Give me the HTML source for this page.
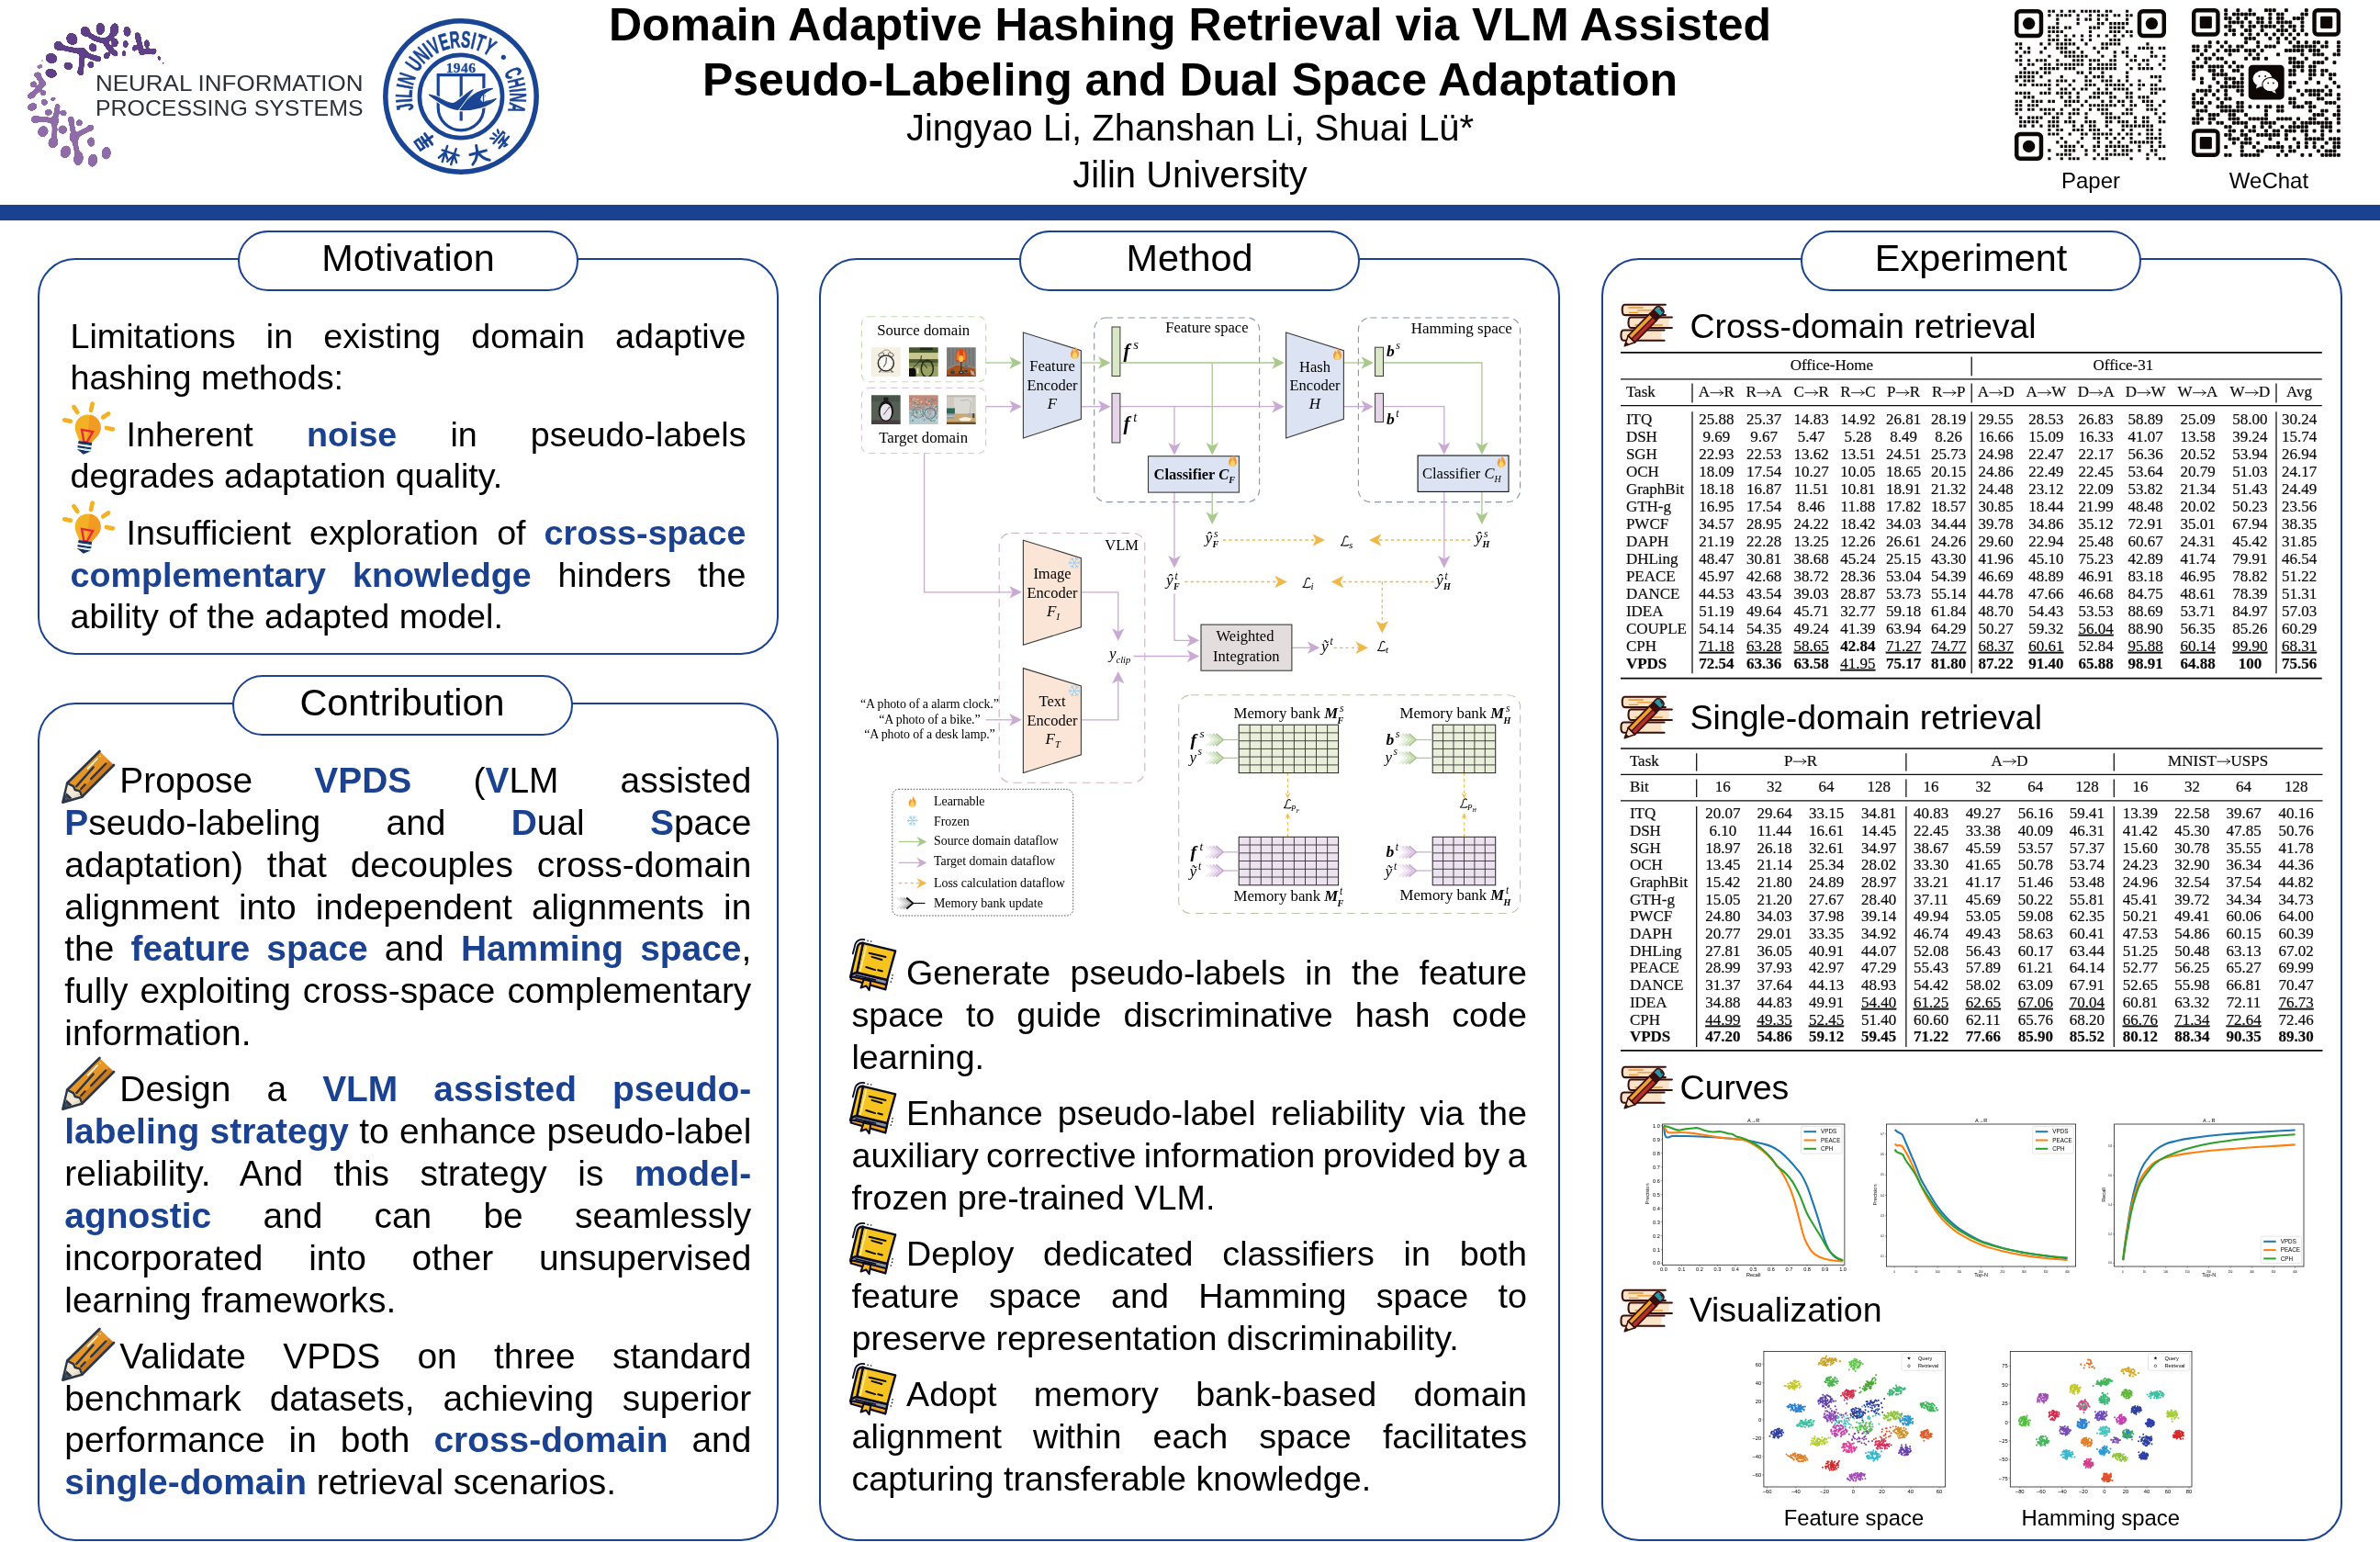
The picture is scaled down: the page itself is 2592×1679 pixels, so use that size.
<!DOCTYPE html>
<html><head><meta charset="utf-8"><title>Poster</title>
<style>
html,body{margin:0;padding:0;background:#fff;}
body{width:2592px;height:1679px;position:relative;overflow:hidden;will-change:transform;font-family:"Liberation Sans",sans-serif;color:#000;}
.abs{position:absolute;}
.box{position:absolute;border:2.5px solid #1a4291;border-radius:41px;box-sizing:border-box;background:#fff;}
.pill{position:absolute;border:2.5px solid #1a4291;border-radius:33px;box-sizing:border-box;background:#fff;text-align:center;font-size:41.4px;}
.ln{position:absolute;white-space:nowrap;font-size:37.7px;line-height:46px;height:46px;}
.j{text-align:justify;text-align-last:justify;white-space:normal;}
b.k{color:#1a4291;font-weight:bold;}
.sec{position:absolute;white-space:nowrap;font-size:37.5px;line-height:46px;}
.ser{font-family:"Liberation Serif",serif;}
svg{position:absolute;overflow:visible;}
svg text{font-family:"Liberation Serif",serif;}
svg text.sans{font-family:"Liberation Sans",sans-serif;}
</style></head><body>

<div class="abs" style="left:0;top:223px;width:2592px;height:17.2px;background:#1a4291"></div>
<div class="abs" style="left:0;width:2592px;top:-3px;text-align:center;font-weight:bold;font-size:50px;line-height:60px;white-space:nowrap;">Domain Adaptive Hashing Retrieval via VLM Assisted<br>Pseudo-Labeling and Dual Space Adaptation</div>
<div class="abs" style="left:0;width:2592px;top:113.7px;text-align:center;font-size:40px;line-height:51.5px;white-space:nowrap;">Jingyao Li, Zhanshan Li, Shuai Lü*<br>Jilin University</div>
<div class="abs" style="left:2177px;width:200px;top:182px;text-align:center;font-size:24px;line-height:30px;">Paper</div>
<div class="abs" style="left:2371px;width:200px;top:182px;text-align:center;font-size:24px;line-height:30px;">WeChat</div>
<svg width="200" height="180" viewBox="0 0 1713 1542" style="left:20px;top:15px;"><defs><filter id="goo" x="-5%" y="-5%" width="110%" height="110%"><feGaussianBlur in="SourceGraphic" stdDeviation="9" result="b"/><feColorMatrix in="b" mode="matrix" values="1 0 0 0 0  0 1 0 0 0  0 0 1 0 0  0 0 0 16 -5.2"/></filter></defs><g filter="url(#goo)"><path d="M625 165 C700 240 760 250 800 250 C860 240 880 200 895 150 M800 250 C830 300 870 350 905 372 M375 300 C450 340 520 330 600 360 C660 400 700 410 740 420 M600 360 C590 430 590 500 580 545 M1115 215 C1130 280 1140 330 1150 360 C1200 350 1230 340 1262 352" fill="none" stroke="#5f3f86" stroke-width="44" stroke-linecap="round"/><ellipse cx="765" cy="140" rx="38" ry="55" fill="#5f3f86" transform="rotate(0 765 140)"/><ellipse cx="895" cy="150" rx="38" ry="60" fill="#5f3f86" transform="rotate(10 895 150)"/><ellipse cx="1015" cy="165" rx="32" ry="45" fill="#5f3f86" transform="rotate(-5 1015 165)"/><ellipse cx="1115" cy="215" rx="25" ry="40" fill="#5f3f86" transform="rotate(-15 1115 215)"/><ellipse cx="1198" cy="280" rx="22" ry="35" fill="#5f3f86" transform="rotate(-5 1198 280)"/><ellipse cx="625" cy="165" rx="42" ry="45" fill="#5f3f86" transform="rotate(-30 625 165)"/><ellipse cx="500" cy="235" rx="48" ry="55" fill="#5f3f86" transform="rotate(-30 500 235)"/><ellipse cx="900" cy="270" rx="28" ry="38" fill="#5f3f86" transform="rotate(0 900 270)"/><ellipse cx="1000" cy="283" rx="22" ry="32" fill="#5f3f86" transform="rotate(0 1000 283)"/><ellipse cx="1085" cy="320" rx="20" ry="28" fill="#5f3f86" transform="rotate(10 1085 320)"/><ellipse cx="695" cy="315" rx="33" ry="38" fill="#5f3f86" transform="rotate(-20 695 315)"/><ellipse cx="375" cy="300" rx="44" ry="40" fill="#5f3f86" transform="rotate(30 375 300)"/><ellipse cx="825" cy="390" rx="25" ry="30" fill="#5f3f86" transform="rotate(20 825 390)"/><ellipse cx="905" cy="372" rx="18" ry="25" fill="#5f3f86" transform="rotate(-10 905 372)"/><ellipse cx="985" cy="370" rx="17" ry="25" fill="#5f3f86" transform="rotate(0 985 370)"/><ellipse cx="1262" cy="352" rx="22" ry="30" fill="#5f3f86" transform="rotate(30 1262 352)"/><ellipse cx="1313" cy="415" rx="12" ry="25" fill="#5f3f86" transform="rotate(-15 1313 415)"/><ellipse cx="1350" cy="460" rx="9" ry="14" fill="#5f3f86" transform="rotate(-20 1350 460)"/><ellipse cx="308" cy="415" rx="52" ry="45" fill="#5f3f86" transform="rotate(20 308 415)"/><ellipse cx="465" cy="487" rx="40" ry="33" fill="#5f3f86" transform="rotate(15 465 487)"/><ellipse cx="675" cy="475" rx="27" ry="28" fill="#5f3f86" transform="rotate(0 675 475)"/><ellipse cx="740" cy="420" rx="32" ry="25" fill="#5f3f86" transform="rotate(20 740 420)"/><ellipse cx="580" cy="545" rx="28" ry="28" fill="#5f3f86" transform="rotate(0 580 545)"/><ellipse cx="305" cy="555" rx="52" ry="40" fill="#5f3f86" transform="rotate(15 305 555)"/><ellipse cx="600" cy="360" rx="52" ry="38" fill="#5f3f86" transform="rotate(30 600 360)"/></g><g filter="url(#goo)"><path d="M160 985 C230 975 290 990 335 1000 C340 1080 340 1150 325 1200 M365 863 C360 920 350 960 335 1000 M490 985 C500 1050 510 1100 520 1150 C580 1110 620 1090 672 1065 M520 1150 C530 1230 550 1290 560 1350 M178 570 C200 610 215 630 230 650 C190 700 150 740 120 762" fill="none" stroke="#8f6ca7" stroke-width="42" stroke-linecap="round"/><ellipse cx="222" cy="437" rx="16" ry="8" fill="#a68abb" transform="rotate(-15 222 437)"/><ellipse cx="200" cy="492" rx="28" ry="15" fill="#9574ad" transform="rotate(-15 200 492)"/><ellipse cx="178" cy="570" rx="32" ry="22" fill="#8f6ca7" transform="rotate(-10 178 570)"/><ellipse cx="140" cy="657" rx="30" ry="25" fill="#8f6ca7" transform="rotate(-20 140 657)"/><ellipse cx="230" cy="650" rx="26" ry="26" fill="#8f6ca7" transform="rotate(0 230 650)"/><ellipse cx="232" cy="738" rx="25" ry="22" fill="#8f6ca7" transform="rotate(-20 232 738)"/><ellipse cx="120" cy="762" rx="36" ry="25" fill="#8f6ca7" transform="rotate(-25 120 762)"/><ellipse cx="325" cy="795" rx="25" ry="15" fill="#8f6ca7" transform="rotate(-15 325 795)"/><ellipse cx="242" cy="825" rx="28" ry="27" fill="#8f6ca7" transform="rotate(-20 242 825)"/><ellipse cx="130" cy="868" rx="44" ry="33" fill="#8f6ca7" transform="rotate(-20 130 868)"/><ellipse cx="365" cy="863" rx="20" ry="22" fill="#8f6ca7" transform="rotate(0 365 863)"/><ellipse cx="280" cy="918" rx="33" ry="27" fill="#8f6ca7" transform="rotate(-15 280 918)"/><ellipse cx="420" cy="925" rx="28" ry="27" fill="#8f6ca7" transform="rotate(-10 420 925)"/><ellipse cx="160" cy="985" rx="40" ry="34" fill="#8f6ca7" transform="rotate(-20 160 985)"/><ellipse cx="490" cy="985" rx="25" ry="28" fill="#8f6ca7" transform="rotate(0 490 985)"/><ellipse cx="568" cy="1017" rx="27" ry="28" fill="#8f6ca7" transform="rotate(0 568 1017)"/><ellipse cx="672" cy="1065" rx="28" ry="28" fill="#8f6ca7" transform="rotate(0 672 1065)"/><ellipse cx="230" cy="1098" rx="45" ry="50" fill="#8f6ca7" transform="rotate(30 230 1098)"/><ellipse cx="415" cy="1080" rx="38" ry="38" fill="#8f6ca7" transform="rotate(20 415 1080)"/><ellipse cx="335" cy="1000" rx="40" ry="40" fill="#8f6ca7" transform="rotate(0 335 1000)"/><ellipse cx="325" cy="1200" rx="42" ry="52" fill="#8f6ca7" transform="rotate(25 325 1200)"/><ellipse cx="520" cy="1150" rx="42" ry="50" fill="#8f6ca7" transform="rotate(0 520 1150)"/><ellipse cx="678" cy="1195" rx="32" ry="42" fill="#8f6ca7" transform="rotate(-5 678 1195)"/><ellipse cx="440" cy="1288" rx="45" ry="57" fill="#8f6ca7" transform="rotate(20 440 1288)"/><ellipse cx="560" cy="1350" rx="42" ry="62" fill="#8f6ca7" transform="rotate(10 560 1350)"/><ellipse cx="693" cy="1368" rx="42" ry="58" fill="#8f6ca7" transform="rotate(10 693 1368)"/><ellipse cx="820" cy="1300" rx="40" ry="57" fill="#8f6ca7" transform="rotate(5 820 1300)"/></g></svg><svg width="300" height="60" style="left:103.5px;top:75px;"><g class="sans" fill="#2d3038" font-size="24.2"><text class="sans" x="0" y="24.2" textLength="291.5" lengthAdjust="spacingAndGlyphs">NEURAL INFORMATION</text><text class="sans" x="0" y="51.2" textLength="291.5" lengthAdjust="spacingAndGlyphs">PROCESSING SYSTEMS</text></g></svg><svg width="190" height="190" viewBox="-95 -95 190 190" style="left:406.8px;top:9.900000000000006px;"><circle r="82.2" fill="#fff" stroke="#1a4595" stroke-width="5.5"/><circle r="45.1" fill="none" stroke="#1a4595" stroke-width="4.6"/><text class="sans" transform="translate(-52.42 10.21) rotate(-101.0) scale(0.600 1)" x="0" y="0" text-anchor="middle" font-size="25.5" font-weight="bold" fill="#1a4595" stroke="#1a4595" stroke-width="0.6">J</text><text class="sans" transform="translate(-53.25 4.00) rotate(-94.3) scale(0.600 1)" x="0" y="0" text-anchor="middle" font-size="25.5" font-weight="bold" fill="#1a4595" stroke="#1a4595" stroke-width="0.6">I</text><text class="sans" transform="translate(-53.33 -2.67) rotate(-87.1) scale(0.600 1)" x="0" y="0" text-anchor="middle" font-size="25.5" font-weight="bold" fill="#1a4595" stroke="#1a4595" stroke-width="0.6">L</text><text class="sans" transform="translate(-52.58 -9.31) rotate(-80.0) scale(0.600 1)" x="0" y="0" text-anchor="middle" font-size="25.5" font-weight="bold" fill="#1a4595" stroke="#1a4595" stroke-width="0.6">I</text><text class="sans" transform="translate(-50.76 -16.59) rotate(-71.9) scale(0.600 1)" x="0" y="0" text-anchor="middle" font-size="25.5" font-weight="bold" fill="#1a4595" stroke="#1a4595" stroke-width="0.6">N</text><text class="sans" transform="translate(-43.97 -30.30) rotate(-55.4) scale(0.600 1)" x="0" y="0" text-anchor="middle" font-size="25.5" font-weight="bold" fill="#1a4595" stroke="#1a4595" stroke-width="0.6">U</text><text class="sans" transform="translate(-36.95 -38.55) rotate(-43.8) scale(0.600 1)" x="0" y="0" text-anchor="middle" font-size="25.5" font-weight="bold" fill="#1a4595" stroke="#1a4595" stroke-width="0.6">N</text><text class="sans" transform="translate(-31.18 -43.35) rotate(-35.7) scale(0.600 1)" x="0" y="0" text-anchor="middle" font-size="25.5" font-weight="bold" fill="#1a4595" stroke="#1a4595" stroke-width="0.6">I</text><text class="sans" transform="translate(-25.16 -47.10) rotate(-28.1) scale(0.600 1)" x="0" y="0" text-anchor="middle" font-size="25.5" font-weight="bold" fill="#1a4595" stroke="#1a4595" stroke-width="0.6">V</text><text class="sans" transform="translate(-15.93 -50.97) rotate(-17.4) scale(0.600 1)" x="0" y="0" text-anchor="middle" font-size="25.5" font-weight="bold" fill="#1a4595" stroke="#1a4595" stroke-width="0.6">E</text><text class="sans" transform="translate(-5.73 -53.09) rotate(-6.2) scale(0.600 1)" x="0" y="0" text-anchor="middle" font-size="25.5" font-weight="bold" fill="#1a4595" stroke="#1a4595" stroke-width="0.6">R</text><text class="sans" transform="translate(4.69 -53.19) rotate(5.0) scale(0.600 1)" x="0" y="0" text-anchor="middle" font-size="25.5" font-weight="bold" fill="#1a4595" stroke="#1a4595" stroke-width="0.6">S</text><text class="sans" transform="translate(11.70 -52.10) rotate(12.7) scale(0.600 1)" x="0" y="0" text-anchor="middle" font-size="25.5" font-weight="bold" fill="#1a4595" stroke="#1a4595" stroke-width="0.6">I</text><text class="sans" transform="translate(18.11 -50.24) rotate(19.8) scale(0.600 1)" x="0" y="0" text-anchor="middle" font-size="25.5" font-weight="bold" fill="#1a4595" stroke="#1a4595" stroke-width="0.6">T</text><text class="sans" transform="translate(26.80 -46.19) rotate(30.1) scale(0.600 1)" x="0" y="0" text-anchor="middle" font-size="25.5" font-weight="bold" fill="#1a4595" stroke="#1a4595" stroke-width="0.6">Y</text><text class="sans" transform="translate(48.71 -21.89) rotate(65.8) scale(0.547 1)" x="0" y="0" text-anchor="middle" font-size="25.5" font-weight="bold" fill="#1a4595" stroke="#1a4595" stroke-width="0.6">C</text><text class="sans" transform="translate(51.90 -12.55) rotate(76.4) scale(0.547 1)" x="0" y="0" text-anchor="middle" font-size="25.5" font-weight="bold" fill="#1a4595" stroke="#1a4595" stroke-width="0.6">H</text><text class="sans" transform="translate(53.08 -5.81) rotate(83.8) scale(0.547 1)" x="0" y="0" text-anchor="middle" font-size="25.5" font-weight="bold" fill="#1a4595" stroke="#1a4595" stroke-width="0.6">I</text><text class="sans" transform="translate(53.39 1.02) rotate(91.1) scale(0.547 1)" x="0" y="0" text-anchor="middle" font-size="25.5" font-weight="bold" fill="#1a4595" stroke="#1a4595" stroke-width="0.6">N</text><text class="sans" transform="translate(52.29 10.83) rotate(101.7) scale(0.547 1)" x="0" y="0" text-anchor="middle" font-size="25.5" font-weight="bold" fill="#1a4595" stroke="#1a4595" stroke-width="0.6">A</text><circle cx="46.3" cy="-42.7" r="2.6" fill="#1a4595"/><text x="0" y="-26" font-size="15.5" font-weight="bold" text-anchor="middle" fill="#1a4595" stroke="#1a4595" stroke-width="0.3" letter-spacing="0.4">1946</text><path d="M-24.8 -23.4 H24.9 V12.3 A24.8 24.5 0 0 1 -24.8 12.3 Z" fill="none" stroke="#1a4595" stroke-width="3.2"/><path d="M0.2 -23.4 V26.5" stroke="#1a4595" stroke-width="3.2"/><path d="M-34.6 -1.8 C-22.9 0.0 -16.8 8.0 -8.1 7.6 C0.5 3.7 6.7 -4.9 13.4 -7.1 C9.1 0.0 1.7 9.9 -3.2 14.5 C-10.6 13.6 -22.9 7.4 -34.6 -1.8Z M-1.4 14.5 C7.9 3.7 14.0 -6.8 34.4 -8.6 C26.4 -4.9 21.4 -0.6 20.4 3.7 C26.4 7.4 33.8 4.3 38.1 2.5 C31.3 10.5 14.0 15.4 -1.4 14.5Z" fill="none" stroke="#fff" stroke-width="3.6"/><path d="M-34.6 -1.8 C-22.9 0.0 -16.8 8.0 -8.1 7.6 C0.5 3.7 6.7 -4.9 13.4 -7.1 C9.1 0.0 1.7 9.9 -3.2 14.5 C-10.6 13.6 -22.9 7.4 -34.6 -1.8Z M-1.4 14.5 C7.9 3.7 14.0 -6.8 34.4 -8.6 C26.4 -4.9 21.4 -0.6 20.4 3.7 C26.4 7.4 33.8 4.3 38.1 2.5 C31.3 10.5 14.0 15.4 -1.4 14.5Z" fill="#1a4595" stroke="#1a4595" stroke-width="1.2" stroke-linejoin="round"/><path d="M14.7 -8.0L-2.2 14.8" stroke="#fff" stroke-width="1"/><ellipse cx="24.5" cy="2.5" rx="2.6" ry="3.6" fill="#fff"/><path d="M24.5 -3.7V8.6" stroke="#1a4595" stroke-width="1.4"/><g transform="translate(-39.5 49.3) rotate(55) scale(1.0)" stroke="#1a4595" stroke-linecap="round" fill="none" stroke-width="3"><path d="M-7 -5H7M0 -10V1M-6 0H6" stroke-width="3"/><path d="M-6 4H5V9H-6Z" stroke-width="2.6"/></g><g transform="translate(-12.8 64.1) rotate(18) scale(1.0)" stroke="#1a4595" stroke-linecap="round" fill="none" stroke-width="3"><path d="M-9 -3H-1M-5 -9V9M-5 -2L-10 6M-5 -2L-1 4M1 -3H10M5 -9V9M5 -2L0 7M5 -2L10 5" stroke-width="2.4"/></g><g transform="translate(19.2 63.1) rotate(-15) scale(1.0)" stroke="#1a4595" stroke-linecap="round" fill="none" stroke-width="3"><path d="M-9 -2H9M0 -10C0 -2 -3 5 -9 9M0 -2C2 4 5 7 10 9" stroke-width="3"/></g><g transform="translate(43.0 46.8) rotate(-50) scale(1.0)" stroke="#1a4595" stroke-linecap="round" fill="none" stroke-width="3"><path d="M-6 -9L-4 -6M0 -10V-6M6 -9L4 -6M-8 -3H8V-1M-4 1H4L0 4V9L-3 8M-8 5H8" stroke-width="2.4"/></g></svg><svg width="165" height="165" viewBox="0 0 37 37" style="left:2193.8px;top:9.6px;" shape-rendering="geometricPrecision"><path d="M8.15 0.15h0.7v0.7h-0.7zM9.15 0.15h0.7v0.7h-0.7zM11.15 0.15h0.7v0.7h-0.7zM13.15 0.15h0.7v0.7h-0.7zM14.15 0.15h0.7v0.7h-0.7zM16.15 0.15h0.7v0.7h-0.7zM17.15 0.15h0.7v0.7h-0.7zM18.15 0.15h0.7v0.7h-0.7zM19.15 0.15h0.7v0.7h-0.7zM20.15 0.15h0.7v0.7h-0.7zM22.15 0.15h0.7v0.7h-0.7zM23.15 0.15h0.7v0.7h-0.7zM27.15 0.15h0.7v0.7h-0.7zM8.15 1.15h0.7v0.7h-0.7zM10.15 1.15h0.7v0.7h-0.7zM11.15 1.15h0.7v0.7h-0.7zM12.15 1.15h0.7v0.7h-0.7zM13.15 1.15h0.7v0.7h-0.7zM15.15 1.15h0.7v0.7h-0.7zM18.15 1.15h0.7v0.7h-0.7zM20.15 1.15h0.7v0.7h-0.7zM21.15 1.15h0.7v0.7h-0.7zM22.15 1.15h0.7v0.7h-0.7zM24.15 1.15h0.7v0.7h-0.7zM25.15 1.15h0.7v0.7h-0.7zM27.15 1.15h0.7v0.7h-0.7zM28.15 1.15h0.7v0.7h-0.7zM10.15 2.15h0.7v0.7h-0.7zM15.15 2.15h0.7v0.7h-0.7zM17.15 2.15h0.7v0.7h-0.7zM18.15 2.15h0.7v0.7h-0.7zM20.15 2.15h0.7v0.7h-0.7zM22.15 2.15h0.7v0.7h-0.7zM27.15 2.15h0.7v0.7h-0.7zM10.15 3.15h0.7v0.7h-0.7zM15.15 3.15h0.7v0.7h-0.7zM20.15 3.15h0.7v0.7h-0.7zM21.15 3.15h0.7v0.7h-0.7zM23.15 3.15h0.7v0.7h-0.7zM24.15 3.15h0.7v0.7h-0.7zM25.15 3.15h0.7v0.7h-0.7zM26.15 3.15h0.7v0.7h-0.7zM27.15 3.15h0.7v0.7h-0.7zM8.15 4.15h0.7v0.7h-0.7zM9.15 4.15h0.7v0.7h-0.7zM10.15 4.15h0.7v0.7h-0.7zM12.15 4.15h0.7v0.7h-0.7zM13.15 4.15h0.7v0.7h-0.7zM18.15 4.15h0.7v0.7h-0.7zM19.15 4.15h0.7v0.7h-0.7zM20.15 4.15h0.7v0.7h-0.7zM23.15 4.15h0.7v0.7h-0.7zM24.15 4.15h0.7v0.7h-0.7zM25.15 4.15h0.7v0.7h-0.7zM26.15 4.15h0.7v0.7h-0.7zM8.15 5.15h0.7v0.7h-0.7zM9.15 5.15h0.7v0.7h-0.7zM10.15 5.15h0.7v0.7h-0.7zM11.15 5.15h0.7v0.7h-0.7zM18.15 5.15h0.7v0.7h-0.7zM23.15 5.15h0.7v0.7h-0.7zM24.15 5.15h0.7v0.7h-0.7zM25.15 5.15h0.7v0.7h-0.7zM27.15 5.15h0.7v0.7h-0.7zM28.15 5.15h0.7v0.7h-0.7zM8.15 6.15h0.7v0.7h-0.7zM10.15 6.15h0.7v0.7h-0.7zM12.15 6.15h0.7v0.7h-0.7zM14.15 6.15h0.7v0.7h-0.7zM16.15 6.15h0.7v0.7h-0.7zM18.15 6.15h0.7v0.7h-0.7zM20.15 6.15h0.7v0.7h-0.7zM22.15 6.15h0.7v0.7h-0.7zM24.15 6.15h0.7v0.7h-0.7zM26.15 6.15h0.7v0.7h-0.7zM28.15 6.15h0.7v0.7h-0.7zM8.15 7.15h0.7v0.7h-0.7zM9.15 7.15h0.7v0.7h-0.7zM10.15 7.15h0.7v0.7h-0.7zM12.15 7.15h0.7v0.7h-0.7zM13.15 7.15h0.7v0.7h-0.7zM16.15 7.15h0.7v0.7h-0.7zM18.15 7.15h0.7v0.7h-0.7zM23.15 7.15h0.7v0.7h-0.7zM24.15 7.15h0.7v0.7h-0.7zM25.15 7.15h0.7v0.7h-0.7zM0.15 8.15h0.7v0.7h-0.7zM1.15 8.15h0.7v0.7h-0.7zM6.15 8.15h0.7v0.7h-0.7zM8.15 8.15h0.7v0.7h-0.7zM10.15 8.15h0.7v0.7h-0.7zM11.15 8.15h0.7v0.7h-0.7zM12.15 8.15h0.7v0.7h-0.7zM13.15 8.15h0.7v0.7h-0.7zM14.15 8.15h0.7v0.7h-0.7zM17.15 8.15h0.7v0.7h-0.7zM21.15 8.15h0.7v0.7h-0.7zM22.15 8.15h0.7v0.7h-0.7zM23.15 8.15h0.7v0.7h-0.7zM24.15 8.15h0.7v0.7h-0.7zM25.15 8.15h0.7v0.7h-0.7zM32.15 8.15h0.7v0.7h-0.7zM1.15 9.15h0.7v0.7h-0.7zM3.15 9.15h0.7v0.7h-0.7zM7.15 9.15h0.7v0.7h-0.7zM10.15 9.15h0.7v0.7h-0.7zM11.15 9.15h0.7v0.7h-0.7zM12.15 9.15h0.7v0.7h-0.7zM15.15 9.15h0.7v0.7h-0.7zM19.15 9.15h0.7v0.7h-0.7zM21.15 9.15h0.7v0.7h-0.7zM22.15 9.15h0.7v0.7h-0.7zM27.15 9.15h0.7v0.7h-0.7zM30.15 9.15h0.7v0.7h-0.7zM31.15 9.15h0.7v0.7h-0.7zM32.15 9.15h0.7v0.7h-0.7zM33.15 9.15h0.7v0.7h-0.7zM35.15 9.15h0.7v0.7h-0.7zM36.15 9.15h0.7v0.7h-0.7zM0.15 10.15h0.7v0.7h-0.7zM2.15 10.15h0.7v0.7h-0.7zM3.15 10.15h0.7v0.7h-0.7zM6.15 10.15h0.7v0.7h-0.7zM11.15 10.15h0.7v0.7h-0.7zM12.15 10.15h0.7v0.7h-0.7zM13.15 10.15h0.7v0.7h-0.7zM14.15 10.15h0.7v0.7h-0.7zM16.15 10.15h0.7v0.7h-0.7zM20.15 10.15h0.7v0.7h-0.7zM24.15 10.15h0.7v0.7h-0.7zM26.15 10.15h0.7v0.7h-0.7zM27.15 10.15h0.7v0.7h-0.7zM33.15 10.15h0.7v0.7h-0.7zM1.15 11.15h0.7v0.7h-0.7zM8.15 11.15h0.7v0.7h-0.7zM12.15 11.15h0.7v0.7h-0.7zM13.15 11.15h0.7v0.7h-0.7zM14.15 11.15h0.7v0.7h-0.7zM15.15 11.15h0.7v0.7h-0.7zM16.15 11.15h0.7v0.7h-0.7zM17.15 11.15h0.7v0.7h-0.7zM21.15 11.15h0.7v0.7h-0.7zM24.15 11.15h0.7v0.7h-0.7zM27.15 11.15h0.7v0.7h-0.7zM29.15 11.15h0.7v0.7h-0.7zM33.15 11.15h0.7v0.7h-0.7zM34.15 11.15h0.7v0.7h-0.7zM36.15 11.15h0.7v0.7h-0.7zM0.15 12.15h0.7v0.7h-0.7zM1.15 12.15h0.7v0.7h-0.7zM3.15 12.15h0.7v0.7h-0.7zM5.15 12.15h0.7v0.7h-0.7zM6.15 12.15h0.7v0.7h-0.7zM7.15 12.15h0.7v0.7h-0.7zM10.15 12.15h0.7v0.7h-0.7zM14.15 12.15h0.7v0.7h-0.7zM15.15 12.15h0.7v0.7h-0.7zM16.15 12.15h0.7v0.7h-0.7zM18.15 12.15h0.7v0.7h-0.7zM19.15 12.15h0.7v0.7h-0.7zM20.15 12.15h0.7v0.7h-0.7zM23.15 12.15h0.7v0.7h-0.7zM24.15 12.15h0.7v0.7h-0.7zM28.15 12.15h0.7v0.7h-0.7zM29.15 12.15h0.7v0.7h-0.7zM31.15 12.15h0.7v0.7h-0.7zM32.15 12.15h0.7v0.7h-0.7zM36.15 12.15h0.7v0.7h-0.7zM1.15 13.15h0.7v0.7h-0.7zM3.15 13.15h0.7v0.7h-0.7zM4.15 13.15h0.7v0.7h-0.7zM7.15 13.15h0.7v0.7h-0.7zM8.15 13.15h0.7v0.7h-0.7zM10.15 13.15h0.7v0.7h-0.7zM11.15 13.15h0.7v0.7h-0.7zM12.15 13.15h0.7v0.7h-0.7zM13.15 13.15h0.7v0.7h-0.7zM14.15 13.15h0.7v0.7h-0.7zM15.15 13.15h0.7v0.7h-0.7zM16.15 13.15h0.7v0.7h-0.7zM18.15 13.15h0.7v0.7h-0.7zM20.15 13.15h0.7v0.7h-0.7zM21.15 13.15h0.7v0.7h-0.7zM22.15 13.15h0.7v0.7h-0.7zM23.15 13.15h0.7v0.7h-0.7zM24.15 13.15h0.7v0.7h-0.7zM27.15 13.15h0.7v0.7h-0.7zM30.15 13.15h0.7v0.7h-0.7zM32.15 13.15h0.7v0.7h-0.7zM35.15 13.15h0.7v0.7h-0.7zM2.15 14.15h0.7v0.7h-0.7zM6.15 14.15h0.7v0.7h-0.7zM7.15 14.15h0.7v0.7h-0.7zM8.15 14.15h0.7v0.7h-0.7zM9.15 14.15h0.7v0.7h-0.7zM10.15 14.15h0.7v0.7h-0.7zM12.15 14.15h0.7v0.7h-0.7zM13.15 14.15h0.7v0.7h-0.7zM14.15 14.15h0.7v0.7h-0.7zM18.15 14.15h0.7v0.7h-0.7zM19.15 14.15h0.7v0.7h-0.7zM20.15 14.15h0.7v0.7h-0.7zM21.15 14.15h0.7v0.7h-0.7zM22.15 14.15h0.7v0.7h-0.7zM23.15 14.15h0.7v0.7h-0.7zM24.15 14.15h0.7v0.7h-0.7zM28.15 14.15h0.7v0.7h-0.7zM30.15 14.15h0.7v0.7h-0.7zM31.15 14.15h0.7v0.7h-0.7zM32.15 14.15h0.7v0.7h-0.7zM33.15 14.15h0.7v0.7h-0.7zM36.15 14.15h0.7v0.7h-0.7zM1.15 15.15h0.7v0.7h-0.7zM2.15 15.15h0.7v0.7h-0.7zM3.15 15.15h0.7v0.7h-0.7zM4.15 15.15h0.7v0.7h-0.7zM5.15 15.15h0.7v0.7h-0.7zM7.15 15.15h0.7v0.7h-0.7zM8.15 15.15h0.7v0.7h-0.7zM15.15 15.15h0.7v0.7h-0.7zM16.15 15.15h0.7v0.7h-0.7zM18.15 15.15h0.7v0.7h-0.7zM21.15 15.15h0.7v0.7h-0.7zM27.15 15.15h0.7v0.7h-0.7zM0.15 16.15h0.7v0.7h-0.7zM1.15 16.15h0.7v0.7h-0.7zM2.15 16.15h0.7v0.7h-0.7zM3.15 16.15h0.7v0.7h-0.7zM4.15 16.15h0.7v0.7h-0.7zM6.15 16.15h0.7v0.7h-0.7zM11.15 16.15h0.7v0.7h-0.7zM17.15 16.15h0.7v0.7h-0.7zM19.15 16.15h0.7v0.7h-0.7zM20.15 16.15h0.7v0.7h-0.7zM21.15 16.15h0.7v0.7h-0.7zM23.15 16.15h0.7v0.7h-0.7zM27.15 16.15h0.7v0.7h-0.7zM33.15 16.15h0.7v0.7h-0.7zM34.15 16.15h0.7v0.7h-0.7zM35.15 16.15h0.7v0.7h-0.7zM0.15 17.15h0.7v0.7h-0.7zM2.15 17.15h0.7v0.7h-0.7zM3.15 17.15h0.7v0.7h-0.7zM4.15 17.15h0.7v0.7h-0.7zM8.15 17.15h0.7v0.7h-0.7zM10.15 17.15h0.7v0.7h-0.7zM11.15 17.15h0.7v0.7h-0.7zM12.15 17.15h0.7v0.7h-0.7zM14.15 17.15h0.7v0.7h-0.7zM17.15 17.15h0.7v0.7h-0.7zM18.15 17.15h0.7v0.7h-0.7zM21.15 17.15h0.7v0.7h-0.7zM22.15 17.15h0.7v0.7h-0.7zM23.15 17.15h0.7v0.7h-0.7zM25.15 17.15h0.7v0.7h-0.7zM27.15 17.15h0.7v0.7h-0.7zM30.15 17.15h0.7v0.7h-0.7zM35.15 17.15h0.7v0.7h-0.7zM1.15 18.15h0.7v0.7h-0.7zM2.15 18.15h0.7v0.7h-0.7zM4.15 18.15h0.7v0.7h-0.7zM5.15 18.15h0.7v0.7h-0.7zM6.15 18.15h0.7v0.7h-0.7zM7.15 18.15h0.7v0.7h-0.7zM8.15 18.15h0.7v0.7h-0.7zM10.15 18.15h0.7v0.7h-0.7zM13.15 18.15h0.7v0.7h-0.7zM17.15 18.15h0.7v0.7h-0.7zM18.15 18.15h0.7v0.7h-0.7zM19.15 18.15h0.7v0.7h-0.7zM22.15 18.15h0.7v0.7h-0.7zM23.15 18.15h0.7v0.7h-0.7zM24.15 18.15h0.7v0.7h-0.7zM25.15 18.15h0.7v0.7h-0.7zM26.15 18.15h0.7v0.7h-0.7zM28.15 18.15h0.7v0.7h-0.7zM30.15 18.15h0.7v0.7h-0.7zM31.15 18.15h0.7v0.7h-0.7zM33.15 18.15h0.7v0.7h-0.7zM34.15 18.15h0.7v0.7h-0.7zM8.15 19.15h0.7v0.7h-0.7zM11.15 19.15h0.7v0.7h-0.7zM12.15 19.15h0.7v0.7h-0.7zM14.15 19.15h0.7v0.7h-0.7zM16.15 19.15h0.7v0.7h-0.7zM17.15 19.15h0.7v0.7h-0.7zM20.15 19.15h0.7v0.7h-0.7zM22.15 19.15h0.7v0.7h-0.7zM24.15 19.15h0.7v0.7h-0.7zM25.15 19.15h0.7v0.7h-0.7zM26.15 19.15h0.7v0.7h-0.7zM27.15 19.15h0.7v0.7h-0.7zM30.15 19.15h0.7v0.7h-0.7zM33.15 19.15h0.7v0.7h-0.7zM34.15 19.15h0.7v0.7h-0.7zM35.15 19.15h0.7v0.7h-0.7zM36.15 19.15h0.7v0.7h-0.7zM0.15 20.15h0.7v0.7h-0.7zM1.15 20.15h0.7v0.7h-0.7zM2.15 20.15h0.7v0.7h-0.7zM3.15 20.15h0.7v0.7h-0.7zM6.15 20.15h0.7v0.7h-0.7zM7.15 20.15h0.7v0.7h-0.7zM8.15 20.15h0.7v0.7h-0.7zM10.15 20.15h0.7v0.7h-0.7zM11.15 20.15h0.7v0.7h-0.7zM12.15 20.15h0.7v0.7h-0.7zM13.15 20.15h0.7v0.7h-0.7zM15.15 20.15h0.7v0.7h-0.7zM19.15 20.15h0.7v0.7h-0.7zM20.15 20.15h0.7v0.7h-0.7zM21.15 20.15h0.7v0.7h-0.7zM22.15 20.15h0.7v0.7h-0.7zM23.15 20.15h0.7v0.7h-0.7zM27.15 20.15h0.7v0.7h-0.7zM28.15 20.15h0.7v0.7h-0.7zM33.15 20.15h0.7v0.7h-0.7zM34.15 20.15h0.7v0.7h-0.7zM2.15 21.15h0.7v0.7h-0.7zM3.15 21.15h0.7v0.7h-0.7zM4.15 21.15h0.7v0.7h-0.7zM11.15 21.15h0.7v0.7h-0.7zM13.15 21.15h0.7v0.7h-0.7zM15.15 21.15h0.7v0.7h-0.7zM18.15 21.15h0.7v0.7h-0.7zM19.15 21.15h0.7v0.7h-0.7zM20.15 21.15h0.7v0.7h-0.7zM23.15 21.15h0.7v0.7h-0.7zM24.15 21.15h0.7v0.7h-0.7zM27.15 21.15h0.7v0.7h-0.7zM28.15 21.15h0.7v0.7h-0.7zM30.15 21.15h0.7v0.7h-0.7zM31.15 21.15h0.7v0.7h-0.7zM32.15 21.15h0.7v0.7h-0.7zM0.15 22.15h0.7v0.7h-0.7zM1.15 22.15h0.7v0.7h-0.7zM4.15 22.15h0.7v0.7h-0.7zM5.15 22.15h0.7v0.7h-0.7zM6.15 22.15h0.7v0.7h-0.7zM8.15 22.15h0.7v0.7h-0.7zM9.15 22.15h0.7v0.7h-0.7zM12.15 22.15h0.7v0.7h-0.7zM13.15 22.15h0.7v0.7h-0.7zM14.15 22.15h0.7v0.7h-0.7zM15.15 22.15h0.7v0.7h-0.7zM17.15 22.15h0.7v0.7h-0.7zM21.15 22.15h0.7v0.7h-0.7zM23.15 22.15h0.7v0.7h-0.7zM25.15 22.15h0.7v0.7h-0.7zM26.15 22.15h0.7v0.7h-0.7zM28.15 22.15h0.7v0.7h-0.7zM31.15 22.15h0.7v0.7h-0.7zM32.15 22.15h0.7v0.7h-0.7zM33.15 22.15h0.7v0.7h-0.7zM36.15 22.15h0.7v0.7h-0.7zM0.15 23.15h0.7v0.7h-0.7zM1.15 23.15h0.7v0.7h-0.7zM3.15 23.15h0.7v0.7h-0.7zM4.15 23.15h0.7v0.7h-0.7zM5.15 23.15h0.7v0.7h-0.7zM12.15 23.15h0.7v0.7h-0.7zM13.15 23.15h0.7v0.7h-0.7zM16.15 23.15h0.7v0.7h-0.7zM18.15 23.15h0.7v0.7h-0.7zM19.15 23.15h0.7v0.7h-0.7zM20.15 23.15h0.7v0.7h-0.7zM21.15 23.15h0.7v0.7h-0.7zM22.15 23.15h0.7v0.7h-0.7zM23.15 23.15h0.7v0.7h-0.7zM24.15 23.15h0.7v0.7h-0.7zM26.15 23.15h0.7v0.7h-0.7zM28.15 23.15h0.7v0.7h-0.7zM29.15 23.15h0.7v0.7h-0.7zM32.15 23.15h0.7v0.7h-0.7zM33.15 23.15h0.7v0.7h-0.7zM35.15 23.15h0.7v0.7h-0.7zM0.15 24.15h0.7v0.7h-0.7zM1.15 24.15h0.7v0.7h-0.7zM3.15 24.15h0.7v0.7h-0.7zM4.15 24.15h0.7v0.7h-0.7zM6.15 24.15h0.7v0.7h-0.7zM7.15 24.15h0.7v0.7h-0.7zM8.15 24.15h0.7v0.7h-0.7zM9.15 24.15h0.7v0.7h-0.7zM11.15 24.15h0.7v0.7h-0.7zM14.15 24.15h0.7v0.7h-0.7zM15.15 24.15h0.7v0.7h-0.7zM18.15 24.15h0.7v0.7h-0.7zM20.15 24.15h0.7v0.7h-0.7zM21.15 24.15h0.7v0.7h-0.7zM22.15 24.15h0.7v0.7h-0.7zM27.15 24.15h0.7v0.7h-0.7zM28.15 24.15h0.7v0.7h-0.7zM32.15 24.15h0.7v0.7h-0.7zM33.15 24.15h0.7v0.7h-0.7zM34.15 24.15h0.7v0.7h-0.7zM0.15 25.15h0.7v0.7h-0.7zM7.15 25.15h0.7v0.7h-0.7zM8.15 25.15h0.7v0.7h-0.7zM10.15 25.15h0.7v0.7h-0.7zM11.15 25.15h0.7v0.7h-0.7zM13.15 25.15h0.7v0.7h-0.7zM14.15 25.15h0.7v0.7h-0.7zM15.15 25.15h0.7v0.7h-0.7zM17.15 25.15h0.7v0.7h-0.7zM21.15 25.15h0.7v0.7h-0.7zM22.15 25.15h0.7v0.7h-0.7zM23.15 25.15h0.7v0.7h-0.7zM26.15 25.15h0.7v0.7h-0.7zM27.15 25.15h0.7v0.7h-0.7zM28.15 25.15h0.7v0.7h-0.7zM34.15 25.15h0.7v0.7h-0.7zM36.15 25.15h0.7v0.7h-0.7zM1.15 26.15h0.7v0.7h-0.7zM3.15 26.15h0.7v0.7h-0.7zM4.15 26.15h0.7v0.7h-0.7zM5.15 26.15h0.7v0.7h-0.7zM6.15 26.15h0.7v0.7h-0.7zM9.15 26.15h0.7v0.7h-0.7zM10.15 26.15h0.7v0.7h-0.7zM13.15 26.15h0.7v0.7h-0.7zM17.15 26.15h0.7v0.7h-0.7zM22.15 26.15h0.7v0.7h-0.7zM23.15 26.15h0.7v0.7h-0.7zM24.15 26.15h0.7v0.7h-0.7zM25.15 26.15h0.7v0.7h-0.7zM29.15 26.15h0.7v0.7h-0.7zM31.15 26.15h0.7v0.7h-0.7zM32.15 26.15h0.7v0.7h-0.7zM35.15 26.15h0.7v0.7h-0.7zM1.15 27.15h0.7v0.7h-0.7zM2.15 27.15h0.7v0.7h-0.7zM3.15 27.15h0.7v0.7h-0.7zM4.15 27.15h0.7v0.7h-0.7zM5.15 27.15h0.7v0.7h-0.7zM8.15 27.15h0.7v0.7h-0.7zM9.15 27.15h0.7v0.7h-0.7zM10.15 27.15h0.7v0.7h-0.7zM12.15 27.15h0.7v0.7h-0.7zM13.15 27.15h0.7v0.7h-0.7zM14.15 27.15h0.7v0.7h-0.7zM17.15 27.15h0.7v0.7h-0.7zM18.15 27.15h0.7v0.7h-0.7zM19.15 27.15h0.7v0.7h-0.7zM22.15 27.15h0.7v0.7h-0.7zM23.15 27.15h0.7v0.7h-0.7zM25.15 27.15h0.7v0.7h-0.7zM26.15 27.15h0.7v0.7h-0.7zM27.15 27.15h0.7v0.7h-0.7zM29.15 27.15h0.7v0.7h-0.7zM31.15 27.15h0.7v0.7h-0.7zM32.15 27.15h0.7v0.7h-0.7zM35.15 27.15h0.7v0.7h-0.7zM36.15 27.15h0.7v0.7h-0.7zM1.15 28.15h0.7v0.7h-0.7zM2.15 28.15h0.7v0.7h-0.7zM4.15 28.15h0.7v0.7h-0.7zM6.15 28.15h0.7v0.7h-0.7zM8.15 28.15h0.7v0.7h-0.7zM9.15 28.15h0.7v0.7h-0.7zM10.15 28.15h0.7v0.7h-0.7zM14.15 28.15h0.7v0.7h-0.7zM16.15 28.15h0.7v0.7h-0.7zM18.15 28.15h0.7v0.7h-0.7zM19.15 28.15h0.7v0.7h-0.7zM22.15 28.15h0.7v0.7h-0.7zM26.15 28.15h0.7v0.7h-0.7zM27.15 28.15h0.7v0.7h-0.7zM28.15 28.15h0.7v0.7h-0.7zM29.15 28.15h0.7v0.7h-0.7zM30.15 28.15h0.7v0.7h-0.7zM31.15 28.15h0.7v0.7h-0.7zM32.15 28.15h0.7v0.7h-0.7zM33.15 28.15h0.7v0.7h-0.7zM8.15 29.15h0.7v0.7h-0.7zM10.15 29.15h0.7v0.7h-0.7zM11.15 29.15h0.7v0.7h-0.7zM14.15 29.15h0.7v0.7h-0.7zM15.15 29.15h0.7v0.7h-0.7zM16.15 29.15h0.7v0.7h-0.7zM18.15 29.15h0.7v0.7h-0.7zM19.15 29.15h0.7v0.7h-0.7zM20.15 29.15h0.7v0.7h-0.7zM23.15 29.15h0.7v0.7h-0.7zM26.15 29.15h0.7v0.7h-0.7zM28.15 29.15h0.7v0.7h-0.7zM32.15 29.15h0.7v0.7h-0.7zM33.15 29.15h0.7v0.7h-0.7zM35.15 29.15h0.7v0.7h-0.7zM8.15 30.15h0.7v0.7h-0.7zM9.15 30.15h0.7v0.7h-0.7zM10.15 30.15h0.7v0.7h-0.7zM13.15 30.15h0.7v0.7h-0.7zM16.15 30.15h0.7v0.7h-0.7zM17.15 30.15h0.7v0.7h-0.7zM19.15 30.15h0.7v0.7h-0.7zM20.15 30.15h0.7v0.7h-0.7zM21.15 30.15h0.7v0.7h-0.7zM22.15 30.15h0.7v0.7h-0.7zM23.15 30.15h0.7v0.7h-0.7zM25.15 30.15h0.7v0.7h-0.7zM27.15 30.15h0.7v0.7h-0.7zM28.15 30.15h0.7v0.7h-0.7zM30.15 30.15h0.7v0.7h-0.7zM32.15 30.15h0.7v0.7h-0.7zM33.15 30.15h0.7v0.7h-0.7zM35.15 30.15h0.7v0.7h-0.7zM11.15 31.15h0.7v0.7h-0.7zM16.15 31.15h0.7v0.7h-0.7zM19.15 31.15h0.7v0.7h-0.7zM20.15 31.15h0.7v0.7h-0.7zM22.15 31.15h0.7v0.7h-0.7zM24.15 31.15h0.7v0.7h-0.7zM26.15 31.15h0.7v0.7h-0.7zM28.15 31.15h0.7v0.7h-0.7zM32.15 31.15h0.7v0.7h-0.7zM33.15 31.15h0.7v0.7h-0.7zM34.15 31.15h0.7v0.7h-0.7zM35.15 31.15h0.7v0.7h-0.7zM10.15 32.15h0.7v0.7h-0.7zM12.15 32.15h0.7v0.7h-0.7zM15.15 32.15h0.7v0.7h-0.7zM20.15 32.15h0.7v0.7h-0.7zM23.15 32.15h0.7v0.7h-0.7zM25.15 32.15h0.7v0.7h-0.7zM28.15 32.15h0.7v0.7h-0.7zM29.15 32.15h0.7v0.7h-0.7zM30.15 32.15h0.7v0.7h-0.7zM31.15 32.15h0.7v0.7h-0.7zM32.15 32.15h0.7v0.7h-0.7zM33.15 32.15h0.7v0.7h-0.7zM35.15 32.15h0.7v0.7h-0.7zM11.15 33.15h0.7v0.7h-0.7zM12.15 33.15h0.7v0.7h-0.7zM13.15 33.15h0.7v0.7h-0.7zM14.15 33.15h0.7v0.7h-0.7zM16.15 33.15h0.7v0.7h-0.7zM19.15 33.15h0.7v0.7h-0.7zM20.15 33.15h0.7v0.7h-0.7zM22.15 33.15h0.7v0.7h-0.7zM23.15 33.15h0.7v0.7h-0.7zM24.15 33.15h0.7v0.7h-0.7zM25.15 33.15h0.7v0.7h-0.7zM26.15 33.15h0.7v0.7h-0.7zM27.15 33.15h0.7v0.7h-0.7zM30.15 33.15h0.7v0.7h-0.7zM33.15 33.15h0.7v0.7h-0.7zM35.15 33.15h0.7v0.7h-0.7zM36.15 33.15h0.7v0.7h-0.7zM8.15 34.15h0.7v0.7h-0.7zM12.15 34.15h0.7v0.7h-0.7zM13.15 34.15h0.7v0.7h-0.7zM14.15 34.15h0.7v0.7h-0.7zM17.15 34.15h0.7v0.7h-0.7zM19.15 34.15h0.7v0.7h-0.7zM22.15 34.15h0.7v0.7h-0.7zM24.15 34.15h0.7v0.7h-0.7zM26.15 34.15h0.7v0.7h-0.7zM27.15 34.15h0.7v0.7h-0.7zM28.15 34.15h0.7v0.7h-0.7zM30.15 34.15h0.7v0.7h-0.7zM33.15 34.15h0.7v0.7h-0.7zM34.15 34.15h0.7v0.7h-0.7zM10.15 35.15h0.7v0.7h-0.7zM11.15 35.15h0.7v0.7h-0.7zM12.15 35.15h0.7v0.7h-0.7zM13.15 35.15h0.7v0.7h-0.7zM17.15 35.15h0.7v0.7h-0.7zM20.15 35.15h0.7v0.7h-0.7zM22.15 35.15h0.7v0.7h-0.7zM23.15 35.15h0.7v0.7h-0.7zM24.15 35.15h0.7v0.7h-0.7zM25.15 35.15h0.7v0.7h-0.7zM26.15 35.15h0.7v0.7h-0.7zM27.15 35.15h0.7v0.7h-0.7zM32.15 35.15h0.7v0.7h-0.7zM34.15 35.15h0.7v0.7h-0.7zM8.15 36.15h0.7v0.7h-0.7zM11.15 36.15h0.7v0.7h-0.7zM13.15 36.15h0.7v0.7h-0.7zM14.15 36.15h0.7v0.7h-0.7zM15.15 36.15h0.7v0.7h-0.7zM19.15 36.15h0.7v0.7h-0.7zM21.15 36.15h0.7v0.7h-0.7zM22.15 36.15h0.7v0.7h-0.7zM28.15 36.15h0.7v0.7h-0.7zM32.15 36.15h0.7v0.7h-0.7zM35.15 36.15h0.7v0.7h-0.7zM36.15 36.15h0.7v0.7h-0.7z" fill="#0d0706"/><rect x="0.5" y="0.5" width="6" height="6" rx="0.9" fill="#fff" stroke="#0d0706" stroke-width="1"/><circle cx="3.5" cy="3.5" r="1.5" fill="#0d0706"/><rect x="30.5" y="0.5" width="6" height="6" rx="0.9" fill="#fff" stroke="#0d0706" stroke-width="1"/><circle cx="33.5" cy="3.5" r="1.5" fill="#0d0706"/><rect x="0.5" y="30.5" width="6" height="6" rx="0.9" fill="#fff" stroke="#0d0706" stroke-width="1"/><circle cx="3.5" cy="33.5" r="1.5" fill="#0d0706"/></svg><svg width="162" height="162" viewBox="0 0 37 37" style="left:2387.3px;top:9.2px;" shape-rendering="geometricPrecision"><path d="M8.17 0.17h0.66v0.66h-0.66zM11.17 0.17h0.66v0.66h-0.66zM14.17 0.17h0.66v0.66h-0.66zM18.17 0.17h0.66v0.66h-0.66zM19.17 0.17h0.66v0.66h-0.66zM20.17 0.17h0.66v0.66h-0.66zM23.17 0.17h0.66v0.66h-0.66zM28.17 0.17h0.66v0.66h-0.66zM8.17 1.17h0.66v0.66h-0.66zM10.17 1.17h0.66v0.66h-0.66zM11.17 1.17h0.66v0.66h-0.66zM12.17 1.17h0.66v0.66h-0.66zM13.17 1.17h0.66v0.66h-0.66zM14.17 1.17h0.66v0.66h-0.66zM15.17 1.17h0.66v0.66h-0.66zM19.17 1.17h0.66v0.66h-0.66zM21.17 1.17h0.66v0.66h-0.66zM22.17 1.17h0.66v0.66h-0.66zM27.17 1.17h0.66v0.66h-0.66zM28.17 1.17h0.66v0.66h-0.66zM8.17 2.17h0.66v0.66h-0.66zM9.17 2.17h0.66v0.66h-0.66zM11.17 2.17h0.66v0.66h-0.66zM13.17 2.17h0.66v0.66h-0.66zM16.17 2.17h0.66v0.66h-0.66zM17.17 2.17h0.66v0.66h-0.66zM19.17 2.17h0.66v0.66h-0.66zM21.17 2.17h0.66v0.66h-0.66zM22.17 2.17h0.66v0.66h-0.66zM25.17 2.17h0.66v0.66h-0.66zM26.17 2.17h0.66v0.66h-0.66zM27.17 2.17h0.66v0.66h-0.66zM9.17 3.17h0.66v0.66h-0.66zM10.17 3.17h0.66v0.66h-0.66zM11.17 3.17h0.66v0.66h-0.66zM12.17 3.17h0.66v0.66h-0.66zM14.17 3.17h0.66v0.66h-0.66zM16.17 3.17h0.66v0.66h-0.66zM17.17 3.17h0.66v0.66h-0.66zM19.17 3.17h0.66v0.66h-0.66zM21.17 3.17h0.66v0.66h-0.66zM22.17 3.17h0.66v0.66h-0.66zM23.17 3.17h0.66v0.66h-0.66zM24.17 3.17h0.66v0.66h-0.66zM27.17 3.17h0.66v0.66h-0.66zM8.17 4.17h0.66v0.66h-0.66zM9.17 4.17h0.66v0.66h-0.66zM12.17 4.17h0.66v0.66h-0.66zM14.17 4.17h0.66v0.66h-0.66zM15.17 4.17h0.66v0.66h-0.66zM17.17 4.17h0.66v0.66h-0.66zM18.17 4.17h0.66v0.66h-0.66zM19.17 4.17h0.66v0.66h-0.66zM20.17 4.17h0.66v0.66h-0.66zM22.17 4.17h0.66v0.66h-0.66zM24.17 4.17h0.66v0.66h-0.66zM25.17 4.17h0.66v0.66h-0.66zM27.17 4.17h0.66v0.66h-0.66zM9.17 5.17h0.66v0.66h-0.66zM10.17 5.17h0.66v0.66h-0.66zM13.17 5.17h0.66v0.66h-0.66zM14.17 5.17h0.66v0.66h-0.66zM17.17 5.17h0.66v0.66h-0.66zM21.17 5.17h0.66v0.66h-0.66zM22.17 5.17h0.66v0.66h-0.66zM23.17 5.17h0.66v0.66h-0.66zM25.17 5.17h0.66v0.66h-0.66zM27.17 5.17h0.66v0.66h-0.66zM8.17 6.17h0.66v0.66h-0.66zM10.17 6.17h0.66v0.66h-0.66zM12.17 6.17h0.66v0.66h-0.66zM14.17 6.17h0.66v0.66h-0.66zM16.17 6.17h0.66v0.66h-0.66zM18.17 6.17h0.66v0.66h-0.66zM20.17 6.17h0.66v0.66h-0.66zM22.17 6.17h0.66v0.66h-0.66zM24.17 6.17h0.66v0.66h-0.66zM26.17 6.17h0.66v0.66h-0.66zM28.17 6.17h0.66v0.66h-0.66zM13.17 7.17h0.66v0.66h-0.66zM14.17 7.17h0.66v0.66h-0.66zM15.17 7.17h0.66v0.66h-0.66zM19.17 7.17h0.66v0.66h-0.66zM21.17 7.17h0.66v0.66h-0.66zM23.17 7.17h0.66v0.66h-0.66zM25.17 7.17h0.66v0.66h-0.66zM4.17 8.17h0.66v0.66h-0.66zM6.17 8.17h0.66v0.66h-0.66zM8.17 8.17h0.66v0.66h-0.66zM13.17 8.17h0.66v0.66h-0.66zM16.17 8.17h0.66v0.66h-0.66zM21.17 8.17h0.66v0.66h-0.66zM24.17 8.17h0.66v0.66h-0.66zM26.17 8.17h0.66v0.66h-0.66zM28.17 8.17h0.66v0.66h-0.66zM30.17 8.17h0.66v0.66h-0.66zM31.17 8.17h0.66v0.66h-0.66zM33.17 8.17h0.66v0.66h-0.66zM36.17 8.17h0.66v0.66h-0.66zM0.17 9.17h0.66v0.66h-0.66zM1.17 9.17h0.66v0.66h-0.66zM3.17 9.17h0.66v0.66h-0.66zM4.17 9.17h0.66v0.66h-0.66zM7.17 9.17h0.66v0.66h-0.66zM9.17 9.17h0.66v0.66h-0.66zM11.17 9.17h0.66v0.66h-0.66zM12.17 9.17h0.66v0.66h-0.66zM16.17 9.17h0.66v0.66h-0.66zM18.17 9.17h0.66v0.66h-0.66zM19.17 9.17h0.66v0.66h-0.66zM20.17 9.17h0.66v0.66h-0.66zM25.17 9.17h0.66v0.66h-0.66zM26.17 9.17h0.66v0.66h-0.66zM27.17 9.17h0.66v0.66h-0.66zM28.17 9.17h0.66v0.66h-0.66zM29.17 9.17h0.66v0.66h-0.66zM30.17 9.17h0.66v0.66h-0.66zM32.17 9.17h0.66v0.66h-0.66zM33.17 9.17h0.66v0.66h-0.66zM36.17 9.17h0.66v0.66h-0.66zM0.17 10.17h0.66v0.66h-0.66zM1.17 10.17h0.66v0.66h-0.66zM3.17 10.17h0.66v0.66h-0.66zM6.17 10.17h0.66v0.66h-0.66zM8.17 10.17h0.66v0.66h-0.66zM9.17 10.17h0.66v0.66h-0.66zM10.17 10.17h0.66v0.66h-0.66zM11.17 10.17h0.66v0.66h-0.66zM13.17 10.17h0.66v0.66h-0.66zM14.17 10.17h0.66v0.66h-0.66zM15.17 10.17h0.66v0.66h-0.66zM17.17 10.17h0.66v0.66h-0.66zM23.17 10.17h0.66v0.66h-0.66zM24.17 10.17h0.66v0.66h-0.66zM25.17 10.17h0.66v0.66h-0.66zM26.17 10.17h0.66v0.66h-0.66zM27.17 10.17h0.66v0.66h-0.66zM29.17 10.17h0.66v0.66h-0.66zM30.17 10.17h0.66v0.66h-0.66zM31.17 10.17h0.66v0.66h-0.66zM36.17 10.17h0.66v0.66h-0.66zM2.17 11.17h0.66v0.66h-0.66zM5.17 11.17h0.66v0.66h-0.66zM9.17 11.17h0.66v0.66h-0.66zM14.17 11.17h0.66v0.66h-0.66zM16.17 11.17h0.66v0.66h-0.66zM21.17 11.17h0.66v0.66h-0.66zM27.17 11.17h0.66v0.66h-0.66zM30.17 11.17h0.66v0.66h-0.66zM31.17 11.17h0.66v0.66h-0.66zM32.17 11.17h0.66v0.66h-0.66zM35.17 11.17h0.66v0.66h-0.66zM36.17 11.17h0.66v0.66h-0.66zM1.17 12.17h0.66v0.66h-0.66zM3.17 12.17h0.66v0.66h-0.66zM4.17 12.17h0.66v0.66h-0.66zM6.17 12.17h0.66v0.66h-0.66zM7.17 12.17h0.66v0.66h-0.66zM13.17 12.17h0.66v0.66h-0.66zM15.17 12.17h0.66v0.66h-0.66zM16.17 12.17h0.66v0.66h-0.66zM18.17 12.17h0.66v0.66h-0.66zM24.17 12.17h0.66v0.66h-0.66zM25.17 12.17h0.66v0.66h-0.66zM28.17 12.17h0.66v0.66h-0.66zM33.17 12.17h0.66v0.66h-0.66zM0.17 13.17h0.66v0.66h-0.66zM3.17 13.17h0.66v0.66h-0.66zM8.17 13.17h0.66v0.66h-0.66zM10.17 13.17h0.66v0.66h-0.66zM24.17 13.17h0.66v0.66h-0.66zM25.17 13.17h0.66v0.66h-0.66zM26.17 13.17h0.66v0.66h-0.66zM27.17 13.17h0.66v0.66h-0.66zM30.17 13.17h0.66v0.66h-0.66zM31.17 13.17h0.66v0.66h-0.66zM32.17 13.17h0.66v0.66h-0.66zM35.17 13.17h0.66v0.66h-0.66zM0.17 14.17h0.66v0.66h-0.66zM1.17 14.17h0.66v0.66h-0.66zM2.17 14.17h0.66v0.66h-0.66zM4.17 14.17h0.66v0.66h-0.66zM5.17 14.17h0.66v0.66h-0.66zM6.17 14.17h0.66v0.66h-0.66zM7.17 14.17h0.66v0.66h-0.66zM9.17 14.17h0.66v0.66h-0.66zM11.17 14.17h0.66v0.66h-0.66zM12.17 14.17h0.66v0.66h-0.66zM25.17 14.17h0.66v0.66h-0.66zM26.17 14.17h0.66v0.66h-0.66zM27.17 14.17h0.66v0.66h-0.66zM29.17 14.17h0.66v0.66h-0.66zM30.17 14.17h0.66v0.66h-0.66zM0.17 15.17h0.66v0.66h-0.66zM4.17 15.17h0.66v0.66h-0.66zM5.17 15.17h0.66v0.66h-0.66zM7.17 15.17h0.66v0.66h-0.66zM10.17 15.17h0.66v0.66h-0.66zM11.17 15.17h0.66v0.66h-0.66zM24.17 15.17h0.66v0.66h-0.66zM25.17 15.17h0.66v0.66h-0.66zM27.17 15.17h0.66v0.66h-0.66zM29.17 15.17h0.66v0.66h-0.66zM30.17 15.17h0.66v0.66h-0.66zM32.17 15.17h0.66v0.66h-0.66zM33.17 15.17h0.66v0.66h-0.66zM0.17 16.17h0.66v0.66h-0.66zM5.17 16.17h0.66v0.66h-0.66zM6.17 16.17h0.66v0.66h-0.66zM7.17 16.17h0.66v0.66h-0.66zM8.17 16.17h0.66v0.66h-0.66zM12.17 16.17h0.66v0.66h-0.66zM24.17 16.17h0.66v0.66h-0.66zM25.17 16.17h0.66v0.66h-0.66zM29.17 16.17h0.66v0.66h-0.66zM30.17 16.17h0.66v0.66h-0.66zM32.17 16.17h0.66v0.66h-0.66zM34.17 16.17h0.66v0.66h-0.66zM35.17 16.17h0.66v0.66h-0.66zM0.17 17.17h0.66v0.66h-0.66zM2.17 17.17h0.66v0.66h-0.66zM5.17 17.17h0.66v0.66h-0.66zM8.17 17.17h0.66v0.66h-0.66zM9.17 17.17h0.66v0.66h-0.66zM10.17 17.17h0.66v0.66h-0.66zM12.17 17.17h0.66v0.66h-0.66zM29.17 17.17h0.66v0.66h-0.66zM34.17 17.17h0.66v0.66h-0.66zM2.17 18.17h0.66v0.66h-0.66zM6.17 18.17h0.66v0.66h-0.66zM8.17 18.17h0.66v0.66h-0.66zM10.17 18.17h0.66v0.66h-0.66zM11.17 18.17h0.66v0.66h-0.66zM12.17 18.17h0.66v0.66h-0.66zM24.17 18.17h0.66v0.66h-0.66zM25.17 18.17h0.66v0.66h-0.66zM28.17 18.17h0.66v0.66h-0.66zM31.17 18.17h0.66v0.66h-0.66zM35.17 18.17h0.66v0.66h-0.66zM4.17 19.17h0.66v0.66h-0.66zM7.17 19.17h0.66v0.66h-0.66zM8.17 19.17h0.66v0.66h-0.66zM9.17 19.17h0.66v0.66h-0.66zM10.17 19.17h0.66v0.66h-0.66zM11.17 19.17h0.66v0.66h-0.66zM12.17 19.17h0.66v0.66h-0.66zM24.17 19.17h0.66v0.66h-0.66zM33.17 19.17h0.66v0.66h-0.66zM36.17 19.17h0.66v0.66h-0.66zM1.17 20.17h0.66v0.66h-0.66zM2.17 20.17h0.66v0.66h-0.66zM3.17 20.17h0.66v0.66h-0.66zM4.17 20.17h0.66v0.66h-0.66zM6.17 20.17h0.66v0.66h-0.66zM8.17 20.17h0.66v0.66h-0.66zM11.17 20.17h0.66v0.66h-0.66zM12.17 20.17h0.66v0.66h-0.66zM26.17 20.17h0.66v0.66h-0.66zM28.17 20.17h0.66v0.66h-0.66zM29.17 20.17h0.66v0.66h-0.66zM30.17 20.17h0.66v0.66h-0.66zM31.17 20.17h0.66v0.66h-0.66zM32.17 20.17h0.66v0.66h-0.66zM34.17 20.17h0.66v0.66h-0.66zM0.17 21.17h0.66v0.66h-0.66zM3.17 21.17h0.66v0.66h-0.66zM5.17 21.17h0.66v0.66h-0.66zM8.17 21.17h0.66v0.66h-0.66zM12.17 21.17h0.66v0.66h-0.66zM27.17 21.17h0.66v0.66h-0.66zM29.17 21.17h0.66v0.66h-0.66zM30.17 21.17h0.66v0.66h-0.66zM31.17 21.17h0.66v0.66h-0.66zM33.17 21.17h0.66v0.66h-0.66zM34.17 21.17h0.66v0.66h-0.66zM36.17 21.17h0.66v0.66h-0.66zM0.17 22.17h0.66v0.66h-0.66zM2.17 22.17h0.66v0.66h-0.66zM6.17 22.17h0.66v0.66h-0.66zM8.17 22.17h0.66v0.66h-0.66zM9.17 22.17h0.66v0.66h-0.66zM24.17 22.17h0.66v0.66h-0.66zM25.17 22.17h0.66v0.66h-0.66zM31.17 22.17h0.66v0.66h-0.66zM32.17 22.17h0.66v0.66h-0.66zM36.17 22.17h0.66v0.66h-0.66zM0.17 23.17h0.66v0.66h-0.66zM1.17 23.17h0.66v0.66h-0.66zM2.17 23.17h0.66v0.66h-0.66zM4.17 23.17h0.66v0.66h-0.66zM7.17 23.17h0.66v0.66h-0.66zM11.17 23.17h0.66v0.66h-0.66zM12.17 23.17h0.66v0.66h-0.66zM24.17 23.17h0.66v0.66h-0.66zM25.17 23.17h0.66v0.66h-0.66zM28.17 23.17h0.66v0.66h-0.66zM29.17 23.17h0.66v0.66h-0.66zM33.17 23.17h0.66v0.66h-0.66zM34.17 23.17h0.66v0.66h-0.66zM35.17 23.17h0.66v0.66h-0.66zM0.17 24.17h0.66v0.66h-0.66zM3.17 24.17h0.66v0.66h-0.66zM6.17 24.17h0.66v0.66h-0.66zM7.17 24.17h0.66v0.66h-0.66zM8.17 24.17h0.66v0.66h-0.66zM9.17 24.17h0.66v0.66h-0.66zM11.17 24.17h0.66v0.66h-0.66zM12.17 24.17h0.66v0.66h-0.66zM14.17 24.17h0.66v0.66h-0.66zM16.17 24.17h0.66v0.66h-0.66zM18.17 24.17h0.66v0.66h-0.66zM19.17 24.17h0.66v0.66h-0.66zM21.17 24.17h0.66v0.66h-0.66zM22.17 24.17h0.66v0.66h-0.66zM25.17 24.17h0.66v0.66h-0.66zM26.17 24.17h0.66v0.66h-0.66zM27.17 24.17h0.66v0.66h-0.66zM29.17 24.17h0.66v0.66h-0.66zM30.17 24.17h0.66v0.66h-0.66zM36.17 24.17h0.66v0.66h-0.66zM1.17 25.17h0.66v0.66h-0.66zM2.17 25.17h0.66v0.66h-0.66zM3.17 25.17h0.66v0.66h-0.66zM7.17 25.17h0.66v0.66h-0.66zM8.17 25.17h0.66v0.66h-0.66zM9.17 25.17h0.66v0.66h-0.66zM10.17 25.17h0.66v0.66h-0.66zM11.17 25.17h0.66v0.66h-0.66zM12.17 25.17h0.66v0.66h-0.66zM18.17 25.17h0.66v0.66h-0.66zM21.17 25.17h0.66v0.66h-0.66zM22.17 25.17h0.66v0.66h-0.66zM29.17 25.17h0.66v0.66h-0.66zM32.17 25.17h0.66v0.66h-0.66zM33.17 25.17h0.66v0.66h-0.66zM36.17 25.17h0.66v0.66h-0.66zM1.17 26.17h0.66v0.66h-0.66zM4.17 26.17h0.66v0.66h-0.66zM5.17 26.17h0.66v0.66h-0.66zM6.17 26.17h0.66v0.66h-0.66zM9.17 26.17h0.66v0.66h-0.66zM10.17 26.17h0.66v0.66h-0.66zM13.17 26.17h0.66v0.66h-0.66zM18.17 26.17h0.66v0.66h-0.66zM30.17 26.17h0.66v0.66h-0.66zM31.17 26.17h0.66v0.66h-0.66zM32.17 26.17h0.66v0.66h-0.66zM35.17 26.17h0.66v0.66h-0.66zM36.17 26.17h0.66v0.66h-0.66zM0.17 27.17h0.66v0.66h-0.66zM1.17 27.17h0.66v0.66h-0.66zM2.17 27.17h0.66v0.66h-0.66zM4.17 27.17h0.66v0.66h-0.66zM5.17 27.17h0.66v0.66h-0.66zM9.17 27.17h0.66v0.66h-0.66zM10.17 27.17h0.66v0.66h-0.66zM11.17 27.17h0.66v0.66h-0.66zM14.17 27.17h0.66v0.66h-0.66zM15.17 27.17h0.66v0.66h-0.66zM16.17 27.17h0.66v0.66h-0.66zM17.17 27.17h0.66v0.66h-0.66zM18.17 27.17h0.66v0.66h-0.66zM21.17 27.17h0.66v0.66h-0.66zM22.17 27.17h0.66v0.66h-0.66zM23.17 27.17h0.66v0.66h-0.66zM24.17 27.17h0.66v0.66h-0.66zM26.17 27.17h0.66v0.66h-0.66zM29.17 27.17h0.66v0.66h-0.66zM30.17 27.17h0.66v0.66h-0.66zM33.17 27.17h0.66v0.66h-0.66zM36.17 27.17h0.66v0.66h-0.66zM0.17 28.17h0.66v0.66h-0.66zM1.17 28.17h0.66v0.66h-0.66zM4.17 28.17h0.66v0.66h-0.66zM6.17 28.17h0.66v0.66h-0.66zM7.17 28.17h0.66v0.66h-0.66zM10.17 28.17h0.66v0.66h-0.66zM11.17 28.17h0.66v0.66h-0.66zM12.17 28.17h0.66v0.66h-0.66zM13.17 28.17h0.66v0.66h-0.66zM17.17 28.17h0.66v0.66h-0.66zM18.17 28.17h0.66v0.66h-0.66zM19.17 28.17h0.66v0.66h-0.66zM20.17 28.17h0.66v0.66h-0.66zM25.17 28.17h0.66v0.66h-0.66zM27.17 28.17h0.66v0.66h-0.66zM28.17 28.17h0.66v0.66h-0.66zM29.17 28.17h0.66v0.66h-0.66zM30.17 28.17h0.66v0.66h-0.66zM31.17 28.17h0.66v0.66h-0.66zM32.17 28.17h0.66v0.66h-0.66zM33.17 28.17h0.66v0.66h-0.66zM34.17 28.17h0.66v0.66h-0.66zM36.17 28.17h0.66v0.66h-0.66zM8.17 29.17h0.66v0.66h-0.66zM9.17 29.17h0.66v0.66h-0.66zM13.17 29.17h0.66v0.66h-0.66zM15.17 29.17h0.66v0.66h-0.66zM17.17 29.17h0.66v0.66h-0.66zM19.17 29.17h0.66v0.66h-0.66zM22.17 29.17h0.66v0.66h-0.66zM24.17 29.17h0.66v0.66h-0.66zM25.17 29.17h0.66v0.66h-0.66zM26.17 29.17h0.66v0.66h-0.66zM27.17 29.17h0.66v0.66h-0.66zM28.17 29.17h0.66v0.66h-0.66zM32.17 29.17h0.66v0.66h-0.66zM33.17 29.17h0.66v0.66h-0.66zM34.17 29.17h0.66v0.66h-0.66zM9.17 30.17h0.66v0.66h-0.66zM10.17 30.17h0.66v0.66h-0.66zM12.17 30.17h0.66v0.66h-0.66zM14.17 30.17h0.66v0.66h-0.66zM15.17 30.17h0.66v0.66h-0.66zM18.17 30.17h0.66v0.66h-0.66zM20.17 30.17h0.66v0.66h-0.66zM21.17 30.17h0.66v0.66h-0.66zM23.17 30.17h0.66v0.66h-0.66zM24.17 30.17h0.66v0.66h-0.66zM25.17 30.17h0.66v0.66h-0.66zM27.17 30.17h0.66v0.66h-0.66zM28.17 30.17h0.66v0.66h-0.66zM30.17 30.17h0.66v0.66h-0.66zM32.17 30.17h0.66v0.66h-0.66zM34.17 30.17h0.66v0.66h-0.66zM36.17 30.17h0.66v0.66h-0.66zM8.17 31.17h0.66v0.66h-0.66zM9.17 31.17h0.66v0.66h-0.66zM12.17 31.17h0.66v0.66h-0.66zM13.17 31.17h0.66v0.66h-0.66zM16.17 31.17h0.66v0.66h-0.66zM17.17 31.17h0.66v0.66h-0.66zM18.17 31.17h0.66v0.66h-0.66zM19.17 31.17h0.66v0.66h-0.66zM20.17 31.17h0.66v0.66h-0.66zM21.17 31.17h0.66v0.66h-0.66zM23.17 31.17h0.66v0.66h-0.66zM28.17 31.17h0.66v0.66h-0.66zM32.17 31.17h0.66v0.66h-0.66zM9.17 32.17h0.66v0.66h-0.66zM10.17 32.17h0.66v0.66h-0.66zM11.17 32.17h0.66v0.66h-0.66zM13.17 32.17h0.66v0.66h-0.66zM14.17 32.17h0.66v0.66h-0.66zM19.17 32.17h0.66v0.66h-0.66zM23.17 32.17h0.66v0.66h-0.66zM25.17 32.17h0.66v0.66h-0.66zM28.17 32.17h0.66v0.66h-0.66zM29.17 32.17h0.66v0.66h-0.66zM30.17 32.17h0.66v0.66h-0.66zM31.17 32.17h0.66v0.66h-0.66zM32.17 32.17h0.66v0.66h-0.66zM34.17 32.17h0.66v0.66h-0.66zM35.17 32.17h0.66v0.66h-0.66zM36.17 32.17h0.66v0.66h-0.66zM10.17 33.17h0.66v0.66h-0.66zM12.17 33.17h0.66v0.66h-0.66zM13.17 33.17h0.66v0.66h-0.66zM14.17 33.17h0.66v0.66h-0.66zM16.17 33.17h0.66v0.66h-0.66zM21.17 33.17h0.66v0.66h-0.66zM26.17 33.17h0.66v0.66h-0.66zM28.17 33.17h0.66v0.66h-0.66zM30.17 33.17h0.66v0.66h-0.66zM33.17 33.17h0.66v0.66h-0.66zM35.17 33.17h0.66v0.66h-0.66zM36.17 33.17h0.66v0.66h-0.66zM8.17 34.17h0.66v0.66h-0.66zM12.17 34.17h0.66v0.66h-0.66zM15.17 34.17h0.66v0.66h-0.66zM18.17 34.17h0.66v0.66h-0.66zM19.17 34.17h0.66v0.66h-0.66zM20.17 34.17h0.66v0.66h-0.66zM21.17 34.17h0.66v0.66h-0.66zM22.17 34.17h0.66v0.66h-0.66zM24.17 34.17h0.66v0.66h-0.66zM26.17 34.17h0.66v0.66h-0.66zM28.17 34.17h0.66v0.66h-0.66zM30.17 34.17h0.66v0.66h-0.66zM32.17 34.17h0.66v0.66h-0.66zM35.17 34.17h0.66v0.66h-0.66zM36.17 34.17h0.66v0.66h-0.66zM12.17 35.17h0.66v0.66h-0.66zM16.17 35.17h0.66v0.66h-0.66zM17.17 35.17h0.66v0.66h-0.66zM22.17 35.17h0.66v0.66h-0.66zM24.17 35.17h0.66v0.66h-0.66zM25.17 35.17h0.66v0.66h-0.66zM31.17 35.17h0.66v0.66h-0.66zM33.17 35.17h0.66v0.66h-0.66zM34.17 35.17h0.66v0.66h-0.66zM35.17 35.17h0.66v0.66h-0.66zM8.17 36.17h0.66v0.66h-0.66zM9.17 36.17h0.66v0.66h-0.66zM12.17 36.17h0.66v0.66h-0.66zM13.17 36.17h0.66v0.66h-0.66zM14.17 36.17h0.66v0.66h-0.66zM15.17 36.17h0.66v0.66h-0.66zM16.17 36.17h0.66v0.66h-0.66zM21.17 36.17h0.66v0.66h-0.66zM23.17 36.17h0.66v0.66h-0.66zM27.17 36.17h0.66v0.66h-0.66zM29.17 36.17h0.66v0.66h-0.66zM32.17 36.17h0.66v0.66h-0.66zM33.17 36.17h0.66v0.66h-0.66zM34.17 36.17h0.66v0.66h-0.66zM35.17 36.17h0.66v0.66h-0.66zM36.17 36.17h0.66v0.66h-0.66z" fill="#0d0706" stroke="#0d0706" stroke-width="0.22" stroke-linejoin="round"/><rect x="0.5" y="0.5" width="6" height="6" rx="0.8" fill="#fff" stroke="#0d0706" stroke-width="1"/><rect x="2" y="2" width="3" height="3" rx="0.3" fill="#0d0706"/><rect x="30.5" y="0.5" width="6" height="6" rx="0.8" fill="#fff" stroke="#0d0706" stroke-width="1"/><rect x="32" y="2" width="3" height="3" rx="0.3" fill="#0d0706"/><rect x="0.5" y="30.5" width="6" height="6" rx="0.8" fill="#fff" stroke="#0d0706" stroke-width="1"/><rect x="2" y="32" width="3" height="3" rx="0.3" fill="#0d0706"/><rect x="14.1" y="14.1" width="8.9" height="8.6" rx="1" fill="#0d0706"/><ellipse cx="17.6" cy="17.5" rx="2.4" ry="2" fill="#fff"/><path d="M16.2 19 L16 20 L17.2 19.4Z" fill="#fff"/><ellipse cx="19.6" cy="19" rx="2.05" ry="1.75" fill="#fff" stroke="#0d0706" stroke-width="0.25"/><path d="M20.6 20.3 L21 21.2 L19.9 20.7Z" fill="#fff"/><circle cx="16.8" cy="16.9" r="0.22" fill="#0d0706"/><circle cx="18.3" cy="16.9" r="0.22" fill="#0d0706"/><circle cx="19" cy="18.6" r="0.2" fill="#0d0706"/><circle cx="20.3" cy="18.6" r="0.2" fill="#0d0706"/></svg>
<div class="box" style="left:40.7px;top:281px;width:807px;height:432px;"></div>
<div class="pill" style="left:259px;top:250.5px;width:371px;height:66px;line-height:56px;">Motivation</div>
<div class="ln j " style="left:76.5px;top:342.9px;width:736px;">Limitations in existing domain adaptive</div>
<div class="ln " style="left:76.5px;top:388.4px;">hashing methods:</div>
<div class="ln j " style="left:76.5px;top:449.9px;width:736px;"><span style="display:inline-block;width:61px"></span>Inherent <b class="k">noise</b> in pseudo-labels</div>
<div class="ln " style="left:76.5px;top:495.4px;">degrades adaptation quality.</div>
<div class="ln j " style="left:76.5px;top:556.9px;width:736px;"><span style="display:inline-block;width:61px"></span>Insufficient exploration of <b class="k">cross-space</b></div>
<div class="ln j " style="left:76.5px;top:602.5px;width:736px;"><b class="k">complementary knowledge</b> hinders the</div>
<div class="ln " style="left:76.5px;top:648.1px;">ability of the adapted model.</div>
<div class="box" style="left:40.7px;top:764.5px;width:807px;height:913.5px;"></div>
<div class="pill" style="left:252.5px;top:734.5px;width:371px;height:66px;line-height:56px;">Contribution</div>
<div class="ln j " style="left:70.3px;top:827.1px;width:748px;font-size:38.9px;"><span style="display:inline-block;width:60px"></span>Propose <b class="k">VPDS</b> (<b class="k">V</b>LM assisted</div>
<div class="ln j " style="left:70.3px;top:872.9px;width:748px;font-size:38.9px;"><b class="k">P</b>seudo-labeling and <b class="k">D</b>ual <b class="k">S</b>pace</div>
<div class="ln j " style="left:70.3px;top:918.7px;width:748px;font-size:38.9px;">adaptation) that decouples cross-domain</div>
<div class="ln j " style="left:70.3px;top:964.5px;width:748px;font-size:38.9px;">alignment into independent alignments in</div>
<div class="ln j " style="left:70.3px;top:1010.3px;width:748px;font-size:38.9px;">the <b class="k">feature space</b> and <b class="k">Hamming space</b>,</div>
<div class="ln j " style="left:70.3px;top:1056.1px;width:748px;font-size:38.9px;">fully exploiting cross-space complementary</div>
<div class="ln " style="left:70.3px;top:1101.9px;font-size:38.9px;">information.</div>
<div class="ln j " style="left:70.3px;top:1163.1px;width:748px;font-size:38.9px;"><span style="display:inline-block;width:60px"></span>Design a <b class="k">VLM assisted pseudo-</b></div>
<div class="ln j " style="left:70.3px;top:1209.1px;width:748px;font-size:38.9px;"><b class="k">labeling strategy</b> to enhance pseudo-label</div>
<div class="ln j " style="left:70.3px;top:1255.1px;width:748px;font-size:38.9px;">reliability. And this strategy is <b class="k">model-</b></div>
<div class="ln j " style="left:70.3px;top:1301.1px;width:748px;font-size:38.9px;"><b class="k">agnostic</b> and can be seamlessly</div>
<div class="ln j " style="left:70.3px;top:1347.1px;width:748px;font-size:38.9px;">incorporated into other unsupervised</div>
<div class="ln " style="left:70.3px;top:1393.1px;font-size:38.9px;">learning frameworks.</div>
<div class="ln j " style="left:70.3px;top:1454.1px;width:748px;font-size:38.9px;"><span style="display:inline-block;width:60px"></span>Validate VPDS on three standard</div>
<div class="ln j " style="left:70.3px;top:1499.7px;width:748px;font-size:38.9px;">benchmark datasets, achieving superior</div>
<div class="ln j " style="left:70.3px;top:1545.3px;width:748px;font-size:38.9px;">performance in both <b class="k">cross-domain</b> and</div>
<div class="ln " style="left:70.3px;top:1590.9px;font-size:38.9px;"><b class="k">single-domain</b> retrieval scenarios.</div>
<svg x="0" y="0" width="90" height="80" viewBox="0 0 1735 1542" style="left:55px;top:425px;"><path d="M490 350L565 460" stroke="#f3b125" stroke-width="92" stroke-linecap="round"/><path d="M880 285L850 420" stroke="#f3b125" stroke-width="92" stroke-linecap="round"/><path d="M1215 490L1105 565" stroke="#f3b125" stroke-width="92" stroke-linecap="round"/><path d="M1175 790L1305 815" stroke="#f3b125" stroke-width="92" stroke-linecap="round"/><path d="M295 625L420 648" stroke="#f3b125" stroke-width="92" stroke-linecap="round"/><path d="M785 510 C620 510 510 640 515 790 C520 900 580 960 600 1070 L870 1100 C900 1020 1050 960 1055 780 C1055 640 950 510 785 510Z" fill="#f3b125"/><path d="M830 515 C960 530 1055 650 1055 780 C1050 960 900 1020 870 1100 L740 1085 C790 900 800 700 830 515Z" fill="#f39a22"/><path d="M655 825 L890 868 L765 1085 L700 1075 Z" fill="none" stroke="#e8263c" stroke-width="44" stroke-linejoin="miter"/><path d="M590 1060 L870 1100 L845 1280 L690 1345 L560 1240 Z" fill="#1b3364"/><path d="M575 1120 L862 1160 L856 1200 L568 1158Z M562 1200 L850 1245 L845 1280 L556 1236Z" fill="#fff"/><path d="M720 1140 L862 1160 L856 1200 L715 1180Z M705 1222 L850 1245 L845 1280 L700 1258Z" fill="#c9f4f4"/></svg>
<svg x="0" y="0" width="90" height="80" viewBox="0 0 1735 1542" style="left:55px;top:533.3px;"><path d="M490 350L565 460" stroke="#f3b125" stroke-width="92" stroke-linecap="round"/><path d="M880 285L850 420" stroke="#f3b125" stroke-width="92" stroke-linecap="round"/><path d="M1215 490L1105 565" stroke="#f3b125" stroke-width="92" stroke-linecap="round"/><path d="M1175 790L1305 815" stroke="#f3b125" stroke-width="92" stroke-linecap="round"/><path d="M295 625L420 648" stroke="#f3b125" stroke-width="92" stroke-linecap="round"/><path d="M785 510 C620 510 510 640 515 790 C520 900 580 960 600 1070 L870 1100 C900 1020 1050 960 1055 780 C1055 640 950 510 785 510Z" fill="#f3b125"/><path d="M830 515 C960 530 1055 650 1055 780 C1050 960 900 1020 870 1100 L740 1085 C790 900 800 700 830 515Z" fill="#f39a22"/><path d="M655 825 L890 868 L765 1085 L700 1075 Z" fill="none" stroke="#e8263c" stroke-width="44" stroke-linejoin="miter"/><path d="M590 1060 L870 1100 L845 1280 L690 1345 L560 1240 Z" fill="#1b3364"/><path d="M575 1120 L862 1160 L856 1200 L568 1158Z M562 1200 L850 1245 L845 1280 L556 1236Z" fill="#fff"/><path d="M720 1140 L862 1160 L856 1200 L715 1180Z M705 1222 L850 1245 L845 1280 L700 1258Z" fill="#c9f4f4"/></svg>
<svg x="0" y="0" width="90" height="80" viewBox="0 0 1735 1542" style="left:55px;top:805px;"><path d="M1030 250 L1330 540 L660 1210 L350 920Z" fill="#e69627"/><path d="M1225 445 L1330 540 L660 1210 L625 1075Z" fill="#cc7d22"/><path d="M350 920 L1030 250 M660 1210 L1330 540" stroke="#2a3648" stroke-width="52" stroke-linecap="round" fill="none"/><path d="M545 985 L900 585 M850 830 L1160 510 M640 1040 L725 950" stroke="#2a3648" stroke-width="46" stroke-linecap="round" fill="none"/><path d="M780 615 L990 400" stroke="#fff" stroke-width="30" stroke-linecap="round"/><circle cx="1045" cy="355" r="15" fill="#fff"/><path d="M350 920 L480 985 L515 1060 L615 1085 L660 1210 L255 1325 Z" fill="#f1e8d6" stroke="#2a3648" stroke-width="46" stroke-linejoin="round"/><path d="M450 1215 L600 1120 L630 1190 Z" fill="#e6d9bf"/><path d="M335 1125 L455 1235 L255 1325Z" fill="#2a3648"/><path d="M330 1190 L390 1250 L300 1285Z" fill="#4a5666"/></svg>
<svg x="0" y="0" width="90" height="80" viewBox="0 0 1735 1542" style="left:55px;top:1139.2px;"><path d="M1030 250 L1330 540 L660 1210 L350 920Z" fill="#e69627"/><path d="M1225 445 L1330 540 L660 1210 L625 1075Z" fill="#cc7d22"/><path d="M350 920 L1030 250 M660 1210 L1330 540" stroke="#2a3648" stroke-width="52" stroke-linecap="round" fill="none"/><path d="M545 985 L900 585 M850 830 L1160 510 M640 1040 L725 950" stroke="#2a3648" stroke-width="46" stroke-linecap="round" fill="none"/><path d="M780 615 L990 400" stroke="#fff" stroke-width="30" stroke-linecap="round"/><circle cx="1045" cy="355" r="15" fill="#fff"/><path d="M350 920 L480 985 L515 1060 L615 1085 L660 1210 L255 1325 Z" fill="#f1e8d6" stroke="#2a3648" stroke-width="46" stroke-linejoin="round"/><path d="M450 1215 L600 1120 L630 1190 Z" fill="#e6d9bf"/><path d="M335 1125 L455 1235 L255 1325Z" fill="#2a3648"/><path d="M330 1190 L390 1250 L300 1285Z" fill="#4a5666"/></svg>
<svg x="0" y="0" width="90" height="80" viewBox="0 0 1735 1542" style="left:55px;top:1434.2px;"><path d="M1030 250 L1330 540 L660 1210 L350 920Z" fill="#e69627"/><path d="M1225 445 L1330 540 L660 1210 L625 1075Z" fill="#cc7d22"/><path d="M350 920 L1030 250 M660 1210 L1330 540" stroke="#2a3648" stroke-width="52" stroke-linecap="round" fill="none"/><path d="M545 985 L900 585 M850 830 L1160 510 M640 1040 L725 950" stroke="#2a3648" stroke-width="46" stroke-linecap="round" fill="none"/><path d="M780 615 L990 400" stroke="#fff" stroke-width="30" stroke-linecap="round"/><circle cx="1045" cy="355" r="15" fill="#fff"/><path d="M350 920 L480 985 L515 1060 L615 1085 L660 1210 L255 1325 Z" fill="#f1e8d6" stroke="#2a3648" stroke-width="46" stroke-linejoin="round"/><path d="M450 1215 L600 1120 L630 1190 Z" fill="#e6d9bf"/><path d="M335 1125 L455 1235 L255 1325Z" fill="#2a3648"/><path d="M330 1190 L390 1250 L300 1285Z" fill="#4a5666"/></svg>
<div class="box" style="left:892.4px;top:281px;width:807px;height:1397px;"></div>
<div class="pill" style="left:1110px;top:250.5px;width:371px;height:66px;line-height:56px;">Method</div>
<svg width="2592" height="1679" style="left:0;top:0" viewBox="0 0 2592 1679">
<defs><filter id="tb" x="-10%" y="-10%" width="120%" height="120%"><feGaussianBlur stdDeviation="0.45"/></filter></defs>
<rect x="938.4" y="344.7" width="135.3" height="71.0" rx="8" fill="none" stroke="#c7dcb0" stroke-width="1.1" stroke-dasharray="7 5"/>
<rect x="938.4" y="422.4" width="135.3" height="71.1" rx="8" fill="none" stroke="#dcc6e2" stroke-width="1.1" stroke-dasharray="7 5"/>
<rect x="1191.7" y="346" width="179.9" height="200.6" rx="13" fill="none" stroke="#8796ad" stroke-width="1.1" stroke-dasharray="7 5"/>
<rect x="1479.4" y="346" width="176.2" height="200.6" rx="13" fill="none" stroke="#8796ad" stroke-width="1.1" stroke-dasharray="7 5"/>
<rect x="1088.2" y="580.5" width="158.6" height="271.7" rx="13" fill="none" stroke="#cdb4c4" stroke-width="1.1" stroke-dasharray="9 6"/>
<rect x="1283.7" y="756.8" width="371.9" height="237.7" rx="13" fill="none" stroke="#b9c6a8" stroke-width="1.1" stroke-dasharray="9 6"/>
<g transform="translate(949,378.2)"><svg x="0" y="0" width="31.7" height="31.7" viewBox="0 0 32 32" style="position:static;overflow:hidden"><g filter="url(#tb)"><rect x="-2" y="-2" width="36" height="36" fill="#f6f0e2"/><ellipse cx="17" cy="27" rx="9" ry="1.3" fill="#d8d2c4"/><path d="M12 6.5 C12 1.5 21 1.5 21 6.5" fill="none" stroke="#777" stroke-width="0.8"/><ellipse cx="10.8" cy="8" rx="3.2" ry="2" fill="#eee9dc" stroke="#555" stroke-width="0.8" transform="rotate(-25 10.8 8)"/><ellipse cx="21.5" cy="8" rx="3.2" ry="2" fill="#eee9dc" stroke="#555" stroke-width="0.8" transform="rotate(25 21.5 8)"/><circle cx="16" cy="17.5" r="8.6" fill="#fbfaf5" stroke="#2e2e2e" stroke-width="1.5"/><path d="M16 17.5 L16.6 11 M16 17.5 L13.3 21.8" stroke="#222" stroke-width="0.9"/><path d="M10.5 25 L8.5 27.5 M21.5 25 L23.5 27.5" stroke="#444" stroke-width="1.1"/><circle cx="16.0" cy="10.9" r="0.35" fill="#666"/><circle cx="19.3" cy="11.8" r="0.35" fill="#666"/><circle cx="21.7" cy="14.2" r="0.35" fill="#666"/><circle cx="22.6" cy="17.5" r="0.35" fill="#666"/><circle cx="21.7" cy="20.8" r="0.35" fill="#666"/><circle cx="19.3" cy="23.2" r="0.35" fill="#666"/><circle cx="16.0" cy="24.1" r="0.35" fill="#666"/><circle cx="12.7" cy="23.2" r="0.35" fill="#666"/><circle cx="10.3" cy="20.8" r="0.35" fill="#666"/><circle cx="9.4" cy="17.5" r="0.35" fill="#666"/><circle cx="10.3" cy="14.2" r="0.35" fill="#666"/><circle cx="12.7" cy="11.8" r="0.35" fill="#666"/></g></svg></g>
<g transform="translate(990,378.2)"><svg x="0" y="0" width="31.7" height="31.7" viewBox="0 0 32 32" style="position:static;overflow:hidden"><g filter="url(#tb)"><rect x="-2" y="-2" width="36" height="36" fill="#9aa162"/><rect x="-2" y="-2" width="36" height="8" fill="#46562e"/><rect x="12" y="-2" width="14" height="5" fill="#1f2a14"/><rect x="-2" y="6" width="36" height="7.5" fill="#c6c690"/><rect x="-2" y="13" width="36" height="4.5" fill="#4d5a32"/><rect x="-2" y="17" width="36" height="4" fill="#7d8850"/><ellipse cx="20" cy="23.5" rx="6.6" ry="9.3" fill="none" stroke="#262a1c" stroke-width="1.5"/><path d="M3 24 L13 14 L20 23 M13 14 L13.5 9 M11 15 L26 15.5" stroke="#2a2e20" stroke-width="1" fill="none"/><path d="M-2 23 H6 C8 24 8 30 7 34 H-2Z" fill="#0c0d08"/><rect x="8.5" y="23" width="2" height="6" fill="#d8dcc8"/></g></svg></g>
<g transform="translate(1031,378.2)"><svg x="0" y="0" width="31.7" height="31.7" viewBox="0 0 32 32" style="position:static;overflow:hidden"><g filter="url(#tb)"><rect x="-2" y="-2" width="36" height="36" fill="#7e8080"/><path d="M3 -2V20M7 -2V19M11 -2V18M21 -2V18M25 -2V19M29 -2V21" stroke="#6c6e6e" stroke-width="1"/><path d="M-2 24 L11 17.5 L34 22 L34 34 L-2 34Z" fill="#a9521f"/><path d="M-2 24 L11 17.5 L34 22 L34 24 L11 19.5 L-2 26Z" fill="#8c8a80"/><path d="M-2 30 L34 27 L34 34 L-2 34Z" fill="#8a3d14"/><path d="M10 15 C8.5 7 11 2 16 1.5 C21 2 23 7 21.5 15 C20 17 12 17 10 15Z" fill="#d9481c"/><path d="M11 14 C10.5 8 12 4 13.5 3 L14.5 14Z M17.5 14 L18.5 3 C20 4 21.5 8 20.5 14Z" fill="#ef7a22"/><ellipse cx="15.8" cy="12.5" rx="2.6" ry="3.6" fill="#ffc04a"/><path d="M16 16V26" stroke="#2e2a26" stroke-width="1.1"/><ellipse cx="16" cy="27.5" rx="3" ry="1.8" fill="#2b2a28"/><ellipse cx="16" cy="27.5" rx="1.4" ry="0.8" fill="#b0a890"/><ellipse cx="6.5" cy="27.5" rx="2.6" ry="1.6" fill="#3a3a38"/><path d="M5 26 C5 24 8 24 8 26" stroke="#444" stroke-width="0.6" fill="none"/><rect x="20" y="19" width="2.6" height="7" fill="#6a6a66"/><ellipse cx="21.3" cy="26" rx="2" ry="1.2" fill="#3c3c3a"/><path d="M26 25 l4 2 l1 4 l-4 -1z" fill="#c8c8c0" opacity="0.8"/></g></svg></g>
<g transform="translate(949,430.3)"><svg x="0" y="0" width="31.7" height="31.7" viewBox="0 0 32 32" style="position:static;overflow:hidden"><g filter="url(#tb)"><rect x="-2" y="-2" width="36" height="36" fill="#565e54"/><rect x="-2" y="-2" width="36" height="9" fill="#4a5248"/><rect x="-2" y="27.5" width="36" height="7" fill="#4a3c42"/><ellipse cx="16" cy="17.5" rx="8.3" ry="11.3" fill="#121212"/><rect x="13.5" y="2.5" width="5" height="4" fill="#1a1420"/><ellipse cx="16" cy="18.5" rx="6.3" ry="9.3" fill="#e9e3ee"/><path d="M16 18 L19.5 13.5 M16 18 L13.5 21.5" stroke="#5a3a4a" stroke-width="0.9"/><circle cx="19.6" cy="13.6" r="0.8" fill="#8a5a3a"/></g></svg></g>
<g transform="translate(990,430.3)"><svg x="0" y="0" width="31.7" height="31.7" viewBox="0 0 32 32" style="position:static;overflow:hidden"><g filter="url(#tb)"><rect x="-2" y="-2" width="36" height="36" fill="#a8bcc2"/><rect x="-2" y="-2" width="36" height="13" fill="#c08a78"/><rect x="-2" y="11" width="36" height="6" fill="#a89c98"/><rect x="-2" y="25" width="36" height="9" fill="#b4cad0"/><rect x="7.4" y="16.6" width="1.3" height="1.3" fill="#3a8a5a" opacity="0.8"/><rect x="28.4" y="14.9" width="1.3" height="1.3" fill="#f0f0f0" opacity="0.8"/><rect x="2.0" y="3.3" width="1.3" height="1.3" fill="#8a6a6a" opacity="0.8"/><rect x="8.0" y="8.9" width="1.3" height="1.3" fill="#8a6a6a" opacity="0.8"/><rect x="16.8" y="16.7" width="1.3" height="1.3" fill="#a8b8c0" opacity="0.8"/><rect x="19.8" y="6.8" width="1.3" height="1.3" fill="#b89888" opacity="0.8"/><rect x="4.7" y="26.1" width="1.3" height="1.3" fill="#a8b8c0" opacity="0.8"/><rect x="23.0" y="19.8" width="1.3" height="1.3" fill="#7a98a8" opacity="0.8"/><rect x="4.9" y="26.9" width="1.3" height="1.3" fill="#d8e4e8" opacity="0.8"/><rect x="9.3" y="3.8" width="1.3" height="1.3" fill="#e8d8d0" opacity="0.8"/><rect x="14.7" y="21.0" width="1.3" height="1.3" fill="#a8b8c0" opacity="0.8"/><rect x="22.1" y="26.0" width="1.3" height="1.3" fill="#a8b8c0" opacity="0.8"/><rect x="22.6" y="17.4" width="1.3" height="1.3" fill="#c87868" opacity="0.8"/><rect x="27.2" y="5.4" width="1.3" height="1.3" fill="#c87868" opacity="0.8"/><rect x="15.3" y="9.4" width="1.3" height="1.3" fill="#b89888" opacity="0.8"/><rect x="13.5" y="18.7" width="1.3" height="1.3" fill="#e8d8d0" opacity="0.8"/><rect x="13.1" y="23.8" width="1.3" height="1.3" fill="#f0f0f0" opacity="0.8"/><rect x="10.9" y="17.6" width="1.3" height="1.3" fill="#f0f0f0" opacity="0.8"/><rect x="7.2" y="11.4" width="1.3" height="1.3" fill="#d8e4e8" opacity="0.8"/><rect x="26.5" y="27.8" width="1.3" height="1.3" fill="#b89888" opacity="0.8"/><rect x="21.6" y="20.5" width="1.3" height="1.3" fill="#3a8a5a" opacity="0.8"/><rect x="29.9" y="25.6" width="1.3" height="1.3" fill="#f0f0f0" opacity="0.8"/><rect x="3.2" y="19.4" width="1.3" height="1.3" fill="#b89888" opacity="0.8"/><rect x="25.8" y="17.3" width="1.3" height="1.3" fill="#e8d8d0" opacity="0.8"/><rect x="3.9" y="15.1" width="1.3" height="1.3" fill="#b89888" opacity="0.8"/><rect x="30.7" y="5.2" width="1.3" height="1.3" fill="#7a98a8" opacity="0.8"/><rect x="12.7" y="6.8" width="1.3" height="1.3" fill="#e8d8d0" opacity="0.8"/><rect x="13.2" y="13.4" width="1.3" height="1.3" fill="#7a98a8" opacity="0.8"/><rect x="1.4" y="18.4" width="1.3" height="1.3" fill="#d8e4e8" opacity="0.8"/><rect x="11.7" y="17.7" width="1.3" height="1.3" fill="#4a6a9a" opacity="0.8"/><rect x="27.3" y="27.5" width="1.3" height="1.3" fill="#4a6a9a" opacity="0.8"/><rect x="7.3" y="3.9" width="1.3" height="1.3" fill="#d8e4e8" opacity="0.8"/><rect x="2.4" y="18.0" width="1.3" height="1.3" fill="#d8e4e8" opacity="0.8"/><rect x="29.4" y="27.3" width="1.3" height="1.3" fill="#e8d8d0" opacity="0.8"/><rect x="18.9" y="6.9" width="1.3" height="1.3" fill="#d8e4e8" opacity="0.8"/><rect x="30.4" y="11.5" width="1.3" height="1.3" fill="#3a8a5a" opacity="0.8"/><rect x="29.7" y="25.4" width="1.3" height="1.3" fill="#a8b8c0" opacity="0.8"/><rect x="11.7" y="24.7" width="1.3" height="1.3" fill="#a8b8c0" opacity="0.8"/><rect x="20.0" y="17.9" width="1.3" height="1.3" fill="#4a6a9a" opacity="0.8"/><rect x="3.2" y="27.3" width="1.3" height="1.3" fill="#4a6a9a" opacity="0.8"/><rect x="8.4" y="18.9" width="1.3" height="1.3" fill="#5a7a8a" opacity="0.8"/><rect x="29.0" y="13.9" width="1.3" height="1.3" fill="#e8d8d0" opacity="0.8"/><rect x="16.2" y="16.7" width="1.3" height="1.3" fill="#d8e4e8" opacity="0.8"/><rect x="24.4" y="27.7" width="1.3" height="1.3" fill="#3a8a5a" opacity="0.8"/><rect x="0.6" y="18.4" width="1.3" height="1.3" fill="#b89888" opacity="0.8"/><rect x="4.1" y="18.8" width="1.3" height="1.3" fill="#3a8a5a" opacity="0.8"/><rect x="14.5" y="20.0" width="1.3" height="1.3" fill="#3a8a5a" opacity="0.8"/><rect x="18.9" y="10.0" width="1.3" height="1.3" fill="#8a6a6a" opacity="0.8"/><rect x="0.7" y="4.5" width="1.3" height="1.3" fill="#b89888" opacity="0.8"/><rect x="0.7" y="12.2" width="1.3" height="1.3" fill="#b89888" opacity="0.8"/><rect x="14.1" y="17.8" width="1.3" height="1.3" fill="#3a8a5a" opacity="0.8"/><rect x="5.5" y="7.6" width="1.3" height="1.3" fill="#3a8a5a" opacity="0.8"/><rect x="26.2" y="9.6" width="1.3" height="1.3" fill="#a8b8c0" opacity="0.8"/><rect x="3.3" y="23.3" width="1.3" height="1.3" fill="#f0f0f0" opacity="0.8"/><rect x="21.2" y="6.3" width="1.3" height="1.3" fill="#4a6a9a" opacity="0.8"/><rect x="6.9" y="23.1" width="1.3" height="1.3" fill="#5a7a8a" opacity="0.8"/><rect x="10.2" y="20.0" width="1.3" height="1.3" fill="#b89888" opacity="0.8"/><rect x="21.6" y="5.5" width="1.3" height="1.3" fill="#3a8a5a" opacity="0.8"/><rect x="29.4" y="19.9" width="1.3" height="1.3" fill="#5a7a8a" opacity="0.8"/><rect x="13.6" y="24.4" width="1.3" height="1.3" fill="#c87868" opacity="0.8"/><rect x="2.5" y="21.6" width="1.3" height="1.3" fill="#5a7a8a" opacity="0.8"/><rect x="27.4" y="14.3" width="1.3" height="1.3" fill="#5a7a8a" opacity="0.8"/><rect x="24.4" y="3.8" width="1.3" height="1.3" fill="#5a7a8a" opacity="0.8"/><rect x="9.8" y="23.9" width="1.3" height="1.3" fill="#f0f0f0" opacity="0.8"/><rect x="5.7" y="10.0" width="1.3" height="1.3" fill="#b89888" opacity="0.8"/><rect x="2.7" y="18.5" width="1.3" height="1.3" fill="#f0f0f0" opacity="0.8"/><rect x="4.0" y="10.3" width="1.3" height="1.3" fill="#e8d8d0" opacity="0.8"/><rect x="14.4" y="18.9" width="1.3" height="1.3" fill="#e8d8d0" opacity="0.8"/><rect x="13.0" y="13.2" width="1.3" height="1.3" fill="#a8b8c0" opacity="0.8"/><rect x="4.8" y="3.1" width="1.3" height="1.3" fill="#f0f0f0" opacity="0.8"/><rect x="30.6" y="13.9" width="1.3" height="1.3" fill="#5a7a8a" opacity="0.8"/><rect x="1.0" y="14.4" width="1.3" height="1.3" fill="#b89888" opacity="0.8"/><rect x="23.2" y="27.1" width="1.3" height="1.3" fill="#4a6a9a" opacity="0.8"/><rect x="10.6" y="8.7" width="1.3" height="1.3" fill="#7a98a8" opacity="0.8"/><rect x="26.6" y="27.3" width="1.3" height="1.3" fill="#7a98a8" opacity="0.8"/><rect x="25.1" y="4.1" width="1.3" height="1.3" fill="#4a6a9a" opacity="0.8"/><rect x="28.6" y="25.4" width="1.3" height="1.3" fill="#a8b8c0" opacity="0.8"/><rect x="17.9" y="3.3" width="1.3" height="1.3" fill="#7a98a8" opacity="0.8"/><rect x="5.3" y="10.5" width="1.3" height="1.3" fill="#b89888" opacity="0.8"/><rect x="0.6" y="16.4" width="1.3" height="1.3" fill="#d8e4e8" opacity="0.8"/><rect x="29.1" y="18.3" width="1.3" height="1.3" fill="#3a8a5a" opacity="0.8"/><rect x="3.9" y="27.3" width="1.3" height="1.3" fill="#4a6a9a" opacity="0.8"/><rect x="14.8" y="22.6" width="1.3" height="1.3" fill="#3a8a5a" opacity="0.8"/><rect x="6.8" y="6.1" width="1.3" height="1.3" fill="#7a98a8" opacity="0.8"/><rect x="5.3" y="22.8" width="1.3" height="1.3" fill="#c87868" opacity="0.8"/><rect x="25.5" y="3.2" width="1.3" height="1.3" fill="#b89888" opacity="0.8"/><rect x="17.7" y="13.0" width="1.3" height="1.3" fill="#e8d8d0" opacity="0.8"/><rect x="7.7" y="18.5" width="1.3" height="1.3" fill="#4a6a9a" opacity="0.8"/><rect x="13.1" y="14.8" width="1.3" height="1.3" fill="#d8e4e8" opacity="0.8"/><rect x="26.6" y="22.4" width="1.3" height="1.3" fill="#d8e4e8" opacity="0.8"/><rect x="3.9" y="4.7" width="1.3" height="1.3" fill="#d8e4e8" opacity="0.8"/><rect x="26.5" y="5.2" width="1.3" height="1.3" fill="#4a6a9a" opacity="0.8"/><rect x="15.2" y="6.9" width="1.3" height="1.3" fill="#7a98a8" opacity="0.8"/><rect x="10.9" y="19.2" width="1.3" height="1.3" fill="#f0f0f0" opacity="0.8"/><rect x="9.4" y="9.6" width="1.3" height="1.3" fill="#3a8a5a" opacity="0.8"/><rect x="13.3" y="6.2" width="1.3" height="1.3" fill="#d8e4e8" opacity="0.8"/><rect x="22.2" y="12.5" width="1.3" height="1.3" fill="#7a98a8" opacity="0.8"/><rect x="17.6" y="4.1" width="1.3" height="1.3" fill="#8a6a6a" opacity="0.8"/><rect x="18.7" y="22.6" width="1.3" height="1.3" fill="#a8b8c0" opacity="0.8"/><rect x="19.7" y="4.1" width="1.3" height="1.3" fill="#a8b8c0" opacity="0.8"/><rect x="1.6" y="18.7" width="1.3" height="1.3" fill="#3a8a5a" opacity="0.8"/><rect x="13.0" y="20.4" width="1.3" height="1.3" fill="#8a6a6a" opacity="0.8"/><rect x="0.6" y="8.5" width="1.3" height="1.3" fill="#e8d8d0" opacity="0.8"/><rect x="21.6" y="4.8" width="1.3" height="1.3" fill="#a8b8c0" opacity="0.8"/><rect x="7.0" y="6.3" width="1.3" height="1.3" fill="#d8e4e8" opacity="0.8"/><rect x="29.0" y="12.4" width="1.3" height="1.3" fill="#4a6a9a" opacity="0.8"/><rect x="24.5" y="9.6" width="1.3" height="1.3" fill="#8a6a6a" opacity="0.8"/><rect x="21.4" y="26.5" width="1.3" height="1.3" fill="#b89888" opacity="0.8"/><rect x="26.3" y="16.3" width="1.3" height="1.3" fill="#a8b8c0" opacity="0.8"/><rect x="20.7" y="21.3" width="1.3" height="1.3" fill="#f0f0f0" opacity="0.8"/><rect x="16.5" y="23.3" width="1.3" height="1.3" fill="#d8e4e8" opacity="0.8"/><rect x="14.7" y="8.9" width="1.3" height="1.3" fill="#a8b8c0" opacity="0.8"/><rect x="1.4" y="5.3" width="1.3" height="1.3" fill="#7a98a8" opacity="0.8"/><rect x="20.4" y="12.4" width="1.3" height="1.3" fill="#d8e4e8" opacity="0.8"/><rect x="10.6" y="24.3" width="1.3" height="1.3" fill="#d8e4e8" opacity="0.8"/><rect x="26.2" y="19.8" width="1.3" height="1.3" fill="#e8d8d0" opacity="0.8"/><rect x="18.0" y="23.0" width="1.3" height="1.3" fill="#d8e4e8" opacity="0.8"/><rect x="30.9" y="17.1" width="1.3" height="1.3" fill="#4a6a9a" opacity="0.8"/><rect x="22.2" y="5.7" width="1.3" height="1.3" fill="#7a98a8" opacity="0.8"/><rect x="29.0" y="4.5" width="1.3" height="1.3" fill="#3a8a5a" opacity="0.8"/><rect x="27.0" y="7.5" width="1.3" height="1.3" fill="#7a98a8" opacity="0.8"/><rect x="7.5" y="7.5" width="1.3" height="1.3" fill="#5a7a8a" opacity="0.8"/><rect x="14.1" y="20.5" width="1.3" height="1.3" fill="#a8b8c0" opacity="0.8"/><rect x="7.8" y="18.0" width="1.3" height="1.3" fill="#3a8a5a" opacity="0.8"/><rect x="17.3" y="27.2" width="1.3" height="1.3" fill="#a8b8c0" opacity="0.8"/><rect x="15.5" y="27.3" width="1.3" height="1.3" fill="#a8b8c0" opacity="0.8"/><rect x="26.2" y="27.2" width="1.3" height="1.3" fill="#a8b8c0" opacity="0.8"/><rect x="21.4" y="21.9" width="1.3" height="1.3" fill="#b89888" opacity="0.8"/><rect x="28.6" y="20.1" width="1.3" height="1.3" fill="#c87868" opacity="0.8"/><rect x="19.9" y="25.4" width="1.3" height="1.3" fill="#c87868" opacity="0.8"/><rect x="5.0" y="15.4" width="1.3" height="1.3" fill="#8a6a6a" opacity="0.8"/><rect x="28.4" y="15.9" width="1.3" height="1.3" fill="#8a6a6a" opacity="0.8"/><rect x="18.2" y="24.5" width="1.3" height="1.3" fill="#c87868" opacity="0.8"/><rect x="8.3" y="8.0" width="1.3" height="1.3" fill="#f0f0f0" opacity="0.8"/><rect x="16.0" y="26.4" width="1.3" height="1.3" fill="#4a6a9a" opacity="0.8"/><rect x="29.6" y="10.4" width="1.3" height="1.3" fill="#a8b8c0" opacity="0.8"/><rect x="18.5" y="17.6" width="1.3" height="1.3" fill="#e8d8d0" opacity="0.8"/><rect x="27.6" y="10.7" width="1.3" height="1.3" fill="#e8d8d0" opacity="0.8"/><rect x="14.9" y="12.6" width="1.3" height="1.3" fill="#c87868" opacity="0.8"/><rect x="17.7" y="9.0" width="1.3" height="1.3" fill="#8a6a6a" opacity="0.8"/><rect x="24.0" y="6.6" width="1.3" height="1.3" fill="#8a6a6a" opacity="0.8"/><rect x="21.7" y="8.1" width="1.3" height="1.3" fill="#f0f0f0" opacity="0.8"/><rect x="25.9" y="23.5" width="1.3" height="1.3" fill="#4a6a9a" opacity="0.8"/><rect x="0.9" y="27.8" width="1.3" height="1.3" fill="#7a98a8" opacity="0.8"/><rect x="26.6" y="13.0" width="1.3" height="1.3" fill="#d8e4e8" opacity="0.8"/><rect x="14.5" y="8.7" width="1.3" height="1.3" fill="#5a7a8a" opacity="0.8"/><rect x="20.1" y="22.4" width="1.3" height="1.3" fill="#7a98a8" opacity="0.8"/><rect x="29.7" y="24.3" width="1.3" height="1.3" fill="#5a7a8a" opacity="0.8"/><rect x="27.6" y="22.4" width="1.3" height="1.3" fill="#c87868" opacity="0.8"/><rect x="5.8" y="20.6" width="1.3" height="1.3" fill="#d8e4e8" opacity="0.8"/><circle cx="10" cy="19" r="6" fill="none" stroke="#6a8a98" stroke-width="1"/><circle cx="23" cy="20" r="6" fill="none" stroke="#5a7a88" stroke-width="1"/></g></svg></g>
<g transform="translate(1031,430.3)"><svg x="0" y="0" width="31.7" height="31.7" viewBox="0 0 32 32" style="position:static;overflow:hidden"><g filter="url(#tb)"><rect x="-2" y="-2" width="36" height="36" fill="#cfcbc0"/><rect x="8" y="2" width="20" height="18" fill="#dbd9d4"/><rect x="-2" y="-2" width="36" height="4" fill="#bdb9ae"/><rect x="-2" y="20.5" width="36" height="10" fill="#c9a871"/><rect x="-2" y="29.5" width="36" height="5" fill="#6e4e22"/><rect x="-2" y="13" width="11" height="7.5" fill="#2c6a5a"/><rect x="-2" y="13" width="11" height="1.2" fill="#e8e8e0"/><rect x="-2" y="20.5" width="10" height="5" fill="#8a98a8"/><rect x="-2" y="22.5" width="10" height="1" fill="#d8d8d8"/><path d="M15 6 L24 5 L27 8 L25.5 20" stroke="#b8b6b2" stroke-width="1" fill="none"/><path d="M23 20 L28 20 L27 23 L24 23Z" fill="#a8a8b4"/><path d="M13 26 l7 -2 l8 1.5 l-3 3 l-9 0z" fill="#f3f1ec"/><rect x="28.5" y="20" width="2" height="5" fill="#4a4038"/></g></svg></g>
<text x="1005.7" y="364.9" font-size="16.8" text-anchor="middle" >Source domain</text>
<text x="1005.7" y="482" font-size="16.8" text-anchor="middle" >Target domain</text>
<path d="M1073.7 395.0 L1103.3 395.0" fill="none" stroke="#a9c98d" stroke-width="1.3"/><polygon points="1112.8,395.0 1099.3,401.8 1102.8,395.0 1099.3,388.2" fill="#a9c98d"/>
<path d="M1073.7 442.7 L1103.3 442.7" fill="none" stroke="#c9aad2" stroke-width="1.3"/><polygon points="1112.8,442.7 1099.3,449.4 1102.8,442.7 1099.3,435.9" fill="#c9aad2"/>
<path d="M1177.4 395.0 L1200.0 395.0" fill="none" stroke="#a9c98d" stroke-width="1.3"/><polygon points="1209.5,395.0 1196.0,401.8 1199.5,395.0 1196.0,388.2" fill="#a9c98d"/>
<path d="M1177.4 442.7 L1200.0 442.7" fill="none" stroke="#c9aad2" stroke-width="1.3"/><polygon points="1209.5,442.7 1196.0,449.4 1199.5,442.7 1196.0,435.9" fill="#c9aad2"/>
<path d="M1219.9 395.0 L1389.3 395.0" fill="none" stroke="#a9c98d" stroke-width="1.3"/><polygon points="1398.8,395.0 1385.3,401.8 1388.8,395.0 1385.3,388.2" fill="#a9c98d"/>
<path d="M1219.9 442.7 L1389.3 442.7" fill="none" stroke="#c9aad2" stroke-width="1.3"/><polygon points="1398.8,442.7 1385.3,449.4 1388.8,442.7 1385.3,435.9" fill="#c9aad2"/>
<path d="M1320.2 395.0 L1320.2 486.1" fill="none" stroke="#a9c98d" stroke-width="1.3"/><polygon points="1320.2,495.6 1313.5,482.1 1320.2,485.6 1327.0,482.1" fill="#a9c98d"/>
<path d="M1279.0 442.7 L1279.0 486.1" fill="none" stroke="#c9aad2" stroke-width="1.3"/><polygon points="1279.0,495.6 1272.2,482.1 1279.0,485.6 1285.8,482.1" fill="#c9aad2"/>
<path d="M1463.4 395.0 L1486.5 395.0" fill="none" stroke="#a9c98d" stroke-width="1.3"/><polygon points="1496.0,395.0 1482.5,401.8 1486.0,395.0 1482.5,388.2" fill="#a9c98d"/>
<path d="M1463.4 442.7 L1486.5 442.7" fill="none" stroke="#c9aad2" stroke-width="1.3"/><polygon points="1496.0,442.7 1482.5,449.4 1486.0,442.7 1482.5,435.9" fill="#c9aad2"/>
<path d="M1506.5 395.0 L1613.9 395.0 L1613.9 485.5" fill="none" stroke="#a9c98d" stroke-width="1.3"/><polygon points="1613.9,495.0 1607.2,481.5 1613.9,485.0 1620.7,481.5" fill="#a9c98d"/>
<path d="M1506.5 442.7 L1572.8 442.7 L1572.8 485.5" fill="none" stroke="#c9aad2" stroke-width="1.3"/><polygon points="1572.8,495.0 1566.0,481.5 1572.8,485.0 1579.5,481.5" fill="#c9aad2"/>
<path d="M1320.2 536.0 L1320.2 561.5" fill="none" stroke="#a9c98d" stroke-width="1.3"/><polygon points="1320.2,571.0 1313.5,557.5 1320.2,561.0 1327.0,557.5" fill="#a9c98d"/>
<path d="M1613.9 535.5 L1613.9 561.5" fill="none" stroke="#a9c98d" stroke-width="1.3"/><polygon points="1613.9,571.0 1607.2,557.5 1613.9,561.0 1620.7,557.5" fill="#a9c98d"/>
<path d="M1279.0 536.0 L1279.0 608.9" fill="none" stroke="#c9aad2" stroke-width="1.3"/><polygon points="1279.0,618.4 1272.2,604.9 1279.0,608.4 1285.8,604.9" fill="#c9aad2"/>
<path d="M1572.8 535.5 L1572.8 608.9" fill="none" stroke="#c9aad2" stroke-width="1.3"/><polygon points="1572.8,618.4 1566.0,604.9 1572.8,608.4 1579.5,604.9" fill="#c9aad2"/>
<path d="M1279.0 646.5 L1279.0 697.3 L1296.7 697.3" fill="none" stroke="#c9aad2" stroke-width="1.3"/><polygon points="1306.2,697.3 1292.7,704.0 1296.2,697.3 1292.7,690.5" fill="#c9aad2"/>
<path d="M1234.5 714.5 L1296.7 714.5" fill="none" stroke="#c9aad2" stroke-width="1.3"/><polygon points="1306.2,714.5 1292.7,721.2 1296.2,714.5 1292.7,707.8" fill="#c9aad2"/>
<path d="M1406.9 705.3 L1427.9 705.3" fill="none" stroke="#c9aad2" stroke-width="1.3"/><polygon points="1437.4,705.3 1423.9,712.0 1427.4,705.3 1423.9,698.5" fill="#c9aad2"/>
<path d="M1006.6 493.5 L1006.6 644.8 L1103.3 644.8" fill="none" stroke="#c9aad2" stroke-width="1.3"/><polygon points="1112.8,644.8 1099.3,651.5 1102.8,644.8 1099.3,638.0" fill="#c9aad2"/>
<path d="M1177.4 644.8 L1217.8 644.8 L1217.8 688.3" fill="none" stroke="#c9aad2" stroke-width="1.3"/><polygon points="1217.8,697.8 1211.0,684.3 1217.8,687.8 1224.5,684.3" fill="#c9aad2"/>
<path d="M1177.4 783.8 L1217.8 783.8 L1217.8 740.5" fill="none" stroke="#c9aad2" stroke-width="1.3"/><polygon points="1217.8,731.0 1224.5,744.5 1217.8,741.0 1211.0,744.5" fill="#c9aad2"/>
<path d="M1073.7 783.8 L1103.3 783.8" fill="none" stroke="#c9aad2" stroke-width="1.3"/><polygon points="1112.8,783.8 1099.3,790.5 1102.8,783.8 1099.3,777.0" fill="#c9aad2"/>
<path d="M1331.9 588.0 L1433.5 588.0" fill="none" stroke="#f0b848" stroke-width="1.3" stroke-dasharray="3.2 3.2"/><polygon points="1443.0,588.0 1429.5,594.8 1433.0,588.0 1429.5,581.2" fill="#f0b848"/>
<path d="M1601.4 588.0 L1500.5 588.0" fill="none" stroke="#f0b848" stroke-width="1.3" stroke-dasharray="3.2 3.2"/><polygon points="1491.0,588.0 1504.5,581.2 1501.0,588.0 1504.5,594.8" fill="#f0b848"/>
<path d="M1290.3 633.5 L1392.3 633.5" fill="none" stroke="#f0b848" stroke-width="1.3" stroke-dasharray="3.2 3.2"/><polygon points="1401.8,633.5 1388.3,640.2 1391.8,633.5 1388.3,626.8" fill="#f0b848"/>
<path d="M1561.7 633.5 L1459.3 633.5" fill="none" stroke="#f0b848" stroke-width="1.3" stroke-dasharray="3.2 3.2"/><polygon points="1449.8,633.5 1463.3,626.8 1459.8,633.5 1463.3,640.2" fill="#f0b848"/>
<path d="M1505.3 633.5 L1505.3 679.9" fill="none" stroke="#f0b848" stroke-width="1.3" stroke-dasharray="3.2 3.2"/><polygon points="1505.3,689.4 1498.5,675.9 1505.3,679.4 1512.0,675.9" fill="#f0b848"/>
<path d="M1452.6 705.3 L1480.5 705.3" fill="none" stroke="#f0b848" stroke-width="1.3" stroke-dasharray="3.2 3.2"/><polygon points="1490.0,705.3 1476.5,712.0 1480.0,705.3 1476.5,698.5" fill="#f0b848"/>
<path d="M1402.4 841.6 L1402.4 866.5" fill="none" stroke="#f0b848" stroke-width="1.1" stroke-dasharray="3.2 3.2"/><polygon points="1402.4,869.5 1399.2,862.5 1402.4,866.0 1405.7,862.5" fill="#f0b848"/>
<path d="M1402.4 911.3 L1402.4 888.3" fill="none" stroke="#f0b848" stroke-width="1.1" stroke-dasharray="3.2 3.2"/><polygon points="1402.4,885.3 1405.7,892.3 1402.4,888.8 1399.2,892.3" fill="#f0b848"/>
<path d="M1594.6 841.6 L1594.6 866.5" fill="none" stroke="#f0b848" stroke-width="1.1" stroke-dasharray="3.2 3.2"/><polygon points="1594.6,869.5 1591.3,862.5 1594.6,866.0 1597.8,862.5" fill="#f0b848"/>
<path d="M1594.6 911.3 L1594.6 888.3" fill="none" stroke="#f0b848" stroke-width="1.1" stroke-dasharray="3.2 3.2"/><polygon points="1594.6,885.3 1597.8,892.3 1594.6,888.8 1591.3,892.3" fill="#f0b848"/>
<polygon points="1114.4,361.9 1177.4,381.7 1177.4,456.3 1114.4,477" fill="#dce4f3" stroke="#3a3a3a" stroke-width="1.1" stroke-linejoin="miter"/>
<polygon points="1400.6,361.9 1463.4,381.7 1463.4,456.3 1400.6,477" fill="#dce4f3" stroke="#3a3a3a" stroke-width="1.1" stroke-linejoin="miter"/>
<polygon points="1114.4,588.2 1177.4,607.6 1177.4,682.8 1114.4,702.2" fill="#fbe5d6" stroke="#3a3a3a" stroke-width="1.1" stroke-linejoin="miter"/>
<polygon points="1114.4,727.6 1177.4,747 1177.4,821.9 1114.4,841.5" fill="#fbe5d6" stroke="#3a3a3a" stroke-width="1.1" stroke-linejoin="miter"/>
<text x="1146" y="404.4" font-size="16.5" text-anchor="middle" >Feature</text>
<text x="1146" y="424.5" font-size="16.5" text-anchor="middle" >Encoder</text>
<text x="1146" y="444.8" font-size="17" text-anchor="middle" font-style="italic">F</text>
<text x="1432" y="405.4" font-size="16.5" text-anchor="middle" >Hash</text>
<text x="1432" y="425.2" font-size="16.5" text-anchor="middle" >Encoder</text>
<text x="1432" y="445.4" font-size="17" text-anchor="middle" font-style="italic">H</text>
<text x="1146" y="630.4" font-size="16.5" text-anchor="middle" >Image</text>
<text x="1146" y="650.6" font-size="16.5" text-anchor="middle" >Encoder</text>
<text x="1140" y="670.6" font-size="17" font-style="italic">F<tspan font-size="10.5" dy="4">I</tspan></text>
<text x="1146" y="769.4" font-size="16.5" text-anchor="middle" >Text</text>
<text x="1146" y="789.5" font-size="16.5" text-anchor="middle" >Encoder</text>
<text x="1138.5" y="809.6" font-size="17" font-style="italic">F<tspan font-size="10.5" dy="4">T</tspan></text>
<g transform="translate(1170.5,384) scale(0.82)"><path d="M0 -9 C1.5 -5.5 5.5 -3.5 5.5 2 C5.5 6 3 8 0 8 C-3 8 -5.5 6 -5.5 2 C-5.5 -1 -3.5 -2.5 -3 -5 C-1.5 -3.5 -1 -2.5 -0.7 -1 C0.2 -3.5 0.6 -6 0 -9Z" fill="#f59a3a"/><path d="M0 -2 C1 0 3.3 1.5 3.3 4 C3.3 6.5 1.8 8 0 8 C-1.8 8 -3.3 6.5 -3.3 4 C-3.3 2 -1.5 1 0 -2Z" fill="#fcd667"/></g>
<g transform="translate(1456.5,385.5) scale(0.82)"><path d="M0 -9 C1.5 -5.5 5.5 -3.5 5.5 2 C5.5 6 3 8 0 8 C-3 8 -5.5 6 -5.5 2 C-5.5 -1 -3.5 -2.5 -3 -5 C-1.5 -3.5 -1 -2.5 -0.7 -1 C0.2 -3.5 0.6 -6 0 -9Z" fill="#f59a3a"/><path d="M0 -2 C1 0 3.3 1.5 3.3 4 C3.3 6.5 1.8 8 0 8 C-1.8 8 -3.3 6.5 -3.3 4 C-3.3 2 -1.5 1 0 -2Z" fill="#fcd667"/></g>
<g stroke="#9fd0ee" stroke-width="1" fill="none" stroke-linecap="round"><path d="M1170.3 612.8 L1176.8 612.8"/><path d="M1174.2 612.8 L1175.6 611.2"/><path d="M1174.2 612.8 L1175.6 614.4"/><path d="M1170.3 612.8 L1173.5 618.4"/><path d="M1172.2 616.2 L1174.4 616.5"/><path d="M1172.2 616.2 L1171.5 618.2"/><path d="M1170.3 612.8 L1167.0 618.4"/><path d="M1168.3 616.2 L1169.1 618.2"/><path d="M1168.3 616.2 L1166.2 616.5"/><path d="M1170.3 612.8 L1163.8 612.8"/><path d="M1166.4 612.8 L1165.0 614.4"/><path d="M1166.4 612.8 L1165.0 611.2"/><path d="M1170.3 612.8 L1167.0 607.2"/><path d="M1168.3 609.4 L1166.2 609.1"/><path d="M1168.3 609.4 L1169.1 607.4"/><path d="M1170.3 612.8 L1173.5 607.2"/><path d="M1172.2 609.4 L1171.5 607.4"/><path d="M1172.2 609.4 L1174.4 609.1"/></g>
<g stroke="#9fd0ee" stroke-width="1" fill="none" stroke-linecap="round"><path d="M1170.3 752.3 L1176.8 752.3"/><path d="M1174.2 752.3 L1175.6 750.7"/><path d="M1174.2 752.3 L1175.6 753.9"/><path d="M1170.3 752.3 L1173.5 757.9"/><path d="M1172.2 755.7 L1174.4 756.0"/><path d="M1172.2 755.7 L1171.5 757.7"/><path d="M1170.3 752.3 L1167.0 757.9"/><path d="M1168.3 755.7 L1169.1 757.7"/><path d="M1168.3 755.7 L1166.2 756.0"/><path d="M1170.3 752.3 L1163.8 752.3"/><path d="M1166.4 752.3 L1165.0 753.9"/><path d="M1166.4 752.3 L1165.0 750.7"/><path d="M1170.3 752.3 L1167.0 746.7"/><path d="M1168.3 748.9 L1166.2 748.6"/><path d="M1168.3 748.9 L1169.1 746.9"/><path d="M1170.3 752.3 L1173.5 746.7"/><path d="M1172.2 748.9 L1171.5 746.9"/><path d="M1172.2 748.9 L1174.4 748.6"/></g>
<rect x="1211" y="356" width="8.9" height="53.5" fill="#dbe8c6" stroke="#3a3a3a" stroke-width="1"/>
<rect x="1211" y="428.3" width="8.9" height="53.7" fill="#e6d4e8" stroke="#3a3a3a" stroke-width="1"/>
<rect x="1497.6" y="378.2" width="8.9" height="31.3" fill="#dbe8c6" stroke="#3a3a3a" stroke-width="1"/>
<rect x="1497.6" y="428.3" width="8.9" height="31.2" fill="#e6d4e8" stroke="#3a3a3a" stroke-width="1"/>
<text x="1223.5" y="388.5" font-size="21.5" font-style="italic" font-weight="bold">f<tspan font-size="14.6" dy="-9.0" font-weight="normal" dx="3.5">s</tspan></text>
<text x="1223.5" y="467.5" font-size="21.5" font-style="italic" font-weight="bold">f<tspan font-size="14.6" dy="-9.0" font-weight="normal" dx="3.5">t</tspan></text>
<text x="1510" y="387.5" font-size="17.5" font-style="italic" font-weight="bold">b<tspan font-size="11.9" dy="-7.3" font-weight="normal" dx="1.5">s</tspan></text>
<text x="1510" y="461.5" font-size="17.5" font-style="italic" font-weight="bold">b<tspan font-size="11.9" dy="-7.3" font-weight="normal" dx="1.5">t</tspan></text>
<text x="1359.5" y="361.5" font-size="16.5" text-anchor="end" >Feature space</text>
<text x="1646.8" y="362.5" font-size="17" text-anchor="end" >Hamming space</text>
<text x="1240" y="599" font-size="16.5" text-anchor="end" >VLM</text>
<rect x="1250.5" y="496.7" width="98.9" height="39.4" fill="#dce4f3" stroke="#3a3a3a" stroke-width="1.1"/>
<rect x="1544.1" y="496" width="98.9" height="39.4" fill="#dce4f3" stroke="#111" stroke-width="1.1"/>
<text x="1256.5" y="521.5" font-size="16.5" font-weight="bold">Classifier <tspan font-style="italic">C</tspan><tspan font-style="italic" font-size="10" dy="4">F</tspan></text>
<text x="1549" y="521" font-size="16.5">Classifier <tspan font-style="italic">C</tspan><tspan font-style="italic" font-size="10" dy="4">H</tspan></text>
<g transform="translate(1342.5,501.5) scale(0.8)"><path d="M0 -9 C1.5 -5.5 5.5 -3.5 5.5 2 C5.5 6 3 8 0 8 C-3 8 -5.5 6 -5.5 2 C-5.5 -1 -3.5 -2.5 -3 -5 C-1.5 -3.5 -1 -2.5 -0.7 -1 C0.2 -3.5 0.6 -6 0 -9Z" fill="#f59a3a"/><path d="M0 -2 C1 0 3.3 1.5 3.3 4 C3.3 6.5 1.8 8 0 8 C-1.8 8 -3.3 6.5 -3.3 4 C-3.3 2 -1.5 1 0 -2Z" fill="#fcd667"/></g>
<g transform="translate(1635,502.5) scale(0.8)"><path d="M0 -9 C1.5 -5.5 5.5 -3.5 5.5 2 C5.5 6 3 8 0 8 C-3 8 -5.5 6 -5.5 2 C-5.5 -1 -3.5 -2.5 -3 -5 C-1.5 -3.5 -1 -2.5 -0.7 -1 C0.2 -3.5 0.6 -6 0 -9Z" fill="#f59a3a"/><path d="M0 -2 C1 0 3.3 1.5 3.3 4 C3.3 6.5 1.8 8 0 8 C-1.8 8 -3.3 6.5 -3.3 4 C-3.3 2 -1.5 1 0 -2Z" fill="#fcd667"/></g>
<text x="1312.5" y="591" font-size="17.5" font-style="italic">ŷ</text><text x="1322.0" y="584.5" font-size="11.5" font-style="italic">s</text><text x="1320.5" y="596" font-size="10" font-style="italic" font-weight="bold">F</text>
<text x="1606.5" y="591" font-size="17.5" font-style="italic">ŷ</text><text x="1616.0" y="584.5" font-size="11.5" font-style="italic">s</text><text x="1614.5" y="596" font-size="10" font-style="italic" font-weight="bold">H</text>
<text x="1270" y="637" font-size="17.5" font-style="italic">ŷ</text><text x="1279.5" y="630.5" font-size="11.5" font-style="italic">t</text><text x="1278" y="642" font-size="10" font-style="italic" font-weight="bold">F</text>
<text x="1564" y="637" font-size="17.5" font-style="italic">ŷ</text><text x="1573.5" y="630.5" font-size="11.5" font-style="italic">t</text><text x="1572" y="642" font-size="10" font-style="italic" font-weight="bold">H</text>
<text x="1439" y="708.5" font-size="17.5" font-style="italic">ỹ</text><text x="1448.5" y="702.0" font-size="11.5" font-style="italic">t</text>
<path transform="translate(1459.5,594.5) scale(1.0)" d="M8.6 -9.6 C7.2 -11.4 4.9 -10.6 4.4 -8 C3.9 -5 3.3 -1.8 0.6 -0.5 C3 -1.3 5.6 0.9 9.3 -1.2" fill="none" stroke="#111" stroke-width="1.15" stroke-linecap="round"/><text x="1469.0" y="596.5" font-size="11.2" font-style="italic">s</text>
<path transform="translate(1418,640) scale(1.0)" d="M8.6 -9.6 C7.2 -11.4 4.9 -10.6 4.4 -8 C3.9 -5 3.3 -1.8 0.6 -0.5 C3 -1.3 5.6 0.9 9.3 -1.2" fill="none" stroke="#111" stroke-width="1.15" stroke-linecap="round"/><text x="1427.5" y="642" font-size="11.2" font-style="italic">i</text>
<path transform="translate(1499.5,709) scale(1.0)" d="M8.6 -9.6 C7.2 -11.4 4.9 -10.6 4.4 -8 C3.9 -5 3.3 -1.8 0.6 -0.5 C3 -1.3 5.6 0.9 9.3 -1.2" fill="none" stroke="#111" stroke-width="1.15" stroke-linecap="round"/><text x="1509.0" y="711" font-size="11.2" font-style="italic">t</text>
<path transform="translate(1397.5,880.3) scale(0.92)" d="M8.6 -9.6 C7.2 -11.4 4.9 -10.6 4.4 -8 C3.9 -5 3.3 -1.8 0.6 -0.5 C3 -1.3 5.6 0.9 9.3 -1.2" fill="none" stroke="#111" stroke-width="1.15" stroke-linecap="round"/><text x="1406" y="883" font-size="9" font-style="italic">P<tspan font-size="6" dy="1.5">F</tspan></text>
<path transform="translate(1589.5,879.6) scale(0.92)" d="M8.6 -9.6 C7.2 -11.4 4.9 -10.6 4.4 -8 C3.9 -5 3.3 -1.8 0.6 -0.5 C3 -1.3 5.6 0.9 9.3 -1.2" fill="none" stroke="#111" stroke-width="1.15" stroke-linecap="round"/><text x="1598" y="882.3" font-size="9" font-style="italic">P<tspan font-size="6" dy="1.5">H</tspan></text>
<text x="1208" y="716.5" font-size="17" font-style="italic">y<tspan font-size="10.5" dy="5">clip</tspan></text>
<rect x="1308" y="680.1" width="98.9" height="50.1" fill="#e3dddd" stroke="#3a3a3a" stroke-width="1.1"/>
<text x="1356" y="698.3" font-size="16.5" text-anchor="middle" >Weighted</text>
<text x="1357.3" y="719.6" font-size="16.5" text-anchor="middle" >Integration</text>
<text x="1012.4" y="771" font-size="13.9" text-anchor="middle" letter-spacing="-0.1">“A photo of a alarm clock.”</text>
<text x="1012.4" y="787.6" font-size="13.9" text-anchor="middle" letter-spacing="-0.1">“A photo of a bike.”</text>
<text x="1012.4" y="804.2" font-size="13.9" text-anchor="middle" letter-spacing="-0.1">“A photo of a desk lamp.”</text>
<rect x="1349.2" y="789.2" width="108.4" height="52.4" fill="#e9efda" stroke="#222" stroke-width="1"/><path d="M1361.2 789.2V841.6M1373.3 789.2V841.6M1385.3 789.2V841.6M1397.4 789.2V841.6M1409.4 789.2V841.6M1421.5 789.2V841.6M1433.5 789.2V841.6M1445.6 789.2V841.6M1349.2 797.9H1457.6M1349.2 806.7H1457.6M1349.2 815.4H1457.6M1349.2 824.1H1457.6M1349.2 832.9H1457.6" stroke="#333" stroke-width="0.9" fill="none"/>
<rect x="1560.2" y="789.2" width="68.5" height="52.4" fill="#e9efda" stroke="#222" stroke-width="1"/><path d="M1571.6 789.2V841.6M1583.0 789.2V841.6M1594.5 789.2V841.6M1605.9 789.2V841.6M1617.3 789.2V841.6M1560.2 797.9H1628.7M1560.2 806.7H1628.7M1560.2 815.4H1628.7M1560.2 824.1H1628.7M1560.2 832.9H1628.7" stroke="#333" stroke-width="0.9" fill="none"/>
<rect x="1349.2" y="911.3" width="108.4" height="52.5" fill="#ede2ef" stroke="#222" stroke-width="1"/><path d="M1361.2 911.3V963.8M1373.3 911.3V963.8M1385.3 911.3V963.8M1397.4 911.3V963.8M1409.4 911.3V963.8M1421.5 911.3V963.8M1433.5 911.3V963.8M1445.6 911.3V963.8M1349.2 920.0H1457.6M1349.2 928.8H1457.6M1349.2 937.5H1457.6M1349.2 946.3H1457.6M1349.2 955.0H1457.6" stroke="#333" stroke-width="0.9" fill="none"/>
<rect x="1560.2" y="911.3" width="68.5" height="52.5" fill="#ede2ef" stroke="#222" stroke-width="1"/><path d="M1571.6 911.3V963.8M1583.0 911.3V963.8M1594.5 911.3V963.8M1605.9 911.3V963.8M1617.3 911.3V963.8M1560.2 920.0H1628.7M1560.2 928.8H1628.7M1560.2 937.5H1628.7M1560.2 946.3H1628.7M1560.2 955.0H1628.7" stroke="#333" stroke-width="0.9" fill="none"/>
<text x="1343.5" y="782.4" font-size="16.8">Memory bank <tspan font-style="italic" font-weight="bold">M</tspan></text><text x="1459.0" y="775.4" font-size="11.5" font-style="italic">s</text><text x="1456.5" y="787.9" font-size="10" font-style="italic" font-weight="bold">F</text>
<text x="1524.5" y="782.4" font-size="16.8">Memory bank <tspan font-style="italic" font-weight="bold">M</tspan></text><text x="1640.0" y="775.4" font-size="11.5" font-style="italic">s</text><text x="1637.5" y="787.9" font-size="10" font-style="italic" font-weight="bold">H</text>
<text x="1343.5" y="981.2" font-size="16.8">Memory bank <tspan font-style="italic" font-weight="bold">M</tspan></text><text x="1459.0" y="974.2" font-size="11.5" font-style="italic">t</text><text x="1456.5" y="986.7" font-size="10" font-style="italic" font-weight="bold">F</text>
<text x="1524.5" y="980" font-size="16.8">Memory bank <tspan font-style="italic" font-weight="bold">M</tspan></text><text x="1640.0" y="973" font-size="11.5" font-style="italic">t</text><text x="1637.5" y="985.5" font-size="10" font-style="italic" font-weight="bold">H</text>
<path d="M1313.6 799.0 L1321.1 805.5 L1313.6 812.0" fill="none" stroke="#a9c98d" stroke-width="2" opacity="0.25"/><path d="M1317.2 799.0 L1324.7 805.5 L1317.2 812.0" fill="none" stroke="#a9c98d" stroke-width="2" opacity="0.45"/><path d="M1320.8 799.0 L1328.3 805.5 L1320.8 812.0" fill="none" stroke="#a9c98d" stroke-width="2" opacity="0.7"/><path d="M1324.4 799.0 L1331.9 805.5 L1324.4 812.0" fill="none" stroke="#a9c98d" stroke-width="2" opacity="1.0"/><path d="M1331.9 805.5H1349.2" stroke="#a9c98d" stroke-width="1.2" fill="none"/>
<path d="M1313.6 818.8 L1321.1 825.3 L1313.6 831.8" fill="none" stroke="#a9c98d" stroke-width="2" opacity="0.25"/><path d="M1317.2 818.8 L1324.7 825.3 L1317.2 831.8" fill="none" stroke="#a9c98d" stroke-width="2" opacity="0.45"/><path d="M1320.8 818.8 L1328.3 825.3 L1320.8 831.8" fill="none" stroke="#a9c98d" stroke-width="2" opacity="0.7"/><path d="M1324.4 818.8 L1331.9 825.3 L1324.4 831.8" fill="none" stroke="#a9c98d" stroke-width="2" opacity="1.0"/><path d="M1331.9 825.3H1349.2" stroke="#a9c98d" stroke-width="1.2" fill="none"/>
<path d="M1313.6 921.3 L1321.1 927.8 L1313.6 934.3" fill="none" stroke="#c9aad2" stroke-width="2" opacity="0.25"/><path d="M1317.2 921.3 L1324.7 927.8 L1317.2 934.3" fill="none" stroke="#c9aad2" stroke-width="2" opacity="0.45"/><path d="M1320.8 921.3 L1328.3 927.8 L1320.8 934.3" fill="none" stroke="#c9aad2" stroke-width="2" opacity="0.7"/><path d="M1324.4 921.3 L1331.9 927.8 L1324.4 934.3" fill="none" stroke="#c9aad2" stroke-width="2" opacity="1.0"/><path d="M1331.9 927.8H1349.2" stroke="#c9aad2" stroke-width="1.2" fill="none"/>
<path d="M1313.6 941.5 L1321.1 948.0 L1313.6 954.5" fill="none" stroke="#c9aad2" stroke-width="2" opacity="0.25"/><path d="M1317.2 941.5 L1324.7 948.0 L1317.2 954.5" fill="none" stroke="#c9aad2" stroke-width="2" opacity="0.45"/><path d="M1320.8 941.5 L1328.3 948.0 L1320.8 954.5" fill="none" stroke="#c9aad2" stroke-width="2" opacity="0.7"/><path d="M1324.4 941.5 L1331.9 948.0 L1324.4 954.5" fill="none" stroke="#c9aad2" stroke-width="2" opacity="1.0"/><path d="M1331.9 948.0H1349.2" stroke="#c9aad2" stroke-width="1.2" fill="none"/>
<text x="1296.5" y="811.5" font-size="19.5" font-style="italic" font-weight="bold">f<tspan font-size="13.3" dy="-8.2" font-weight="normal" dx="3.5">s</tspan></text>
<text x="1296.5" y="934.2" font-size="19.5" font-style="italic" font-weight="bold">f<tspan font-size="13.3" dy="-8.2" font-weight="normal" dx="3.5">t</tspan></text>
<text x="1295.5" y="829.5" font-size="17" font-style="italic" >y<tspan font-size="11.6" dy="-7.1" font-weight="normal" dx="1.5">s</tspan></text>
<text x="1295.5" y="953.5" font-size="17.5" font-style="italic">ỹ</text><text x="1305.0" y="947.0" font-size="11.5" font-style="italic">t</text>
<path d="M1523.7 799.0 L1531.2 805.5 L1523.7 812.0" fill="none" stroke="#a9c98d" stroke-width="2" opacity="0.25"/><path d="M1527.3 799.0 L1534.8 805.5 L1527.3 812.0" fill="none" stroke="#a9c98d" stroke-width="2" opacity="0.45"/><path d="M1530.9 799.0 L1538.4 805.5 L1530.9 812.0" fill="none" stroke="#a9c98d" stroke-width="2" opacity="0.7"/><path d="M1534.5 799.0 L1542.0 805.5 L1534.5 812.0" fill="none" stroke="#a9c98d" stroke-width="2" opacity="1.0"/><path d="M1542.0 805.5H1560.2" stroke="#a9c98d" stroke-width="1.2" fill="none"/>
<path d="M1523.7 818.8 L1531.2 825.3 L1523.7 831.8" fill="none" stroke="#a9c98d" stroke-width="2" opacity="0.25"/><path d="M1527.3 818.8 L1534.8 825.3 L1527.3 831.8" fill="none" stroke="#a9c98d" stroke-width="2" opacity="0.45"/><path d="M1530.9 818.8 L1538.4 825.3 L1530.9 831.8" fill="none" stroke="#a9c98d" stroke-width="2" opacity="0.7"/><path d="M1534.5 818.8 L1542.0 825.3 L1534.5 831.8" fill="none" stroke="#a9c98d" stroke-width="2" opacity="1.0"/><path d="M1542.0 825.3H1560.2" stroke="#a9c98d" stroke-width="1.2" fill="none"/>
<path d="M1523.7 921.3 L1531.2 927.8 L1523.7 934.3" fill="none" stroke="#c9aad2" stroke-width="2" opacity="0.25"/><path d="M1527.3 921.3 L1534.8 927.8 L1527.3 934.3" fill="none" stroke="#c9aad2" stroke-width="2" opacity="0.45"/><path d="M1530.9 921.3 L1538.4 927.8 L1530.9 934.3" fill="none" stroke="#c9aad2" stroke-width="2" opacity="0.7"/><path d="M1534.5 921.3 L1542.0 927.8 L1534.5 934.3" fill="none" stroke="#c9aad2" stroke-width="2" opacity="1.0"/><path d="M1542.0 927.8H1560.2" stroke="#c9aad2" stroke-width="1.2" fill="none"/>
<path d="M1523.7 941.5 L1531.2 948.0 L1523.7 954.5" fill="none" stroke="#c9aad2" stroke-width="2" opacity="0.25"/><path d="M1527.3 941.5 L1534.8 948.0 L1527.3 954.5" fill="none" stroke="#c9aad2" stroke-width="2" opacity="0.45"/><path d="M1530.9 941.5 L1538.4 948.0 L1530.9 954.5" fill="none" stroke="#c9aad2" stroke-width="2" opacity="0.7"/><path d="M1534.5 941.5 L1542.0 948.0 L1534.5 954.5" fill="none" stroke="#c9aad2" stroke-width="2" opacity="1.0"/><path d="M1542.0 948.0H1560.2" stroke="#c9aad2" stroke-width="1.2" fill="none"/>
<text x="1509.5" y="810.5" font-size="17.5" font-style="italic" font-weight="bold">b<tspan font-size="11.9" dy="-7.3" font-weight="normal" dx="1.5">s</tspan></text>
<text x="1509.5" y="933.2" font-size="17.5" font-style="italic" font-weight="bold">b<tspan font-size="11.9" dy="-7.3" font-weight="normal" dx="1.5">t</tspan></text>
<text x="1508.5" y="829.5" font-size="17" font-style="italic" >y<tspan font-size="11.6" dy="-7.1" font-weight="normal" dx="1.5">s</tspan></text>
<text x="1508.5" y="953.5" font-size="17.5" font-style="italic">ỹ</text><text x="1518.0" y="947.0" font-size="11.5" font-style="italic">t</text>
<rect x="971.8" y="859.3" width="196.9" height="137.7" rx="7" fill="none" stroke="#444" stroke-width="0.9" stroke-dasharray="1.6 1.6"/>
<g transform="translate(993.6,873) scale(0.72)"><path d="M0 -9 C1.5 -5.5 5.5 -3.5 5.5 2 C5.5 6 3 8 0 8 C-3 8 -5.5 6 -5.5 2 C-5.5 -1 -3.5 -2.5 -3 -5 C-1.5 -3.5 -1 -2.5 -0.7 -1 C0.2 -3.5 0.6 -6 0 -9Z" fill="#f59a3a"/><path d="M0 -2 C1 0 3.3 1.5 3.3 4 C3.3 6.5 1.8 8 0 8 C-1.8 8 -3.3 6.5 -3.3 4 C-3.3 2 -1.5 1 0 -2Z" fill="#fcd667"/></g>
<g stroke="#9fd0ee" stroke-width="1" fill="none" stroke-linecap="round"><path d="M993.6 893.5 L999.1 893.5"/><path d="M996.9 893.5 L998.1 892.1"/><path d="M996.9 893.5 L998.1 894.9"/><path d="M993.6 893.5 L996.4 898.3"/><path d="M995.2 896.4 L997.0 896.7"/><path d="M995.2 896.4 L994.6 898.1"/><path d="M993.6 893.5 L990.9 898.3"/><path d="M992.0 896.4 L992.6 898.1"/><path d="M992.0 896.4 L990.2 896.7"/><path d="M993.6 893.5 L988.1 893.5"/><path d="M990.3 893.5 L989.1 894.9"/><path d="M990.3 893.5 L989.1 892.1"/><path d="M993.6 893.5 L990.9 888.7"/><path d="M992.0 890.6 L990.2 890.3"/><path d="M992.0 890.6 L992.6 888.9"/><path d="M993.6 893.5 L996.4 888.7"/><path d="M995.2 890.6 L994.6 888.9"/><path d="M995.2 890.6 L997.0 890.3"/></g>
<path d="M978.8 916.5 L1002.3 916.5" fill="none" stroke="#a9c98d" stroke-width="1.3"/><polygon points="1009.3,916.5 998.3,922.2 1001.8,916.5 998.3,910.8" fill="#a9c98d"/>
<path d="M978.8 939.4 L1002.3 939.4" fill="none" stroke="#c9aad2" stroke-width="1.3"/><polygon points="1009.3,939.4 998.3,945.1 1001.8,939.4 998.3,933.6" fill="#c9aad2"/>
<path d="M978.8 961.6 L1002.3 961.6" fill="none" stroke="#f0b848" stroke-width="1.3" stroke-dasharray="3.2 3.2"/><polygon points="1009.3,961.6 998.3,967.4 1001.8,961.6 998.3,955.9" fill="#f0b848"/>
<path d="M977.0 977.5 L984.0 983.5 L977.0 989.5" fill="none" stroke="#888" stroke-width="2" opacity="0.2"/>
<path d="M980.4 977.5 L987.4 983.5 L980.4 989.5" fill="none" stroke="#888" stroke-width="2" opacity="0.4"/>
<path d="M983.8 977.5 L990.8 983.5 L983.8 989.5" fill="none" stroke="#888" stroke-width="2" opacity="0.65"/>
<path d="M987.2 977.5 L994.2 983.5 L987.2 989.5" fill="none" stroke="#111" stroke-width="2" opacity="1.0"/>
<path d="M994 983.5H1007.5" stroke="#111" stroke-width="1.2"/>
<text x="1017" y="877" font-size="13.9" text-anchor="start" >Learnable</text>
<text x="1017" y="898.8" font-size="13.9" text-anchor="start" >Frozen</text>
<text x="1017" y="920" font-size="13.9" text-anchor="start" >Source domain dataflow</text>
<text x="1017" y="942.2" font-size="13.9" text-anchor="start" >Target domain dataflow</text>
<text x="1017" y="966.2" font-size="13.9" text-anchor="start" >Loss calculation dataflow</text>
<text x="1017" y="988" font-size="13.9" text-anchor="start" >Memory bank update</text>
</svg>
<div class="ln j " style="left:927.5px;top:1035.5px;width:735.5px;"><span style="display:inline-block;width:59.5px"></span>Generate pseudo-labels in the feature</div>
<div class="ln j " style="left:927.5px;top:1081.8px;width:735.5px;">space to guide discriminative hash code</div>
<div class="ln " style="left:927.5px;top:1128.0px;">learning.</div>
<div class="ln j " style="left:927.5px;top:1188.8px;width:735.5px;"><span style="display:inline-block;width:59.5px"></span>Enhance pseudo-label reliability via the</div>
<div class="ln " style="left:927.5px;top:1234.7px;"><span style="word-spacing:-2.1px">auxiliary corrective information provided by a</span></div>
<div class="ln " style="left:927.5px;top:1280.8px;">frozen pre-trained VLM.</div>
<div class="ln j " style="left:927.5px;top:1341.5px;width:735.5px;"><span style="display:inline-block;width:59.5px"></span>Deploy dedicated classifiers in both</div>
<div class="ln j " style="left:927.5px;top:1387.8px;width:735.5px;">feature space and Hamming space to</div>
<div class="ln " style="left:927.5px;top:1434.0px;">preserve representation discriminability.</div>
<div class="ln j " style="left:927.5px;top:1494.7px;width:735.5px;"><span style="display:inline-block;width:59.5px"></span>Adopt memory bank-based domain</div>
<div class="ln j " style="left:927.5px;top:1540.7px;width:735.5px;">alignment within each space facilitates</div>
<div class="ln " style="left:927.5px;top:1586.7px;">capturing transferable knowledge.</div>
<svg x="0" y="0" width="90" height="80" viewBox="0 0 1735 1542" style="left:915px;top:1012px;"><path d="M225 1050 L950 1262 L990 1075 L250 920Z" fill="#f6a31f" stroke="#0b0b20" stroke-width="44" stroke-linejoin="round"/><path d="M215 1000 C215 940 280 905 350 910 L990 1060 L968 1160 L660 1078 L640 1070 L495 1035 L470 1040 L300 1000 C250 990 215 1020 215 1000Z" fill="#8b929d" stroke="#0b0b20" stroke-width="40" stroke-linejoin="round"/><path d="M330 962 L740 1062" stroke="#0b0b20" stroke-width="30" stroke-linecap="round"/><path d="M495 1050 L640 1085 L610 1275 L545 1185 L435 1225Z" fill="#f8b81f" stroke="#0b0b20" stroke-width="40" stroke-linejoin="round"/><path d="M480 285 L1160 450 L990 1060 L350 905 Z" fill="#f6c31f" stroke="#0b0b20" stroke-width="46" stroke-linejoin="round"/><path d="M480 285 C420 280 385 300 365 360 L215 1000 C230 950 290 905 350 905 Z" fill="#f6c31f" stroke="#0b0b20" stroke-width="46" stroke-linejoin="round"/><path d="M545 365 L425 870" stroke="#fbe9a6" stroke-width="34" stroke-linecap="round"/><path d="M610 495 L955 577 M665 575 L875 635 M545 790 L735 850 M795 852 L885 876" stroke="#0b0b20" stroke-width="38" stroke-linecap="round"/><path d="M265 510 L320 300 C350 230 430 195 510 215" fill="none" stroke="#0b0b20" stroke-width="34" stroke-linecap="round"/><circle cx="580" cy="238" r="16" fill="#0b0b20"/><circle cx="650" cy="250" r="16" fill="#0b0b20"/><circle cx="1100" cy="960" r="16" fill="#0b0b20"/><circle cx="1090" cy="1030" r="16" fill="#0b0b20"/><circle cx="1065" cy="1100" r="16" fill="#0b0b20"/></svg>
<svg x="0" y="0" width="90" height="80" viewBox="0 0 1735 1542" style="left:915px;top:1168.4px;"><path d="M225 1050 L950 1262 L990 1075 L250 920Z" fill="#f6a31f" stroke="#0b0b20" stroke-width="44" stroke-linejoin="round"/><path d="M215 1000 C215 940 280 905 350 910 L990 1060 L968 1160 L660 1078 L640 1070 L495 1035 L470 1040 L300 1000 C250 990 215 1020 215 1000Z" fill="#8b929d" stroke="#0b0b20" stroke-width="40" stroke-linejoin="round"/><path d="M330 962 L740 1062" stroke="#0b0b20" stroke-width="30" stroke-linecap="round"/><path d="M495 1050 L640 1085 L610 1275 L545 1185 L435 1225Z" fill="#f8b81f" stroke="#0b0b20" stroke-width="40" stroke-linejoin="round"/><path d="M480 285 L1160 450 L990 1060 L350 905 Z" fill="#f6c31f" stroke="#0b0b20" stroke-width="46" stroke-linejoin="round"/><path d="M480 285 C420 280 385 300 365 360 L215 1000 C230 950 290 905 350 905 Z" fill="#f6c31f" stroke="#0b0b20" stroke-width="46" stroke-linejoin="round"/><path d="M545 365 L425 870" stroke="#fbe9a6" stroke-width="34" stroke-linecap="round"/><path d="M610 495 L955 577 M665 575 L875 635 M545 790 L735 850 M795 852 L885 876" stroke="#0b0b20" stroke-width="38" stroke-linecap="round"/><path d="M265 510 L320 300 C350 230 430 195 510 215" fill="none" stroke="#0b0b20" stroke-width="34" stroke-linecap="round"/><circle cx="580" cy="238" r="16" fill="#0b0b20"/><circle cx="650" cy="250" r="16" fill="#0b0b20"/><circle cx="1100" cy="960" r="16" fill="#0b0b20"/><circle cx="1090" cy="1030" r="16" fill="#0b0b20"/><circle cx="1065" cy="1100" r="16" fill="#0b0b20"/></svg>
<svg x="0" y="0" width="90" height="80" viewBox="0 0 1735 1542" style="left:915px;top:1321.1px;"><path d="M225 1050 L950 1262 L990 1075 L250 920Z" fill="#f6a31f" stroke="#0b0b20" stroke-width="44" stroke-linejoin="round"/><path d="M215 1000 C215 940 280 905 350 910 L990 1060 L968 1160 L660 1078 L640 1070 L495 1035 L470 1040 L300 1000 C250 990 215 1020 215 1000Z" fill="#8b929d" stroke="#0b0b20" stroke-width="40" stroke-linejoin="round"/><path d="M330 962 L740 1062" stroke="#0b0b20" stroke-width="30" stroke-linecap="round"/><path d="M495 1050 L640 1085 L610 1275 L545 1185 L435 1225Z" fill="#f8b81f" stroke="#0b0b20" stroke-width="40" stroke-linejoin="round"/><path d="M480 285 L1160 450 L990 1060 L350 905 Z" fill="#f6c31f" stroke="#0b0b20" stroke-width="46" stroke-linejoin="round"/><path d="M480 285 C420 280 385 300 365 360 L215 1000 C230 950 290 905 350 905 Z" fill="#f6c31f" stroke="#0b0b20" stroke-width="46" stroke-linejoin="round"/><path d="M545 365 L425 870" stroke="#fbe9a6" stroke-width="34" stroke-linecap="round"/><path d="M610 495 L955 577 M665 575 L875 635 M545 790 L735 850 M795 852 L885 876" stroke="#0b0b20" stroke-width="38" stroke-linecap="round"/><path d="M265 510 L320 300 C350 230 430 195 510 215" fill="none" stroke="#0b0b20" stroke-width="34" stroke-linecap="round"/><circle cx="580" cy="238" r="16" fill="#0b0b20"/><circle cx="650" cy="250" r="16" fill="#0b0b20"/><circle cx="1100" cy="960" r="16" fill="#0b0b20"/><circle cx="1090" cy="1030" r="16" fill="#0b0b20"/><circle cx="1065" cy="1100" r="16" fill="#0b0b20"/></svg>
<svg x="0" y="0" width="90" height="80" viewBox="0 0 1735 1542" style="left:915px;top:1474.3px;"><path d="M225 1050 L950 1262 L990 1075 L250 920Z" fill="#f6a31f" stroke="#0b0b20" stroke-width="44" stroke-linejoin="round"/><path d="M215 1000 C215 940 280 905 350 910 L990 1060 L968 1160 L660 1078 L640 1070 L495 1035 L470 1040 L300 1000 C250 990 215 1020 215 1000Z" fill="#8b929d" stroke="#0b0b20" stroke-width="40" stroke-linejoin="round"/><path d="M330 962 L740 1062" stroke="#0b0b20" stroke-width="30" stroke-linecap="round"/><path d="M495 1050 L640 1085 L610 1275 L545 1185 L435 1225Z" fill="#f8b81f" stroke="#0b0b20" stroke-width="40" stroke-linejoin="round"/><path d="M480 285 L1160 450 L990 1060 L350 905 Z" fill="#f6c31f" stroke="#0b0b20" stroke-width="46" stroke-linejoin="round"/><path d="M480 285 C420 280 385 300 365 360 L215 1000 C230 950 290 905 350 905 Z" fill="#f6c31f" stroke="#0b0b20" stroke-width="46" stroke-linejoin="round"/><path d="M545 365 L425 870" stroke="#fbe9a6" stroke-width="34" stroke-linecap="round"/><path d="M610 495 L955 577 M665 575 L875 635 M545 790 L735 850 M795 852 L885 876" stroke="#0b0b20" stroke-width="38" stroke-linecap="round"/><path d="M265 510 L320 300 C350 230 430 195 510 215" fill="none" stroke="#0b0b20" stroke-width="34" stroke-linecap="round"/><circle cx="580" cy="238" r="16" fill="#0b0b20"/><circle cx="650" cy="250" r="16" fill="#0b0b20"/><circle cx="1100" cy="960" r="16" fill="#0b0b20"/><circle cx="1090" cy="1030" r="16" fill="#0b0b20"/><circle cx="1065" cy="1100" r="16" fill="#0b0b20"/></svg>
<div class="box" style="left:1743.8px;top:281px;width:807px;height:1397px;"></div>
<div class="pill" style="left:1961px;top:250.5px;width:371px;height:66px;line-height:56px;">Experiment</div>
<div class="ln " style="left:1840.5px;top:331.5px;font-size:37.5px;">Cross-domain retrieval</div>
<div class="ln " style="left:1840.5px;top:758.3px;font-size:37.5px;">Single-domain retrieval</div>
<div class="ln " style="left:1829.6px;top:1161.2px;font-size:37.5px;">Curves</div>
<div class="ln " style="left:1839.7px;top:1403.0px;font-size:37.5px;">Visualization</div>
<svg width="2592" height="1679" style="left:0;top:0" viewBox="0 0 2592 1679"><g font-size="17" fill="#0a0a0a" stroke="#0a0a0a" stroke-width="0.18">
<path d="M1765 383.9H2528.8" stroke="#0a0a0a" stroke-width="1.7"/>
<path d="M1765 412.8H2528.8" stroke="#0a0a0a" stroke-width="1.3"/>
<path d="M1765 441.7H2528.8" stroke="#0a0a0a" stroke-width="1.3"/>
<path d="M1765 738.7H2528.8" stroke="#0a0a0a" stroke-width="1.7"/>
<path d="M2147.2 388.5V409.2" stroke="#0a0a0a" stroke-width="1.25"/>
<path d="M1843 417.5V438.5" stroke="#0a0a0a" stroke-width="1.25"/>
<path d="M2147.2 417.5V438.5" stroke="#0a0a0a" stroke-width="1.25"/>
<path d="M2479 417.5V438.5" stroke="#0a0a0a" stroke-width="1.25"/>
<path d="M1843 448.3V733.3" stroke="#0a0a0a" stroke-width="1.25"/>
<path d="M2147.2 448.3V733.3" stroke="#0a0a0a" stroke-width="1.25"/>
<path d="M2479 448.3V733.3" stroke="#0a0a0a" stroke-width="1.25"/>
<text x="1994.8" y="402.5" text-anchor="middle">Office-Home</text>
<text x="2312.4" y="402.5" text-anchor="middle">Office-31</text>
<text x="1770.9" y="432.0" text-anchor="start">Task</text>
<text x="1849.8" y="432.0" text-anchor="start">A</text><path d="M1862.9 427.7H1876.8M1873.2 424.8Q1874.4 427.0 1876.8 427.7Q1874.4 428.4 1873.2 430.6" fill="none" stroke="#0a0a0a" stroke-width="0.9" stroke-linecap="round"/><text x="1877.6" y="432.0" text-anchor="start">R</text>
<text x="1901.6" y="432.0" text-anchor="start">R</text><path d="M1913.8 427.7H1927.7M1924.1 424.8Q1925.3 427.0 1927.7 427.7Q1925.3 428.4 1924.1 430.6" fill="none" stroke="#0a0a0a" stroke-width="0.9" stroke-linecap="round"/><text x="1928.5" y="432.0" text-anchor="start">A</text>
<text x="1953.6" y="432.0" text-anchor="start">C</text><path d="M1965.8 427.7H1979.7M1976.1 424.8Q1977.2 427.0 1979.7 427.7Q1977.2 428.4 1976.1 430.6" fill="none" stroke="#0a0a0a" stroke-width="0.9" stroke-linecap="round"/><text x="1980.5" y="432.0" text-anchor="start">R</text>
<text x="2004.3" y="432.0" text-anchor="start">R</text><path d="M2016.5 427.7H2030.4M2026.8 424.8Q2028.0 427.0 2030.4 427.7Q2028.0 428.4 2026.8 430.6" fill="none" stroke="#0a0a0a" stroke-width="0.9" stroke-linecap="round"/><text x="2031.2" y="432.0" text-anchor="start">C</text>
<text x="2054.9" y="432.0" text-anchor="start">P</text><path d="M2065.1 427.7H2079.0M2075.4 424.8Q2076.6 427.0 2079.0 427.7Q2076.6 428.4 2075.4 430.6" fill="none" stroke="#0a0a0a" stroke-width="0.9" stroke-linecap="round"/><text x="2079.8" y="432.0" text-anchor="start">R</text>
<text x="2104.1" y="432.0" text-anchor="start">R</text><path d="M2116.2 427.7H2130.1M2126.5 424.8Q2127.7 427.0 2130.1 427.7Q2127.7 428.4 2126.5 430.6" fill="none" stroke="#0a0a0a" stroke-width="0.9" stroke-linecap="round"/><text x="2130.9" y="432.0" text-anchor="start">P</text>
<text x="2153.7" y="432.0" text-anchor="start">A</text><path d="M2166.8 427.7H2180.6M2177.0 424.8Q2178.2 427.0 2180.6 427.7Q2178.2 428.4 2177.0 430.6" fill="none" stroke="#0a0a0a" stroke-width="0.9" stroke-linecap="round"/><text x="2181.4" y="432.0" text-anchor="start">D</text>
<text x="2206.5" y="432.0" text-anchor="start">A</text><path d="M2219.6 427.7H2233.5M2229.9 424.8Q2231.1 427.0 2233.5 427.7Q2231.1 428.4 2229.9 430.6" fill="none" stroke="#0a0a0a" stroke-width="0.9" stroke-linecap="round"/><text x="2234.3" y="432.0" text-anchor="start">W</text>
<text x="2262.7" y="432.0" text-anchor="start">D</text><path d="M2275.8 427.7H2289.6M2286.0 424.8Q2287.2 427.0 2289.6 427.7Q2287.2 428.4 2286.0 430.6" fill="none" stroke="#0a0a0a" stroke-width="0.9" stroke-linecap="round"/><text x="2290.4" y="432.0" text-anchor="start">A</text>
<text x="2314.8" y="432.0" text-anchor="start">D</text><path d="M2327.9 427.7H2341.8M2338.2 424.8Q2339.4 427.0 2341.8 427.7Q2339.4 428.4 2338.2 430.6" fill="none" stroke="#0a0a0a" stroke-width="0.9" stroke-linecap="round"/><text x="2342.6" y="432.0" text-anchor="start">W</text>
<text x="2371.6" y="432.0" text-anchor="start">W</text><path d="M2388.4 427.7H2402.3M2398.7 424.8Q2399.9 427.0 2402.3 427.7Q2399.9 428.4 2398.7 430.6" fill="none" stroke="#0a0a0a" stroke-width="0.9" stroke-linecap="round"/><text x="2403.1" y="432.0" text-anchor="start">A</text>
<text x="2428.5" y="432.0" text-anchor="start">W</text><path d="M2445.3 427.7H2459.2M2455.6 424.8Q2456.8 427.0 2459.2 427.7Q2456.8 428.4 2455.6 430.6" fill="none" stroke="#0a0a0a" stroke-width="0.9" stroke-linecap="round"/><text x="2460.0" y="432.0" text-anchor="start">D</text>
<text x="2504.0" y="432.0" text-anchor="middle">Avg</text>
<text x="1770.9" y="461.8" text-anchor="start">ITQ</text>
<text x="1869.4" y="461.8" text-anchor="middle">25.88</text>
<text x="1921.2" y="461.8" text-anchor="middle">25.37</text>
<text x="1972.7" y="461.8" text-anchor="middle">14.83</text>
<text x="2023.4" y="461.8" text-anchor="middle">14.92</text>
<text x="2073.0" y="461.8" text-anchor="middle">26.81</text>
<text x="2122.2" y="461.8" text-anchor="middle">28.19</text>
<text x="2173.7" y="461.8" text-anchor="middle">29.55</text>
<text x="2228.4" y="461.8" text-anchor="middle">28.53</text>
<text x="2282.7" y="461.8" text-anchor="middle">26.83</text>
<text x="2336.7" y="461.8" text-anchor="middle">58.89</text>
<text x="2393.5" y="461.8" text-anchor="middle">25.09</text>
<text x="2450.4" y="461.8" text-anchor="middle">58.00</text>
<text x="2504.0" y="461.8" text-anchor="middle">30.24</text>
<text x="1770.9" y="480.8" text-anchor="start">DSH</text>
<text x="1869.4" y="480.8" text-anchor="middle">9.69</text>
<text x="1921.2" y="480.8" text-anchor="middle">9.67</text>
<text x="1972.7" y="480.8" text-anchor="middle">5.47</text>
<text x="2023.4" y="480.8" text-anchor="middle">5.28</text>
<text x="2073.0" y="480.8" text-anchor="middle">8.49</text>
<text x="2122.2" y="480.8" text-anchor="middle">8.26</text>
<text x="2173.7" y="480.8" text-anchor="middle">16.66</text>
<text x="2228.4" y="480.8" text-anchor="middle">15.09</text>
<text x="2282.7" y="480.8" text-anchor="middle">16.33</text>
<text x="2336.7" y="480.8" text-anchor="middle">41.07</text>
<text x="2393.5" y="480.8" text-anchor="middle">13.58</text>
<text x="2450.4" y="480.8" text-anchor="middle">39.24</text>
<text x="2504.0" y="480.8" text-anchor="middle">15.74</text>
<text x="1770.9" y="499.8" text-anchor="start">SGH</text>
<text x="1869.4" y="499.8" text-anchor="middle">22.93</text>
<text x="1921.2" y="499.8" text-anchor="middle">22.53</text>
<text x="1972.7" y="499.8" text-anchor="middle">13.62</text>
<text x="2023.4" y="499.8" text-anchor="middle">13.51</text>
<text x="2073.0" y="499.8" text-anchor="middle">24.51</text>
<text x="2122.2" y="499.8" text-anchor="middle">25.73</text>
<text x="2173.7" y="499.8" text-anchor="middle">24.98</text>
<text x="2228.4" y="499.8" text-anchor="middle">22.47</text>
<text x="2282.7" y="499.8" text-anchor="middle">22.17</text>
<text x="2336.7" y="499.8" text-anchor="middle">56.36</text>
<text x="2393.5" y="499.8" text-anchor="middle">20.52</text>
<text x="2450.4" y="499.8" text-anchor="middle">53.94</text>
<text x="2504.0" y="499.8" text-anchor="middle">26.94</text>
<text x="1770.9" y="518.8" text-anchor="start">OCH</text>
<text x="1869.4" y="518.8" text-anchor="middle">18.09</text>
<text x="1921.2" y="518.8" text-anchor="middle">17.54</text>
<text x="1972.7" y="518.8" text-anchor="middle">10.27</text>
<text x="2023.4" y="518.8" text-anchor="middle">10.05</text>
<text x="2073.0" y="518.8" text-anchor="middle">18.65</text>
<text x="2122.2" y="518.8" text-anchor="middle">20.15</text>
<text x="2173.7" y="518.8" text-anchor="middle">24.86</text>
<text x="2228.4" y="518.8" text-anchor="middle">22.49</text>
<text x="2282.7" y="518.8" text-anchor="middle">22.45</text>
<text x="2336.7" y="518.8" text-anchor="middle">53.64</text>
<text x="2393.5" y="518.8" text-anchor="middle">20.79</text>
<text x="2450.4" y="518.8" text-anchor="middle">51.03</text>
<text x="2504.0" y="518.8" text-anchor="middle">24.17</text>
<text x="1770.9" y="537.8" text-anchor="start">GraphBit</text>
<text x="1869.4" y="537.8" text-anchor="middle">18.18</text>
<text x="1921.2" y="537.8" text-anchor="middle">16.87</text>
<text x="1972.7" y="537.8" text-anchor="middle">11.51</text>
<text x="2023.4" y="537.8" text-anchor="middle">10.81</text>
<text x="2073.0" y="537.8" text-anchor="middle">18.91</text>
<text x="2122.2" y="537.8" text-anchor="middle">21.32</text>
<text x="2173.7" y="537.8" text-anchor="middle">24.48</text>
<text x="2228.4" y="537.8" text-anchor="middle">23.12</text>
<text x="2282.7" y="537.8" text-anchor="middle">22.09</text>
<text x="2336.7" y="537.8" text-anchor="middle">53.82</text>
<text x="2393.5" y="537.8" text-anchor="middle">21.34</text>
<text x="2450.4" y="537.8" text-anchor="middle">51.43</text>
<text x="2504.0" y="537.8" text-anchor="middle">24.49</text>
<text x="1770.9" y="556.8" text-anchor="start">GTH-g</text>
<text x="1869.4" y="556.8" text-anchor="middle">16.95</text>
<text x="1921.2" y="556.8" text-anchor="middle">17.54</text>
<text x="1972.7" y="556.8" text-anchor="middle">8.46</text>
<text x="2023.4" y="556.8" text-anchor="middle">11.88</text>
<text x="2073.0" y="556.8" text-anchor="middle">17.82</text>
<text x="2122.2" y="556.8" text-anchor="middle">18.57</text>
<text x="2173.7" y="556.8" text-anchor="middle">30.85</text>
<text x="2228.4" y="556.8" text-anchor="middle">18.44</text>
<text x="2282.7" y="556.8" text-anchor="middle">21.99</text>
<text x="2336.7" y="556.8" text-anchor="middle">48.48</text>
<text x="2393.5" y="556.8" text-anchor="middle">20.02</text>
<text x="2450.4" y="556.8" text-anchor="middle">50.23</text>
<text x="2504.0" y="556.8" text-anchor="middle">23.56</text>
<text x="1770.9" y="575.8" text-anchor="start">PWCF</text>
<text x="1869.4" y="575.8" text-anchor="middle">34.57</text>
<text x="1921.2" y="575.8" text-anchor="middle">28.95</text>
<text x="1972.7" y="575.8" text-anchor="middle">24.22</text>
<text x="2023.4" y="575.8" text-anchor="middle">18.42</text>
<text x="2073.0" y="575.8" text-anchor="middle">34.03</text>
<text x="2122.2" y="575.8" text-anchor="middle">34.44</text>
<text x="2173.7" y="575.8" text-anchor="middle">39.78</text>
<text x="2228.4" y="575.8" text-anchor="middle">34.86</text>
<text x="2282.7" y="575.8" text-anchor="middle">35.12</text>
<text x="2336.7" y="575.8" text-anchor="middle">72.91</text>
<text x="2393.5" y="575.8" text-anchor="middle">35.01</text>
<text x="2450.4" y="575.8" text-anchor="middle">67.94</text>
<text x="2504.0" y="575.8" text-anchor="middle">38.35</text>
<text x="1770.9" y="594.8" text-anchor="start">DAPH</text>
<text x="1869.4" y="594.8" text-anchor="middle">21.19</text>
<text x="1921.2" y="594.8" text-anchor="middle">22.28</text>
<text x="1972.7" y="594.8" text-anchor="middle">13.25</text>
<text x="2023.4" y="594.8" text-anchor="middle">12.26</text>
<text x="2073.0" y="594.8" text-anchor="middle">26.61</text>
<text x="2122.2" y="594.8" text-anchor="middle">24.26</text>
<text x="2173.7" y="594.8" text-anchor="middle">29.60</text>
<text x="2228.4" y="594.8" text-anchor="middle">22.94</text>
<text x="2282.7" y="594.8" text-anchor="middle">25.48</text>
<text x="2336.7" y="594.8" text-anchor="middle">60.67</text>
<text x="2393.5" y="594.8" text-anchor="middle">24.31</text>
<text x="2450.4" y="594.8" text-anchor="middle">45.42</text>
<text x="2504.0" y="594.8" text-anchor="middle">31.85</text>
<text x="1770.9" y="613.8" text-anchor="start">DHLing</text>
<text x="1869.4" y="613.8" text-anchor="middle">48.47</text>
<text x="1921.2" y="613.8" text-anchor="middle">30.81</text>
<text x="1972.7" y="613.8" text-anchor="middle">38.68</text>
<text x="2023.4" y="613.8" text-anchor="middle">45.24</text>
<text x="2073.0" y="613.8" text-anchor="middle">25.15</text>
<text x="2122.2" y="613.8" text-anchor="middle">43.30</text>
<text x="2173.7" y="613.8" text-anchor="middle">41.96</text>
<text x="2228.4" y="613.8" text-anchor="middle">45.10</text>
<text x="2282.7" y="613.8" text-anchor="middle">75.23</text>
<text x="2336.7" y="613.8" text-anchor="middle">42.89</text>
<text x="2393.5" y="613.8" text-anchor="middle">41.74</text>
<text x="2450.4" y="613.8" text-anchor="middle">79.91</text>
<text x="2504.0" y="613.8" text-anchor="middle">46.54</text>
<text x="1770.9" y="632.8" text-anchor="start">PEACE</text>
<text x="1869.4" y="632.8" text-anchor="middle">45.97</text>
<text x="1921.2" y="632.8" text-anchor="middle">42.68</text>
<text x="1972.7" y="632.8" text-anchor="middle">38.72</text>
<text x="2023.4" y="632.8" text-anchor="middle">28.36</text>
<text x="2073.0" y="632.8" text-anchor="middle">53.04</text>
<text x="2122.2" y="632.8" text-anchor="middle">54.39</text>
<text x="2173.7" y="632.8" text-anchor="middle">46.69</text>
<text x="2228.4" y="632.8" text-anchor="middle">48.89</text>
<text x="2282.7" y="632.8" text-anchor="middle">46.91</text>
<text x="2336.7" y="632.8" text-anchor="middle">83.18</text>
<text x="2393.5" y="632.8" text-anchor="middle">46.95</text>
<text x="2450.4" y="632.8" text-anchor="middle">78.82</text>
<text x="2504.0" y="632.8" text-anchor="middle">51.22</text>
<text x="1770.9" y="651.8" text-anchor="start">DANCE</text>
<text x="1869.4" y="651.8" text-anchor="middle">44.53</text>
<text x="1921.2" y="651.8" text-anchor="middle">43.54</text>
<text x="1972.7" y="651.8" text-anchor="middle">39.03</text>
<text x="2023.4" y="651.8" text-anchor="middle">28.87</text>
<text x="2073.0" y="651.8" text-anchor="middle">53.73</text>
<text x="2122.2" y="651.8" text-anchor="middle">55.14</text>
<text x="2173.7" y="651.8" text-anchor="middle">44.78</text>
<text x="2228.4" y="651.8" text-anchor="middle">47.66</text>
<text x="2282.7" y="651.8" text-anchor="middle">46.68</text>
<text x="2336.7" y="651.8" text-anchor="middle">84.75</text>
<text x="2393.5" y="651.8" text-anchor="middle">48.61</text>
<text x="2450.4" y="651.8" text-anchor="middle">78.39</text>
<text x="2504.0" y="651.8" text-anchor="middle">51.31</text>
<text x="1770.9" y="670.8" text-anchor="start">IDEA</text>
<text x="1869.4" y="670.8" text-anchor="middle">51.19</text>
<text x="1921.2" y="670.8" text-anchor="middle">49.64</text>
<text x="1972.7" y="670.8" text-anchor="middle">45.71</text>
<text x="2023.4" y="670.8" text-anchor="middle">32.77</text>
<text x="2073.0" y="670.8" text-anchor="middle">59.18</text>
<text x="2122.2" y="670.8" text-anchor="middle">61.84</text>
<text x="2173.7" y="670.8" text-anchor="middle">48.70</text>
<text x="2228.4" y="670.8" text-anchor="middle">54.43</text>
<text x="2282.7" y="670.8" text-anchor="middle">53.53</text>
<text x="2336.7" y="670.8" text-anchor="middle">88.69</text>
<text x="2393.5" y="670.8" text-anchor="middle">53.71</text>
<text x="2450.4" y="670.8" text-anchor="middle">84.97</text>
<text x="2504.0" y="670.8" text-anchor="middle">57.03</text>
<text x="1770.9" y="689.8" text-anchor="start">COUPLE</text>
<text x="1869.4" y="689.8" text-anchor="middle">54.14</text>
<text x="1921.2" y="689.8" text-anchor="middle">54.35</text>
<text x="1972.7" y="689.8" text-anchor="middle">49.24</text>
<text x="2023.4" y="689.8" text-anchor="middle">41.39</text>
<text x="2073.0" y="689.8" text-anchor="middle">63.94</text>
<text x="2122.2" y="689.8" text-anchor="middle">64.29</text>
<text x="2173.7" y="689.8" text-anchor="middle">50.27</text>
<text x="2228.4" y="689.8" text-anchor="middle">59.32</text>
<text x="2282.7" y="689.8" text-anchor="middle" text-decoration="underline">56.04</text>
<text x="2336.7" y="689.8" text-anchor="middle">88.90</text>
<text x="2393.5" y="689.8" text-anchor="middle">56.35</text>
<text x="2450.4" y="689.8" text-anchor="middle">85.26</text>
<text x="2504.0" y="689.8" text-anchor="middle">60.29</text>
<text x="1770.9" y="708.8" text-anchor="start">CPH</text>
<text x="1869.4" y="708.8" text-anchor="middle" text-decoration="underline">71.18</text>
<text x="1921.2" y="708.8" text-anchor="middle" text-decoration="underline">63.28</text>
<text x="1972.7" y="708.8" text-anchor="middle" text-decoration="underline">58.65</text>
<text x="2023.4" y="708.8" text-anchor="middle" font-weight="bold">42.84</text>
<text x="2073.0" y="708.8" text-anchor="middle" text-decoration="underline">71.27</text>
<text x="2122.2" y="708.8" text-anchor="middle" text-decoration="underline">74.77</text>
<text x="2173.7" y="708.8" text-anchor="middle" text-decoration="underline">68.37</text>
<text x="2228.4" y="708.8" text-anchor="middle" text-decoration="underline">60.61</text>
<text x="2282.7" y="708.8" text-anchor="middle">52.84</text>
<text x="2336.7" y="708.8" text-anchor="middle" text-decoration="underline">95.88</text>
<text x="2393.5" y="708.8" text-anchor="middle" text-decoration="underline">60.14</text>
<text x="2450.4" y="708.8" text-anchor="middle" text-decoration="underline">99.90</text>
<text x="2504.0" y="708.8" text-anchor="middle" text-decoration="underline">68.31</text>
<text x="1770.9" y="727.8" text-anchor="start" font-weight="bold">VPDS</text>
<text x="1869.4" y="727.8" text-anchor="middle" font-weight="bold">72.54</text>
<text x="1921.2" y="727.8" text-anchor="middle" font-weight="bold">63.36</text>
<text x="1972.7" y="727.8" text-anchor="middle" font-weight="bold">63.58</text>
<text x="2023.4" y="727.8" text-anchor="middle" text-decoration="underline">41.95</text>
<text x="2073.0" y="727.8" text-anchor="middle" font-weight="bold">75.17</text>
<text x="2122.2" y="727.8" text-anchor="middle" font-weight="bold">81.80</text>
<text x="2173.7" y="727.8" text-anchor="middle" font-weight="bold">87.22</text>
<text x="2228.4" y="727.8" text-anchor="middle" font-weight="bold">91.40</text>
<text x="2282.7" y="727.8" text-anchor="middle" font-weight="bold">65.88</text>
<text x="2336.7" y="727.8" text-anchor="middle" font-weight="bold">98.91</text>
<text x="2393.5" y="727.8" text-anchor="middle" font-weight="bold">64.88</text>
<text x="2450.4" y="727.8" text-anchor="middle" font-weight="bold">100</text>
<text x="2504.0" y="727.8" text-anchor="middle" font-weight="bold">75.56</text>
<path d="M1765 815H2529.5" stroke="#0a0a0a" stroke-width="1.7"/>
<path d="M1765 843.3H2529.5" stroke="#0a0a0a" stroke-width="1.3"/>
<path d="M1765 871.9H2529.5" stroke="#0a0a0a" stroke-width="1.3"/>
<path d="M1765 1143.8H2529.5" stroke="#0a0a0a" stroke-width="1.7"/>
<path d="M1847.7 820.3V839.5" stroke="#0a0a0a" stroke-width="1.25"/>
<path d="M1847.7 848.5V868" stroke="#0a0a0a" stroke-width="1.25"/>
<path d="M1847.7 878V1140" stroke="#0a0a0a" stroke-width="1.25"/>
<path d="M2075.9 820.3V839.5" stroke="#0a0a0a" stroke-width="1.25"/>
<path d="M2075.9 848.5V868" stroke="#0a0a0a" stroke-width="1.25"/>
<path d="M2075.9 878V1140" stroke="#0a0a0a" stroke-width="1.25"/>
<path d="M2302.3 820.3V839.5" stroke="#0a0a0a" stroke-width="1.25"/>
<path d="M2302.3 848.5V868" stroke="#0a0a0a" stroke-width="1.25"/>
<path d="M2302.3 878V1140" stroke="#0a0a0a" stroke-width="1.25"/>
<text x="1774.9" y="833.5" text-anchor="start">Task</text>
<text x="1774.9" y="862.2" text-anchor="start">Bit</text>
<text x="1942.9" y="833.5" text-anchor="start">P</text><path d="M1953.1 829.2H1967.0M1963.4 826.3Q1964.6 828.5 1967.0 829.2Q1964.6 829.9 1963.4 832.1" fill="none" stroke="#0a0a0a" stroke-width="0.9" stroke-linecap="round"/><text x="1967.8" y="833.5" text-anchor="start">R</text>
<text x="2168.5" y="833.5" text-anchor="start">A</text><path d="M2181.6 829.2H2195.4M2191.8 826.3Q2193.0 828.5 2195.4 829.2Q2193.0 829.9 2191.8 832.1" fill="none" stroke="#0a0a0a" stroke-width="0.9" stroke-linecap="round"/><text x="2196.2" y="833.5" text-anchor="start">D</text>
<text x="2361.1" y="833.5" text-anchor="start">MNIST</text><path d="M2414.8 829.2H2428.7M2425.1 826.3Q2426.3 828.5 2428.7 829.2Q2426.3 829.9 2425.1 832.1" fill="none" stroke="#0a0a0a" stroke-width="0.9" stroke-linecap="round"/><text x="2429.5" y="833.5" text-anchor="start">USPS</text>
<text x="1876.3" y="862.2" text-anchor="middle">16</text>
<text x="1932.5" y="862.2" text-anchor="middle">32</text>
<text x="1989.0" y="862.2" text-anchor="middle">64</text>
<text x="2046.2" y="862.2" text-anchor="middle">128</text>
<text x="2103.0" y="862.2" text-anchor="middle">16</text>
<text x="2159.9" y="862.2" text-anchor="middle">32</text>
<text x="2216.8" y="862.2" text-anchor="middle">64</text>
<text x="2272.9" y="862.2" text-anchor="middle">128</text>
<text x="2330.9" y="862.2" text-anchor="middle">16</text>
<text x="2387.4" y="862.2" text-anchor="middle">32</text>
<text x="2443.5" y="862.2" text-anchor="middle">64</text>
<text x="2500.7" y="862.2" text-anchor="middle">128</text>
<text x="1774.9" y="891.1" text-anchor="start">ITQ</text>
<text x="1876.3" y="891.1" text-anchor="middle">20.07</text>
<text x="1932.5" y="891.1" text-anchor="middle">29.64</text>
<text x="1989.0" y="891.1" text-anchor="middle">33.15</text>
<text x="2046.2" y="891.1" text-anchor="middle">34.81</text>
<text x="2103.0" y="891.1" text-anchor="middle">40.83</text>
<text x="2159.9" y="891.1" text-anchor="middle">49.27</text>
<text x="2216.8" y="891.1" text-anchor="middle">56.16</text>
<text x="2272.9" y="891.1" text-anchor="middle">59.41</text>
<text x="2330.9" y="891.1" text-anchor="middle">13.39</text>
<text x="2387.4" y="891.1" text-anchor="middle">22.58</text>
<text x="2443.5" y="891.1" text-anchor="middle">39.67</text>
<text x="2500.7" y="891.1" text-anchor="middle">40.16</text>
<text x="1774.9" y="909.8" text-anchor="start">DSH</text>
<text x="1876.3" y="909.8" text-anchor="middle">6.10</text>
<text x="1932.5" y="909.8" text-anchor="middle">11.44</text>
<text x="1989.0" y="909.8" text-anchor="middle">16.61</text>
<text x="2046.2" y="909.8" text-anchor="middle">14.45</text>
<text x="2103.0" y="909.8" text-anchor="middle">22.45</text>
<text x="2159.9" y="909.8" text-anchor="middle">33.38</text>
<text x="2216.8" y="909.8" text-anchor="middle">40.09</text>
<text x="2272.9" y="909.8" text-anchor="middle">46.31</text>
<text x="2330.9" y="909.8" text-anchor="middle">41.42</text>
<text x="2387.4" y="909.8" text-anchor="middle">45.30</text>
<text x="2443.5" y="909.8" text-anchor="middle">47.85</text>
<text x="2500.7" y="909.8" text-anchor="middle">50.76</text>
<text x="1774.9" y="928.5" text-anchor="start">SGH</text>
<text x="1876.3" y="928.5" text-anchor="middle">18.97</text>
<text x="1932.5" y="928.5" text-anchor="middle">26.18</text>
<text x="1989.0" y="928.5" text-anchor="middle">32.61</text>
<text x="2046.2" y="928.5" text-anchor="middle">34.97</text>
<text x="2103.0" y="928.5" text-anchor="middle">38.67</text>
<text x="2159.9" y="928.5" text-anchor="middle">45.59</text>
<text x="2216.8" y="928.5" text-anchor="middle">53.57</text>
<text x="2272.9" y="928.5" text-anchor="middle">57.37</text>
<text x="2330.9" y="928.5" text-anchor="middle">15.60</text>
<text x="2387.4" y="928.5" text-anchor="middle">30.78</text>
<text x="2443.5" y="928.5" text-anchor="middle">35.55</text>
<text x="2500.7" y="928.5" text-anchor="middle">41.78</text>
<text x="1774.9" y="947.2" text-anchor="start">OCH</text>
<text x="1876.3" y="947.2" text-anchor="middle">13.45</text>
<text x="1932.5" y="947.2" text-anchor="middle">21.14</text>
<text x="1989.0" y="947.2" text-anchor="middle">25.34</text>
<text x="2046.2" y="947.2" text-anchor="middle">28.02</text>
<text x="2103.0" y="947.2" text-anchor="middle">33.30</text>
<text x="2159.9" y="947.2" text-anchor="middle">41.65</text>
<text x="2216.8" y="947.2" text-anchor="middle">50.78</text>
<text x="2272.9" y="947.2" text-anchor="middle">53.74</text>
<text x="2330.9" y="947.2" text-anchor="middle">24.23</text>
<text x="2387.4" y="947.2" text-anchor="middle">32.90</text>
<text x="2443.5" y="947.2" text-anchor="middle">36.34</text>
<text x="2500.7" y="947.2" text-anchor="middle">44.36</text>
<text x="1774.9" y="965.9" text-anchor="start">GraphBit</text>
<text x="1876.3" y="965.9" text-anchor="middle">15.42</text>
<text x="1932.5" y="965.9" text-anchor="middle">21.80</text>
<text x="1989.0" y="965.9" text-anchor="middle">24.89</text>
<text x="2046.2" y="965.9" text-anchor="middle">28.97</text>
<text x="2103.0" y="965.9" text-anchor="middle">33.21</text>
<text x="2159.9" y="965.9" text-anchor="middle">41.17</text>
<text x="2216.8" y="965.9" text-anchor="middle">51.46</text>
<text x="2272.9" y="965.9" text-anchor="middle">53.48</text>
<text x="2330.9" y="965.9" text-anchor="middle">24.96</text>
<text x="2387.4" y="965.9" text-anchor="middle">32.54</text>
<text x="2443.5" y="965.9" text-anchor="middle">37.54</text>
<text x="2500.7" y="965.9" text-anchor="middle">44.82</text>
<text x="1774.9" y="984.6" text-anchor="start">GTH-g</text>
<text x="1876.3" y="984.6" text-anchor="middle">15.05</text>
<text x="1932.5" y="984.6" text-anchor="middle">21.20</text>
<text x="1989.0" y="984.6" text-anchor="middle">27.67</text>
<text x="2046.2" y="984.6" text-anchor="middle">28.40</text>
<text x="2103.0" y="984.6" text-anchor="middle">37.11</text>
<text x="2159.9" y="984.6" text-anchor="middle">45.69</text>
<text x="2216.8" y="984.6" text-anchor="middle">50.22</text>
<text x="2272.9" y="984.6" text-anchor="middle">55.81</text>
<text x="2330.9" y="984.6" text-anchor="middle">45.41</text>
<text x="2387.4" y="984.6" text-anchor="middle">39.72</text>
<text x="2443.5" y="984.6" text-anchor="middle">34.34</text>
<text x="2500.7" y="984.6" text-anchor="middle">34.73</text>
<text x="1774.9" y="1003.3" text-anchor="start">PWCF</text>
<text x="1876.3" y="1003.3" text-anchor="middle">24.80</text>
<text x="1932.5" y="1003.3" text-anchor="middle">34.03</text>
<text x="1989.0" y="1003.3" text-anchor="middle">37.98</text>
<text x="2046.2" y="1003.3" text-anchor="middle">39.14</text>
<text x="2103.0" y="1003.3" text-anchor="middle">49.94</text>
<text x="2159.9" y="1003.3" text-anchor="middle">53.05</text>
<text x="2216.8" y="1003.3" text-anchor="middle">59.08</text>
<text x="2272.9" y="1003.3" text-anchor="middle">62.35</text>
<text x="2330.9" y="1003.3" text-anchor="middle">50.21</text>
<text x="2387.4" y="1003.3" text-anchor="middle">49.41</text>
<text x="2443.5" y="1003.3" text-anchor="middle">60.06</text>
<text x="2500.7" y="1003.3" text-anchor="middle">64.00</text>
<text x="1774.9" y="1022.0" text-anchor="start">DAPH</text>
<text x="1876.3" y="1022.0" text-anchor="middle">20.77</text>
<text x="1932.5" y="1022.0" text-anchor="middle">29.01</text>
<text x="1989.0" y="1022.0" text-anchor="middle">33.35</text>
<text x="2046.2" y="1022.0" text-anchor="middle">34.92</text>
<text x="2103.0" y="1022.0" text-anchor="middle">46.74</text>
<text x="2159.9" y="1022.0" text-anchor="middle">49.43</text>
<text x="2216.8" y="1022.0" text-anchor="middle">58.63</text>
<text x="2272.9" y="1022.0" text-anchor="middle">60.41</text>
<text x="2330.9" y="1022.0" text-anchor="middle">47.53</text>
<text x="2387.4" y="1022.0" text-anchor="middle">54.86</text>
<text x="2443.5" y="1022.0" text-anchor="middle">60.15</text>
<text x="2500.7" y="1022.0" text-anchor="middle">60.39</text>
<text x="1774.9" y="1040.7" text-anchor="start">DHLing</text>
<text x="1876.3" y="1040.7" text-anchor="middle">27.81</text>
<text x="1932.5" y="1040.7" text-anchor="middle">36.05</text>
<text x="1989.0" y="1040.7" text-anchor="middle">40.91</text>
<text x="2046.2" y="1040.7" text-anchor="middle">44.07</text>
<text x="2103.0" y="1040.7" text-anchor="middle">52.08</text>
<text x="2159.9" y="1040.7" text-anchor="middle">56.43</text>
<text x="2216.8" y="1040.7" text-anchor="middle">60.17</text>
<text x="2272.9" y="1040.7" text-anchor="middle">63.44</text>
<text x="2330.9" y="1040.7" text-anchor="middle">51.25</text>
<text x="2387.4" y="1040.7" text-anchor="middle">50.48</text>
<text x="2443.5" y="1040.7" text-anchor="middle">63.13</text>
<text x="2500.7" y="1040.7" text-anchor="middle">67.02</text>
<text x="1774.9" y="1059.4" text-anchor="start">PEACE</text>
<text x="1876.3" y="1059.4" text-anchor="middle">28.99</text>
<text x="1932.5" y="1059.4" text-anchor="middle">37.93</text>
<text x="1989.0" y="1059.4" text-anchor="middle">42.97</text>
<text x="2046.2" y="1059.4" text-anchor="middle">47.29</text>
<text x="2103.0" y="1059.4" text-anchor="middle">55.43</text>
<text x="2159.9" y="1059.4" text-anchor="middle">57.89</text>
<text x="2216.8" y="1059.4" text-anchor="middle">61.21</text>
<text x="2272.9" y="1059.4" text-anchor="middle">64.14</text>
<text x="2330.9" y="1059.4" text-anchor="middle">52.77</text>
<text x="2387.4" y="1059.4" text-anchor="middle">56.25</text>
<text x="2443.5" y="1059.4" text-anchor="middle">65.27</text>
<text x="2500.7" y="1059.4" text-anchor="middle">69.99</text>
<text x="1774.9" y="1078.1" text-anchor="start">DANCE</text>
<text x="1876.3" y="1078.1" text-anchor="middle">31.37</text>
<text x="1932.5" y="1078.1" text-anchor="middle">37.64</text>
<text x="1989.0" y="1078.1" text-anchor="middle">44.13</text>
<text x="2046.2" y="1078.1" text-anchor="middle">48.93</text>
<text x="2103.0" y="1078.1" text-anchor="middle">54.42</text>
<text x="2159.9" y="1078.1" text-anchor="middle">58.02</text>
<text x="2216.8" y="1078.1" text-anchor="middle">63.09</text>
<text x="2272.9" y="1078.1" text-anchor="middle">67.91</text>
<text x="2330.9" y="1078.1" text-anchor="middle">52.65</text>
<text x="2387.4" y="1078.1" text-anchor="middle">55.98</text>
<text x="2443.5" y="1078.1" text-anchor="middle">66.81</text>
<text x="2500.7" y="1078.1" text-anchor="middle">70.47</text>
<text x="1774.9" y="1096.8" text-anchor="start">IDEA</text>
<text x="1876.3" y="1096.8" text-anchor="middle">34.88</text>
<text x="1932.5" y="1096.8" text-anchor="middle">44.83</text>
<text x="1989.0" y="1096.8" text-anchor="middle">49.91</text>
<text x="2046.2" y="1096.8" text-anchor="middle" text-decoration="underline">54.40</text>
<text x="2103.0" y="1096.8" text-anchor="middle" text-decoration="underline">61.25</text>
<text x="2159.9" y="1096.8" text-anchor="middle" text-decoration="underline">62.65</text>
<text x="2216.8" y="1096.8" text-anchor="middle" text-decoration="underline">67.06</text>
<text x="2272.9" y="1096.8" text-anchor="middle" text-decoration="underline">70.04</text>
<text x="2330.9" y="1096.8" text-anchor="middle">60.81</text>
<text x="2387.4" y="1096.8" text-anchor="middle">63.32</text>
<text x="2443.5" y="1096.8" text-anchor="middle">72.11</text>
<text x="2500.7" y="1096.8" text-anchor="middle" text-decoration="underline">76.73</text>
<text x="1774.9" y="1115.5" text-anchor="start">CPH</text>
<text x="1876.3" y="1115.5" text-anchor="middle" text-decoration="underline">44.99</text>
<text x="1932.5" y="1115.5" text-anchor="middle" text-decoration="underline">49.35</text>
<text x="1989.0" y="1115.5" text-anchor="middle" text-decoration="underline">52.45</text>
<text x="2046.2" y="1115.5" text-anchor="middle">51.40</text>
<text x="2103.0" y="1115.5" text-anchor="middle">60.60</text>
<text x="2159.9" y="1115.5" text-anchor="middle">62.11</text>
<text x="2216.8" y="1115.5" text-anchor="middle">65.76</text>
<text x="2272.9" y="1115.5" text-anchor="middle">68.20</text>
<text x="2330.9" y="1115.5" text-anchor="middle" text-decoration="underline">66.76</text>
<text x="2387.4" y="1115.5" text-anchor="middle" text-decoration="underline">71.34</text>
<text x="2443.5" y="1115.5" text-anchor="middle" text-decoration="underline">72.64</text>
<text x="2500.7" y="1115.5" text-anchor="middle">72.46</text>
<text x="1774.9" y="1134.2" text-anchor="start" font-weight="bold">VPDS</text>
<text x="1876.3" y="1134.2" text-anchor="middle" font-weight="bold">47.20</text>
<text x="1932.5" y="1134.2" text-anchor="middle" font-weight="bold">54.86</text>
<text x="1989.0" y="1134.2" text-anchor="middle" font-weight="bold">59.12</text>
<text x="2046.2" y="1134.2" text-anchor="middle" font-weight="bold">59.45</text>
<text x="2103.0" y="1134.2" text-anchor="middle" font-weight="bold">71.22</text>
<text x="2159.9" y="1134.2" text-anchor="middle" font-weight="bold">77.66</text>
<text x="2216.8" y="1134.2" text-anchor="middle" font-weight="bold">85.90</text>
<text x="2272.9" y="1134.2" text-anchor="middle" font-weight="bold">85.52</text>
<text x="2330.9" y="1134.2" text-anchor="middle" font-weight="bold">80.12</text>
<text x="2387.4" y="1134.2" text-anchor="middle" font-weight="bold">88.34</text>
<text x="2443.5" y="1134.2" text-anchor="middle" font-weight="bold">90.35</text>
<text x="2500.7" y="1134.2" text-anchor="middle" font-weight="bold">89.30</text>
</g></svg>
<svg width="2592" height="1679" style="left:0;top:0" viewBox="0 0 2592 1679"><g fill="#000">
<rect x="1810.4" y="1224" width="198.5" height="153.3" fill="#fff" stroke="#222" stroke-width="0.8"/>
<path d="M1811.9 1225.8C1812.2 1227.5 1812.8 1234.2 1813.5 1236.3C1814.1 1238.4 1814.4 1238.4 1815.8 1238.5C1817.2 1238.6 1819.1 1237.3 1821.7 1237.0C1824.3 1236.8 1826.5 1236.9 1831.4 1237.0C1836.3 1237.1 1844.4 1237.2 1850.9 1237.5C1857.4 1237.7 1864.0 1238.0 1870.5 1238.5C1877.0 1239.0 1885.1 1239.9 1890.0 1240.3C1894.9 1240.8 1896.5 1240.8 1899.7 1241.2C1903.0 1241.7 1906.2 1242.3 1909.5 1243.0C1912.8 1243.7 1916.0 1244.4 1919.3 1245.2C1922.5 1246.1 1925.8 1246.7 1929.0 1248.2C1932.3 1249.7 1935.5 1251.7 1938.8 1254.2C1942.0 1256.7 1945.6 1260.2 1948.5 1263.2C1951.5 1266.2 1954.1 1269.4 1956.3 1272.2C1958.6 1274.9 1960.3 1276.4 1962.2 1279.7C1964.2 1282.9 1966.1 1286.9 1968.1 1291.6C1970.0 1296.4 1972.0 1302.3 1973.9 1308.1C1975.9 1313.8 1977.8 1319.8 1979.8 1326.0C1981.7 1332.3 1984.0 1340.5 1985.6 1345.5C1987.3 1350.5 1988.2 1353.0 1989.5 1356.0C1990.8 1358.9 1991.8 1361.2 1993.4 1363.4C1995.1 1365.7 1997.0 1367.8 1999.3 1369.4C2001.6 1371.0 2005.8 1372.5 2007.1 1373.2" fill="none" stroke="#1f77b4" stroke-width="2.1" stroke-linejoin="round"/>
<path d="M1811.9 1225.8C1812.4 1226.7 1813.9 1229.8 1814.8 1231.0C1815.8 1232.3 1815.0 1233.0 1817.8 1233.3C1820.5 1233.6 1827.5 1232.9 1831.4 1233.0C1835.3 1233.0 1837.9 1233.2 1841.2 1233.6C1844.4 1233.9 1847.7 1234.6 1850.9 1235.1C1854.2 1235.6 1857.4 1236.0 1860.7 1236.6C1864.0 1237.1 1867.2 1237.8 1870.5 1238.2C1873.7 1238.7 1877.0 1238.9 1880.2 1239.3C1883.5 1239.6 1886.7 1239.9 1890.0 1240.3C1893.2 1240.7 1896.5 1240.6 1899.7 1241.5C1903.0 1242.5 1906.2 1244.1 1909.5 1246.0C1912.8 1247.9 1916.0 1250.1 1919.3 1252.7C1922.5 1255.3 1925.8 1258.2 1929.0 1261.7C1932.3 1265.2 1935.5 1268.7 1938.8 1273.7C1942.0 1278.7 1945.9 1285.9 1948.5 1291.6C1951.1 1297.4 1952.4 1301.6 1954.4 1308.1C1956.3 1314.6 1958.6 1324.3 1960.3 1330.5C1961.9 1336.8 1962.9 1341.5 1964.2 1345.5C1965.5 1349.5 1966.4 1351.5 1968.1 1354.5C1969.7 1357.4 1971.6 1361.1 1973.9 1363.4C1976.2 1365.8 1978.8 1367.3 1981.7 1368.7C1984.7 1370.0 1987.3 1370.9 1991.5 1371.7C1995.7 1372.5 2004.5 1373.2 2007.1 1373.5" fill="none" stroke="#ff7f0e" stroke-width="2.1" stroke-linejoin="round"/>
<path d="M1811.9 1225.8C1813.2 1226.2 1817.1 1227.2 1819.7 1228.0C1822.3 1228.8 1824.9 1230.4 1827.5 1230.6C1830.1 1230.8 1832.7 1229.7 1835.3 1229.4C1837.9 1229.0 1840.9 1228.7 1843.1 1228.5C1845.4 1228.3 1846.7 1227.8 1849.0 1228.2C1851.3 1228.6 1854.2 1230.3 1856.8 1231.0C1859.4 1231.8 1861.7 1232.3 1864.6 1232.5C1867.5 1232.7 1871.4 1231.9 1874.4 1232.2C1877.3 1232.5 1880.2 1233.9 1882.2 1234.3C1884.1 1234.8 1884.4 1234.2 1886.1 1234.8C1887.7 1235.3 1890.0 1237.0 1891.9 1237.8C1893.9 1238.5 1894.9 1238.1 1897.8 1239.3C1900.7 1240.4 1905.9 1242.5 1909.5 1244.5C1913.1 1246.5 1916.0 1248.5 1919.3 1251.2C1922.5 1254.0 1926.4 1258.0 1929.0 1261.0C1931.6 1263.9 1932.3 1266.4 1934.9 1269.2C1937.5 1271.9 1941.7 1274.4 1944.6 1277.4C1947.6 1280.4 1949.8 1283.0 1952.4 1287.1C1955.0 1291.3 1957.6 1296.4 1960.3 1302.1C1962.9 1307.8 1965.5 1316.1 1968.1 1321.5C1970.7 1327.0 1973.3 1330.6 1975.9 1335.0C1978.5 1339.4 1981.1 1343.4 1983.7 1347.7C1986.3 1352.1 1988.9 1357.7 1991.5 1361.2C1994.1 1364.7 1996.7 1366.8 1999.3 1368.7C2001.9 1370.5 2005.8 1371.8 2007.1 1372.4" fill="none" stroke="#2ca02c" stroke-width="2.1" stroke-linejoin="round"/>
<path d="M1811.9 1377.3v1.6" stroke="#222" stroke-width="0.4"/><text class="sans" x="1811.9" y="1384.1" font-size="5.6" text-anchor="middle">0.0</text>
<path d="M1831.4 1377.3v1.6" stroke="#222" stroke-width="0.4"/><text class="sans" x="1831.4" y="1384.1" font-size="5.6" text-anchor="middle">0.1</text>
<path d="M1850.9 1377.3v1.6" stroke="#222" stroke-width="0.4"/><text class="sans" x="1850.9" y="1384.1" font-size="5.6" text-anchor="middle">0.2</text>
<path d="M1870.5 1377.3v1.6" stroke="#222" stroke-width="0.4"/><text class="sans" x="1870.5" y="1384.1" font-size="5.6" text-anchor="middle">0.3</text>
<path d="M1890.0 1377.3v1.6" stroke="#222" stroke-width="0.4"/><text class="sans" x="1890.0" y="1384.1" font-size="5.6" text-anchor="middle">0.4</text>
<path d="M1909.5 1377.3v1.6" stroke="#222" stroke-width="0.4"/><text class="sans" x="1909.5" y="1384.1" font-size="5.6" text-anchor="middle">0.5</text>
<path d="M1929.0 1377.3v1.6" stroke="#222" stroke-width="0.4"/><text class="sans" x="1929.0" y="1384.1" font-size="5.6" text-anchor="middle">0.6</text>
<path d="M1948.5 1377.3v1.6" stroke="#222" stroke-width="0.4"/><text class="sans" x="1948.5" y="1384.1" font-size="5.6" text-anchor="middle">0.7</text>
<path d="M1968.1 1377.3v1.6" stroke="#222" stroke-width="0.4"/><text class="sans" x="1968.1" y="1384.1" font-size="5.6" text-anchor="middle">0.8</text>
<path d="M1987.6 1377.3v1.6" stroke="#222" stroke-width="0.4"/><text class="sans" x="1987.6" y="1384.1" font-size="5.6" text-anchor="middle">0.9</text>
<path d="M2007.1 1377.3v1.6" stroke="#222" stroke-width="0.4"/><text class="sans" x="2007.1" y="1384.1" font-size="5.6" text-anchor="middle">1.0</text>
<path d="M1810.4 1375.4h-1.6" stroke="#222" stroke-width="0.4"/><text class="sans" x="1807.8" y="1377.4" font-size="5.6" text-anchor="end">0.0</text>
<path d="M1810.4 1360.4h-1.6" stroke="#222" stroke-width="0.4"/><text class="sans" x="1807.8" y="1362.5" font-size="5.6" text-anchor="end">0.1</text>
<path d="M1810.4 1345.5h-1.6" stroke="#222" stroke-width="0.4"/><text class="sans" x="1807.8" y="1347.5" font-size="5.6" text-anchor="end">0.2</text>
<path d="M1810.4 1330.5h-1.6" stroke="#222" stroke-width="0.4"/><text class="sans" x="1807.8" y="1332.5" font-size="5.6" text-anchor="end">0.3</text>
<path d="M1810.4 1315.6h-1.6" stroke="#222" stroke-width="0.4"/><text class="sans" x="1807.8" y="1317.6" font-size="5.6" text-anchor="end">0.4</text>
<path d="M1810.4 1300.6h-1.6" stroke="#222" stroke-width="0.4"/><text class="sans" x="1807.8" y="1302.6" font-size="5.6" text-anchor="end">0.5</text>
<path d="M1810.4 1285.6h-1.6" stroke="#222" stroke-width="0.4"/><text class="sans" x="1807.8" y="1287.7" font-size="5.6" text-anchor="end">0.6</text>
<path d="M1810.4 1270.7h-1.6" stroke="#222" stroke-width="0.4"/><text class="sans" x="1807.8" y="1272.7" font-size="5.6" text-anchor="end">0.7</text>
<path d="M1810.4 1255.7h-1.6" stroke="#222" stroke-width="0.4"/><text class="sans" x="1807.8" y="1257.7" font-size="5.6" text-anchor="end">0.8</text>
<path d="M1810.4 1240.8h-1.6" stroke="#222" stroke-width="0.4"/><text class="sans" x="1807.8" y="1242.8" font-size="5.6" text-anchor="end">0.9</text>
<path d="M1810.4 1225.8h-1.6" stroke="#222" stroke-width="0.4"/><text class="sans" x="1807.8" y="1227.8" font-size="5.6" text-anchor="end">1.0</text>
<rect x="1961.5" y="1226.6" width="44.5" height="29.5" rx="1.5" fill="#fff" stroke="#ccc" stroke-width="0.5"/>
<path d="M1964.5 1232.2h13.5" stroke="#1f77b4" stroke-width="2"/><text class="sans" x="1983.0" y="1234.4" font-size="6.3">VPDS</text>
<path d="M1964.5 1241.5h13.5" stroke="#ff7f0e" stroke-width="2"/><text class="sans" x="1983.0" y="1243.7" font-size="6.3">PEACE</text>
<path d="M1964.5 1250.8h13.5" stroke="#2ca02c" stroke-width="2"/><text class="sans" x="1983.0" y="1253.0" font-size="6.3">CPH</text>
<text class="sans" x="1909.7" y="1221.8" font-size="5.6" text-anchor="middle">A→R</text>
<text class="sans" x="1909.7" y="1390.3" font-size="5.6" text-anchor="middle">Recall</text>
<text class="sans" x="1796" y="1300" font-size="5.6" text-anchor="middle" transform="rotate(-90 1796 1300)">Precision</text>
<rect x="2054.5" y="1224" width="206.1" height="155.0" fill="#fff" stroke="#222" stroke-width="0.8"/>
<path d="M2063.7 1230.0C2064.1 1230.4 2065.2 1231.6 2066.0 1232.2C2066.9 1232.8 2067.9 1233.0 2068.8 1233.5C2069.8 1234.1 2070.9 1234.6 2071.7 1235.5C2072.5 1236.5 2072.6 1237.2 2073.6 1239.3C2074.5 1241.4 2075.9 1244.9 2077.3 1248.2C2078.7 1251.5 2080.5 1255.6 2082.0 1259.3C2083.6 1263.0 2085.2 1266.5 2086.7 1270.4C2088.3 1274.3 2089.9 1279.1 2091.4 1282.7C2093.0 1286.2 2094.6 1288.8 2096.2 1291.5C2097.7 1294.3 2098.5 1295.5 2100.9 1299.3C2103.2 1303.1 2107.1 1309.8 2110.3 1314.2C2113.4 1318.6 2115.8 1321.6 2119.7 1325.5C2123.6 1329.5 2127.5 1333.5 2133.8 1337.8C2140.1 1342.0 2149.5 1347.6 2157.3 1351.1C2165.2 1354.6 2173.0 1356.7 2180.9 1358.9C2188.7 1361.0 2196.6 1362.5 2204.4 1364.0C2212.3 1365.4 2220.1 1366.5 2228.0 1367.5C2235.8 1368.6 2247.6 1369.8 2251.5 1370.2" fill="none" stroke="#1f77b4" stroke-width="2.1" stroke-linejoin="round"/>
<path d="M2063.7 1245.5C2064.1 1245.8 2065.2 1247.1 2066.0 1247.3C2066.9 1247.6 2067.9 1247.0 2068.8 1247.1C2069.8 1247.2 2070.7 1247.3 2071.7 1248.2C2072.6 1249.1 2073.6 1251.1 2074.5 1252.7C2075.4 1254.2 2076.1 1255.1 2077.3 1257.5C2078.6 1260.0 2080.5 1263.7 2082.0 1267.1C2083.6 1270.5 2085.2 1274.5 2086.7 1278.2C2088.3 1281.9 2089.9 1285.9 2091.4 1289.3C2093.0 1292.8 2094.6 1295.9 2096.2 1298.9C2097.7 1301.8 2098.5 1303.3 2100.9 1307.1C2103.2 1310.9 2107.1 1317.4 2110.3 1321.5C2113.4 1325.7 2115.8 1328.4 2119.7 1332.0C2123.6 1335.6 2127.5 1339.4 2133.8 1343.3C2140.1 1347.2 2149.5 1352.2 2157.3 1355.3C2165.2 1358.5 2173.0 1360.3 2180.9 1362.2C2188.7 1364.1 2196.6 1365.6 2204.4 1366.9C2212.3 1368.2 2220.1 1369.1 2228.0 1370.0C2235.8 1370.8 2247.6 1371.6 2251.5 1372.0" fill="none" stroke="#ff7f0e" stroke-width="2.1" stroke-linejoin="round"/>
<path d="M2063.7 1251.5C2064.0 1252.0 2064.7 1253.5 2065.6 1254.2C2066.4 1254.9 2067.8 1255.1 2068.8 1255.5C2069.9 1256.0 2071.2 1256.1 2072.1 1257.1C2073.1 1258.1 2073.6 1260.1 2074.5 1261.5C2075.4 1263.0 2076.1 1264.1 2077.3 1266.0C2078.6 1267.8 2080.5 1270.3 2082.0 1272.7C2083.6 1275.0 2085.2 1277.2 2086.7 1280.0C2088.3 1282.8 2089.9 1286.5 2091.4 1289.3C2093.0 1292.2 2094.6 1294.6 2096.2 1297.1C2097.7 1299.6 2098.5 1300.9 2100.9 1304.4C2103.2 1307.9 2107.1 1314.0 2110.3 1318.0C2113.4 1322.0 2115.8 1324.8 2119.7 1328.4C2123.6 1332.1 2127.5 1335.8 2133.8 1339.8C2140.1 1343.7 2149.5 1348.8 2157.3 1352.0C2165.2 1355.2 2173.0 1357.1 2180.9 1359.1C2188.7 1361.1 2196.6 1362.6 2204.4 1364.0C2212.3 1365.3 2220.1 1366.4 2228.0 1367.3C2235.8 1368.2 2247.6 1369.2 2251.5 1369.5" fill="none" stroke="#2ca02c" stroke-width="2.1" stroke-linejoin="round"/>
<path d="M2063.2 1379v1.6" stroke="#222" stroke-width="0.4"/><text class="sans" x="2063.2" y="1385.8" font-size="2.8" text-anchor="middle">0</text>
<path d="M2086.7 1379v1.6" stroke="#222" stroke-width="0.4"/><text class="sans" x="2086.7" y="1385.8" font-size="2.8" text-anchor="middle">50</text>
<path d="M2110.3 1379v1.6" stroke="#222" stroke-width="0.4"/><text class="sans" x="2110.3" y="1385.8" font-size="2.8" text-anchor="middle">100</text>
<path d="M2133.8 1379v1.6" stroke="#222" stroke-width="0.4"/><text class="sans" x="2133.8" y="1385.8" font-size="2.8" text-anchor="middle">150</text>
<path d="M2157.3 1379v1.6" stroke="#222" stroke-width="0.4"/><text class="sans" x="2157.3" y="1385.8" font-size="2.8" text-anchor="middle">200</text>
<path d="M2180.9 1379v1.6" stroke="#222" stroke-width="0.4"/><text class="sans" x="2180.9" y="1385.8" font-size="2.8" text-anchor="middle">250</text>
<path d="M2204.4 1379v1.6" stroke="#222" stroke-width="0.4"/><text class="sans" x="2204.4" y="1385.8" font-size="2.8" text-anchor="middle">300</text>
<path d="M2228.0 1379v1.6" stroke="#222" stroke-width="0.4"/><text class="sans" x="2228.0" y="1385.8" font-size="2.8" text-anchor="middle">350</text>
<path d="M2251.5 1379v1.6" stroke="#222" stroke-width="0.4"/><text class="sans" x="2251.5" y="1385.8" font-size="2.8" text-anchor="middle">400</text>
<path d="M2054.5 1368.2h-1.6" stroke="#222" stroke-width="0.4"/><text class="sans" x="2051.9" y="1369.2" font-size="2.8" text-anchor="end">0.1</text>
<path d="M2054.5 1346.0h-1.6" stroke="#222" stroke-width="0.4"/><text class="sans" x="2051.9" y="1347.0" font-size="2.8" text-anchor="end">0.2</text>
<path d="M2054.5 1323.8h-1.6" stroke="#222" stroke-width="0.4"/><text class="sans" x="2051.9" y="1324.8" font-size="2.8" text-anchor="end">0.3</text>
<path d="M2054.5 1301.5h-1.6" stroke="#222" stroke-width="0.4"/><text class="sans" x="2051.9" y="1302.5" font-size="2.8" text-anchor="end">0.4</text>
<path d="M2054.5 1279.3h-1.6" stroke="#222" stroke-width="0.4"/><text class="sans" x="2051.9" y="1280.3" font-size="2.8" text-anchor="end">0.5</text>
<path d="M2054.5 1257.1h-1.6" stroke="#222" stroke-width="0.4"/><text class="sans" x="2051.9" y="1258.1" font-size="2.8" text-anchor="end">0.6</text>
<path d="M2054.5 1234.9h-1.6" stroke="#222" stroke-width="0.4"/><text class="sans" x="2051.9" y="1235.9" font-size="2.8" text-anchor="end">0.7</text>
<rect x="2213.8" y="1226.6" width="44.5" height="29.5" rx="1.5" fill="#fff" stroke="#ccc" stroke-width="0.5"/>
<path d="M2216.8 1232.2h13.5" stroke="#1f77b4" stroke-width="2"/><text class="sans" x="2235.3" y="1234.4" font-size="6.3">VPDS</text>
<path d="M2216.8 1241.5h13.5" stroke="#ff7f0e" stroke-width="2"/><text class="sans" x="2235.3" y="1243.7" font-size="6.3">PEACE</text>
<path d="M2216.8 1250.8h13.5" stroke="#2ca02c" stroke-width="2"/><text class="sans" x="2235.3" y="1253.0" font-size="6.3">CPH</text>
<text class="sans" x="2157.6" y="1221.8" font-size="5.6" text-anchor="middle">A→R</text>
<text class="sans" x="2157.6" y="1390.3" font-size="5.6" text-anchor="middle">Top-N</text>
<text class="sans" x="2044.3" y="1301" font-size="5.6" text-anchor="middle" transform="rotate(-90 2044.3 1301)">Precision</text>
<rect x="2302.6" y="1224" width="206.4" height="155.0" fill="#fff" stroke="#222" stroke-width="0.8"/>
<path d="M2312.2 1372.2C2312.5 1369.6 2313.3 1361.7 2314.0 1356.3C2314.8 1350.8 2315.2 1347.1 2316.4 1339.5C2317.6 1332.0 2319.5 1318.9 2321.1 1310.8C2322.7 1302.7 2324.2 1296.6 2325.8 1290.9C2327.4 1285.2 2328.9 1280.6 2330.5 1276.6C2332.1 1272.6 2333.6 1269.7 2335.2 1267.0C2336.8 1264.4 2337.9 1263.0 2339.9 1260.6C2341.8 1258.2 2343.8 1255.2 2346.9 1252.7C2350.1 1250.1 2354.8 1247.2 2358.7 1245.5C2362.6 1243.8 2366.5 1243.2 2370.4 1242.3C2374.3 1241.4 2376.3 1240.8 2382.2 1239.9C2388.0 1239.0 2397.8 1237.6 2405.6 1236.7C2413.5 1235.8 2421.3 1235.3 2429.1 1234.6C2437.0 1234.0 2444.8 1233.5 2452.6 1233.1C2460.5 1232.6 2468.3 1232.2 2476.1 1231.8C2483.9 1231.4 2495.7 1230.7 2499.6 1230.5" fill="none" stroke="#1f77b4" stroke-width="2.1" stroke-linejoin="round"/>
<path d="M2312.2 1372.2C2312.5 1369.8 2313.3 1362.9 2314.0 1357.9C2314.8 1352.8 2315.2 1349.1 2316.4 1341.9C2317.6 1334.8 2319.5 1322.3 2321.1 1314.8C2322.7 1307.4 2324.2 1302.2 2325.8 1297.3C2327.4 1292.4 2328.9 1288.7 2330.5 1285.3C2332.1 1282.0 2333.6 1279.6 2335.2 1277.4C2336.8 1275.1 2337.9 1273.8 2339.9 1271.8C2341.8 1269.8 2343.8 1267.3 2346.9 1265.4C2350.1 1263.6 2354.8 1261.9 2358.7 1260.6C2362.6 1259.4 2366.5 1258.7 2370.4 1257.9C2374.3 1257.1 2376.3 1256.7 2382.2 1255.9C2388.0 1255.0 2397.8 1253.8 2405.6 1253.0C2413.5 1252.2 2421.3 1251.7 2429.1 1251.1C2437.0 1250.5 2444.8 1249.8 2452.6 1249.3C2460.5 1248.8 2468.3 1248.4 2476.1 1247.9C2483.9 1247.4 2495.7 1246.7 2499.6 1246.4" fill="none" stroke="#ff7f0e" stroke-width="2.1" stroke-linejoin="round"/>
<path d="M2312.2 1372.2C2312.5 1370.1 2313.3 1364.0 2314.0 1359.5C2314.8 1354.9 2315.2 1351.8 2316.4 1345.1C2317.6 1338.5 2319.5 1326.8 2321.1 1319.6C2322.7 1312.4 2324.2 1307.1 2325.8 1302.1C2327.4 1297.0 2328.9 1292.8 2330.5 1289.3C2332.1 1285.9 2333.6 1283.7 2335.2 1281.4C2336.8 1279.0 2337.9 1277.4 2339.9 1275.0C2341.8 1272.6 2343.8 1269.6 2346.9 1267.0C2350.1 1264.4 2354.8 1261.4 2358.7 1259.4C2362.6 1257.3 2366.5 1256.2 2370.4 1254.7C2374.3 1253.3 2376.3 1252.3 2382.2 1250.7C2388.0 1249.2 2397.8 1246.8 2405.6 1245.3C2413.5 1243.8 2421.3 1242.7 2429.1 1241.7C2437.0 1240.6 2444.8 1239.8 2452.6 1239.0C2460.5 1238.2 2468.3 1237.5 2476.1 1236.9C2483.9 1236.3 2495.7 1235.6 2499.6 1235.3" fill="none" stroke="#2ca02c" stroke-width="2.1" stroke-linejoin="round"/>
<path d="M2311.7 1379v1.6" stroke="#222" stroke-width="0.4"/><text class="sans" x="2311.7" y="1385.8" font-size="2.8" text-anchor="middle">0</text>
<path d="M2335.2 1379v1.6" stroke="#222" stroke-width="0.4"/><text class="sans" x="2335.2" y="1385.8" font-size="2.8" text-anchor="middle">50</text>
<path d="M2358.7 1379v1.6" stroke="#222" stroke-width="0.4"/><text class="sans" x="2358.7" y="1385.8" font-size="2.8" text-anchor="middle">100</text>
<path d="M2382.2 1379v1.6" stroke="#222" stroke-width="0.4"/><text class="sans" x="2382.2" y="1385.8" font-size="2.8" text-anchor="middle">150</text>
<path d="M2405.6 1379v1.6" stroke="#222" stroke-width="0.4"/><text class="sans" x="2405.6" y="1385.8" font-size="2.8" text-anchor="middle">200</text>
<path d="M2429.1 1379v1.6" stroke="#222" stroke-width="0.4"/><text class="sans" x="2429.1" y="1385.8" font-size="2.8" text-anchor="middle">250</text>
<path d="M2452.6 1379v1.6" stroke="#222" stroke-width="0.4"/><text class="sans" x="2452.6" y="1385.8" font-size="2.8" text-anchor="middle">300</text>
<path d="M2476.1 1379v1.6" stroke="#222" stroke-width="0.4"/><text class="sans" x="2476.1" y="1385.8" font-size="2.8" text-anchor="middle">350</text>
<path d="M2499.6 1379v1.6" stroke="#222" stroke-width="0.4"/><text class="sans" x="2499.6" y="1385.8" font-size="2.8" text-anchor="middle">400</text>
<path d="M2302.6 1375.4h-1.6" stroke="#222" stroke-width="0.4"/><text class="sans" x="2300.0" y="1376.4" font-size="2.8" text-anchor="end">0.0</text>
<path d="M2302.6 1343.5h-1.6" stroke="#222" stroke-width="0.4"/><text class="sans" x="2300.0" y="1344.5" font-size="2.8" text-anchor="end">0.2</text>
<path d="M2302.6 1311.6h-1.6" stroke="#222" stroke-width="0.4"/><text class="sans" x="2300.0" y="1312.6" font-size="2.8" text-anchor="end">0.4</text>
<path d="M2302.6 1279.8h-1.6" stroke="#222" stroke-width="0.4"/><text class="sans" x="2300.0" y="1280.8" font-size="2.8" text-anchor="end">0.6</text>
<path d="M2302.6 1247.9h-1.6" stroke="#222" stroke-width="0.4"/><text class="sans" x="2300.0" y="1248.9" font-size="2.8" text-anchor="end">0.8</text>
<rect x="2462.2" y="1346.2" width="44.5" height="29.5" rx="1.5" fill="#fff" stroke="#ccc" stroke-width="0.5"/>
<path d="M2465.2 1351.8h13.5" stroke="#1f77b4" stroke-width="2"/><text class="sans" x="2483.7" y="1354.0" font-size="6.3">VPDS</text>
<path d="M2465.2 1361.1h13.5" stroke="#ff7f0e" stroke-width="2"/><text class="sans" x="2483.7" y="1363.3" font-size="6.3">PEACE</text>
<path d="M2465.2 1370.4h13.5" stroke="#2ca02c" stroke-width="2"/><text class="sans" x="2483.7" y="1372.6" font-size="6.3">CPH</text>
<text class="sans" x="2405.8" y="1221.8" font-size="5.6" text-anchor="middle">A→R</text>
<text class="sans" x="2405.8" y="1390.3" font-size="5.6" text-anchor="middle">Top-N</text>
<text class="sans" x="2292.5" y="1301" font-size="5.6" text-anchor="middle" transform="rotate(-90 2292.5 1301)">Recall</text>
<rect x="1920.9" y="1471.6" width="197.7" height="147.4" fill="#fff" stroke="#222" stroke-width="0.8"/>
<path d="M1983.7 1480.9h0M1997.8 1479.7h0M1996.4 1481.8h0M1984.0 1480.0h0M1986.1 1483.5h0M1989.5 1482.4h0M1989.1 1486.8h0M1995.4 1484.8h0M1986.9 1481.7h0M1992.6 1480.7h0M1999.3 1480.3h0M1996.7 1480.5h0M1993.6 1486.0h0M1999.2 1479.9h0M1988.2 1483.9h0M1994.7 1482.4h0M1998.1 1481.1h0M1987.5 1486.6h0M1988.0 1485.4h0M2004.1 1482.2h0M1989.1 1476.6h0M1991.0 1479.9h0M1991.7 1482.2h0M1993.6 1481.3h0M1998.6 1479.0h0M1986.4 1485.5h0M1997.1 1483.5h0M1990.9 1481.8h0M1994.7 1482.8h0M1994.5 1480.5h0M1985.3 1482.6h0M1991.2 1483.0h0M1985.7 1479.0h0M1999.9 1482.0h0M1986.9 1484.0h0M1992.6 1479.5h0M2003.6 1482.2h0M1981.1 1484.1h0M1988.3 1478.3h0M1990.6 1481.2h0M1996.1 1484.6h0M1980.7 1485.4h0M1996.2 1480.9h0M1988.8 1479.8h0M1987.8 1483.6h0M1999.9 1480.3h0M1985.0 1483.3h0M1989.6 1486.3h0M1985.1 1486.3h0M1986.9 1479.6h0M1985.3 1486.0h0M1981.7 1484.2h0M1988.2 1487.0h0M1989.6 1482.3h0M1990.7 1485.8h0M1992.8 1478.8h0M1986.2 1485.9h0M1992.3 1479.9h0M1995.2 1478.9h0M1996.5 1480.5h0M1995.3 1485.0h0M1982.3 1484.3h0M1989.5 1481.0h0M1983.0 1481.9h0M1983.5 1480.8h0M1989.9 1482.0h0M1983.2 1484.9h0M1985.1 1478.7h0M1984.5 1483.8h0M1993.8 1483.4h0" stroke="#c9a227" stroke-width="2.0" stroke-linecap="round" fill="none"/>
<path d="M2020.2 1486.1h0M2015.8 1488.2h0M2020.7 1493.0h0M2017.0 1486.8h0M2024.9 1488.7h0M2025.3 1486.3h0M2016.1 1484.6h0M2026.3 1484.1h0M2022.1 1481.5h0M2023.3 1488.6h0M2027.0 1483.9h0M2013.8 1491.5h0M2024.0 1487.9h0M2023.5 1488.7h0M2016.7 1487.7h0M2017.9 1490.7h0M2026.8 1484.1h0M2019.4 1490.9h0M2016.6 1486.8h0M2016.4 1485.5h0M2023.9 1488.3h0M2018.1 1490.0h0M2025.0 1485.7h0M2025.9 1483.5h0M2019.6 1487.2h0M2018.4 1489.4h0M2016.5 1482.2h0M2024.6 1488.6h0M2016.1 1484.8h0M2015.2 1484.8h0M2019.6 1479.5h0M2019.8 1488.8h0M2025.6 1481.8h0M2020.7 1482.1h0M2018.4 1481.3h0M2023.4 1483.8h0M2021.5 1483.8h0M2020.5 1484.5h0M2018.3 1482.3h0M2021.2 1480.2h0M2014.7 1485.9h0M2018.7 1486.9h0M2020.4 1484.4h0M2022.6 1481.0h0M2026.0 1486.1h0M2028.7 1485.3h0M2021.5 1483.6h0M2025.7 1484.1h0M2018.0 1490.5h0M2016.5 1483.3h0M2019.1 1484.8h0M2018.3 1486.5h0M2014.2 1483.3h0M2022.9 1487.9h0M2015.9 1483.3h0M2019.0 1486.1h0M2023.2 1488.8h0M2024.3 1483.3h0M2019.4 1489.3h0M2019.9 1481.7h0M2020.3 1488.4h0M2022.5 1489.5h0M2025.0 1487.6h0M2023.8 1488.3h0M2023.3 1482.9h0M2020.1 1484.8h0M2022.1 1486.0h0M2018.6 1483.4h0M2025.7 1484.7h0M2023.5 1488.6h0" stroke="#5fc94a" stroke-width="2.0" stroke-linecap="round" fill="none"/>
<path d="M1954.6 1511.3h0M1951.8 1511.0h0M1957.0 1504.8h0M1947.9 1510.6h0M1949.7 1506.3h0M1952.1 1509.7h0M1954.5 1509.2h0M1945.0 1509.3h0M1947.3 1509.5h0M1949.9 1510.0h0M1955.6 1510.0h0M1948.9 1511.9h0M1954.1 1511.0h0M1953.5 1510.7h0M1961.3 1509.6h0M1959.8 1506.8h0M1947.0 1509.5h0M1952.5 1506.2h0M1953.9 1506.7h0M1957.2 1508.9h0M1948.1 1511.7h0M1952.4 1511.8h0M1953.5 1504.0h0M1954.5 1512.9h0M1951.5 1505.9h0M1955.5 1508.6h0M1953.3 1509.0h0M1959.2 1508.3h0M1955.4 1509.1h0M1943.6 1508.9h0M1954.2 1509.4h0M1957.2 1509.4h0M1953.6 1509.7h0M1956.8 1508.2h0M1950.0 1510.7h0M1953.4 1509.8h0M1959.1 1506.6h0M1954.3 1509.0h0M1948.8 1508.8h0M1949.8 1505.3h0M1952.6 1511.7h0M1954.5 1510.0h0M1959.7 1511.0h0M1953.4 1510.0h0M1954.2 1509.7h0M1951.4 1507.4h0M1953.8 1507.7h0M1953.3 1511.5h0M1950.9 1509.8h0M1947.5 1506.7h0M1954.5 1504.5h0M1956.6 1504.6h0M1953.4 1504.1h0M1955.8 1505.7h0M1956.5 1509.3h0M1952.6 1506.2h0M1954.9 1502.9h0M1956.2 1509.0h0M1958.9 1504.3h0M1954.7 1511.8h0M1954.0 1508.8h0M1957.1 1504.4h0M1951.7 1508.2h0M1947.3 1510.3h0M1956.9 1510.4h0M1949.8 1509.3h0M1955.0 1503.2h0M1959.6 1507.7h0M1956.7 1504.2h0M1955.1 1508.4h0" stroke="#c4c92e" stroke-width="2.0" stroke-linecap="round" fill="none"/>
<path d="M1987.9 1505.1h0M1995.6 1507.0h0M1991.1 1503.4h0M1995.1 1507.4h0M2001.6 1503.9h0M1991.7 1502.3h0M1998.3 1499.9h0M1995.7 1505.7h0M1997.1 1503.3h0M1992.2 1508.4h0M1990.1 1501.1h0M1999.9 1504.7h0M1996.5 1507.4h0M1998.5 1505.0h0M1988.8 1505.2h0M2001.5 1503.9h0M1992.8 1500.4h0M1996.1 1501.6h0M1992.7 1501.1h0M1996.3 1505.1h0M1989.2 1502.2h0M1992.3 1509.5h0M1994.5 1503.4h0M1991.3 1499.7h0M1992.2 1499.9h0M1992.6 1503.1h0M1997.3 1503.1h0M1988.9 1503.3h0M1992.8 1505.7h0M2000.6 1501.4h0M1993.4 1505.4h0M1989.0 1503.0h0M1997.1 1503.1h0M1994.2 1508.6h0M1997.7 1508.2h0M1995.1 1505.5h0M1998.2 1500.0h0M1991.0 1506.1h0M1997.8 1503.0h0M1989.0 1501.1h0M1996.8 1504.8h0M1992.7 1503.3h0M1990.0 1502.1h0M1994.7 1503.5h0M1998.6 1499.8h0M1998.3 1501.0h0M1995.6 1508.9h0M1993.0 1504.7h0M1995.8 1505.6h0M1993.4 1503.6h0M1994.3 1499.6h0M1993.2 1499.3h0M1989.6 1500.6h0M1996.0 1505.1h0M1991.5 1506.9h0M1994.8 1503.3h0M1990.9 1503.7h0M1991.5 1502.8h0M1987.4 1504.6h0M2000.6 1506.6h0M1994.3 1505.9h0M1991.0 1508.2h0M1992.2 1506.3h0M1992.7 1499.9h0M1993.7 1507.2h0M1993.7 1504.4h0M1995.3 1508.8h0M1994.6 1505.8h0M2000.0 1504.1h0M1996.4 1504.0h0" stroke="#4db34d" stroke-width="2.0" stroke-linecap="round" fill="none"/>
<path d="M2035.5 1507.3h0M2035.3 1508.0h0M2031.7 1511.5h0M2038.8 1505.5h0M2031.5 1512.1h0M2036.9 1512.0h0M2034.2 1508.5h0M2034.6 1504.8h0M2039.1 1501.9h0M2036.3 1507.0h0M2030.7 1514.3h0M2038.4 1503.4h0M2033.1 1504.1h0M2034.7 1504.8h0M2038.5 1504.9h0M2036.6 1510.2h0M2033.7 1507.6h0M2034.1 1509.0h0M2039.7 1500.7h0M2042.7 1502.0h0M2033.2 1508.5h0M2043.2 1497.2h0M2038.9 1507.8h0M2034.0 1505.6h0M2040.1 1506.8h0M2034.4 1507.2h0M2031.6 1508.3h0M2030.2 1512.5h0M2037.8 1509.7h0M2028.6 1511.9h0M2026.8 1515.6h0M2034.4 1505.0h0M2025.6 1511.1h0M2034.5 1508.4h0M2035.3 1508.1h0M2030.4 1513.1h0M2033.3 1512.2h0M2041.5 1500.3h0M2035.6 1509.3h0M2040.5 1504.9h0M2030.9 1510.8h0M2035.7 1511.2h0M2039.3 1506.6h0M2032.3 1509.3h0M2037.4 1506.4h0M2042.5 1506.2h0M2036.9 1511.3h0M2037.5 1511.0h0M2032.4 1513.0h0M2037.5 1511.2h0M2037.1 1505.0h0M2042.4 1503.2h0M2036.6 1506.6h0M2025.2 1516.4h0M2033.3 1508.5h0M2029.7 1509.6h0M2037.2 1505.6h0M2034.2 1507.4h0M2030.2 1513.0h0M2034.7 1507.1h0M2036.0 1505.8h0M2037.2 1510.1h0M2033.9 1505.0h0M2033.3 1509.8h0M2037.6 1511.4h0M2039.8 1505.5h0M2031.3 1513.0h0M2037.3 1507.5h0M2032.0 1507.1h0M2037.1 1505.3h0" stroke="#4aa832" stroke-width="2.0" stroke-linecap="round" fill="none"/>
<path d="M2058.7 1517.0h0M2057.8 1516.0h0M2065.7 1510.2h0M2068.9 1514.5h0M2068.0 1512.2h0M2058.1 1513.5h0M2065.0 1512.2h0M2058.3 1513.9h0M2074.7 1512.5h0M2059.1 1513.8h0M2061.6 1517.2h0M2072.9 1513.3h0M2066.2 1513.6h0M2070.5 1516.8h0M2069.6 1511.0h0M2060.8 1517.5h0M2060.8 1515.3h0M2055.9 1517.6h0M2063.0 1515.6h0M2070.8 1514.6h0M2071.7 1511.9h0M2065.3 1517.8h0M2062.2 1516.4h0M2069.4 1511.7h0M2069.0 1512.0h0M2061.0 1515.7h0M2070.4 1511.5h0M2070.6 1510.9h0M2064.7 1518.6h0M2057.5 1518.1h0M2068.0 1514.8h0M2064.5 1513.6h0M2067.7 1514.8h0M2058.8 1518.0h0M2070.3 1516.0h0M2061.3 1515.0h0M2073.1 1512.9h0M2064.9 1512.3h0M2060.5 1513.9h0M2068.7 1512.2h0M2066.9 1513.0h0M2057.8 1519.6h0M2059.6 1513.3h0M2074.5 1511.2h0M2068.8 1510.3h0M2068.1 1510.3h0M2063.5 1512.1h0M2058.0 1514.4h0M2065.1 1514.6h0M2064.9 1508.5h0M2059.0 1516.1h0M2069.4 1517.5h0M2067.2 1518.1h0M2060.5 1518.7h0M2065.2 1514.8h0M2057.6 1515.4h0M2061.2 1516.9h0M2061.1 1518.5h0M2058.4 1518.3h0M2066.0 1518.5h0M2065.9 1514.4h0M2070.5 1514.5h0M2066.3 1511.3h0M2073.7 1512.1h0M2058.1 1514.1h0M2062.0 1511.5h0M2074.2 1511.8h0M2066.0 1515.1h0M2069.9 1514.4h0M2065.3 1514.6h0" stroke="#3cb878" stroke-width="2.0" stroke-linecap="round" fill="none"/>
<path d="M2011.7 1521.9h0M2017.3 1522.3h0M2012.5 1515.5h0M2007.6 1519.0h0M2007.4 1518.9h0M2017.4 1514.2h0M2018.6 1513.7h0M2008.5 1519.7h0M2018.2 1514.5h0M2015.0 1520.2h0M2010.9 1513.2h0M2006.9 1516.5h0M2018.2 1519.9h0M2016.8 1520.5h0M2016.3 1520.2h0M2018.9 1517.7h0M2015.5 1515.1h0M2016.6 1518.8h0M2018.8 1519.0h0M2007.0 1518.2h0M2018.5 1515.5h0M2015.8 1520.5h0M2015.0 1515.5h0M2014.2 1516.6h0M2014.7 1521.8h0M2018.8 1520.1h0M2010.6 1522.2h0M2011.4 1521.7h0M2012.0 1517.4h0M2020.8 1514.5h0M2008.9 1517.3h0M2015.6 1519.6h0M2019.0 1519.5h0M2013.2 1518.8h0M2016.8 1516.5h0M2009.5 1522.0h0M2012.0 1519.3h0M2011.9 1517.9h0M2010.8 1521.5h0M2014.5 1516.9h0M2012.9 1520.0h0M2009.7 1517.5h0M2016.6 1514.3h0M2010.5 1514.1h0M2011.7 1518.3h0M2016.3 1515.7h0M2009.2 1515.1h0M2005.0 1519.8h0M2018.6 1520.5h0M2015.1 1518.0h0M2011.8 1523.7h0M2011.2 1518.0h0M2011.9 1514.1h0M2016.7 1514.1h0M2015.7 1520.7h0M2012.2 1516.5h0M2009.1 1521.1h0M2017.6 1516.4h0M2015.8 1517.5h0M2012.9 1514.1h0M2015.6 1520.4h0M2010.9 1518.9h0M2008.4 1519.1h0M2013.4 1518.2h0M2011.9 1515.6h0M2009.3 1515.8h0M2014.3 1514.9h0M2011.7 1516.4h0M2018.4 1518.6h0M2012.5 1517.4h0" stroke="#d22f4d" stroke-width="2.0" stroke-linecap="round" fill="none"/>
<path d="M1996.4 1525.2h0M1987.5 1525.8h0M1991.8 1531.8h0M1988.6 1526.8h0M1996.2 1525.4h0M1992.6 1520.6h0M1990.6 1528.2h0M1992.0 1530.5h0M1992.9 1525.8h0M1993.0 1521.1h0M1994.0 1523.1h0M1983.2 1523.6h0M1988.2 1529.7h0M1991.9 1527.0h0M1994.2 1524.5h0M1988.4 1520.7h0M1985.1 1527.7h0M1993.4 1521.0h0M1988.9 1525.9h0M1988.6 1525.9h0M1989.1 1528.1h0M1985.0 1524.1h0M1990.9 1531.7h0M1982.4 1522.6h0M1980.2 1526.1h0M1987.9 1524.3h0M1982.5 1526.6h0M1988.3 1522.1h0M1980.5 1524.8h0M1982.4 1523.8h0M1987.0 1528.4h0M1983.0 1522.6h0M1982.6 1527.2h0M1998.7 1531.2h0M1982.4 1525.6h0M1988.2 1527.8h0M1990.2 1524.8h0M1985.2 1518.8h0M1989.1 1528.6h0M1984.9 1526.6h0M1985.8 1525.8h0M1987.5 1521.4h0M1989.7 1519.1h0M1994.3 1526.8h0M1985.1 1530.2h0M1983.6 1522.3h0M1995.2 1523.2h0M1987.6 1523.0h0M1987.4 1524.8h0M1989.4 1529.9h0M1987.3 1520.0h0M1993.7 1524.1h0M1993.1 1525.4h0M1990.5 1525.2h0M1985.0 1521.9h0M1990.4 1524.0h0M1983.1 1522.0h0M1991.2 1519.9h0M1980.9 1528.4h0M1988.8 1522.2h0M1981.6 1524.6h0M1993.5 1521.5h0M1982.7 1525.8h0M1987.3 1525.2h0M1985.0 1531.4h0M1991.8 1531.6h0M1986.2 1531.2h0M1985.4 1521.5h0M1984.1 1526.1h0M1988.6 1525.6h0" stroke="#5b3fa8" stroke-width="2.0" stroke-linecap="round" fill="none"/>
<path d="M1958.4 1534.9h0M1960.9 1532.7h0M1953.2 1535.5h0M1960.4 1535.5h0M1960.6 1536.6h0M1947.6 1532.6h0M1959.5 1531.7h0M1964.6 1535.4h0M1960.1 1533.4h0M1954.6 1528.8h0M1960.6 1533.6h0M1964.2 1531.8h0M1962.8 1533.6h0M1960.7 1534.8h0M1951.0 1532.4h0M1950.9 1532.1h0M1955.5 1535.3h0M1955.7 1537.2h0M1948.0 1530.7h0M1950.4 1531.4h0M1958.4 1533.3h0M1963.6 1534.2h0M1955.9 1534.9h0M1957.4 1536.9h0M1957.7 1533.4h0M1951.8 1530.9h0M1964.6 1535.4h0M1955.1 1531.9h0M1960.0 1530.6h0M1955.8 1533.5h0M1957.9 1535.5h0M1961.3 1531.9h0M1961.7 1537.0h0M1946.4 1531.4h0M1960.8 1533.2h0M1961.4 1529.9h0M1959.7 1534.2h0M1965.9 1531.6h0M1952.4 1534.0h0M1956.3 1535.7h0M1954.7 1535.1h0M1949.2 1529.3h0M1964.8 1535.0h0M1957.9 1536.6h0M1951.3 1530.0h0M1952.3 1532.8h0M1956.7 1533.2h0M1960.9 1532.8h0M1953.5 1536.1h0M1959.6 1537.0h0M1961.6 1534.5h0M1952.6 1530.2h0M1952.8 1535.3h0M1947.8 1531.5h0M1961.6 1532.8h0M1962.8 1532.4h0M1958.4 1529.5h0M1951.6 1532.9h0M1954.2 1530.2h0M1956.7 1532.9h0M1951.6 1534.0h0M1962.9 1531.9h0M1959.3 1533.2h0M1953.2 1530.5h0M1949.9 1529.3h0M1958.4 1531.3h0M1955.7 1530.4h0M1950.3 1535.6h0M1948.7 1532.0h0M1955.4 1533.5h0" stroke="#2e7fd0" stroke-width="2.0" stroke-linecap="round" fill="none"/>
<path d="M2034.1 1528.4h0M2033.8 1526.0h0M2034.6 1531.7h0M2034.7 1537.1h0M2050.2 1537.7h0M2041.7 1525.5h0M2038.9 1530.6h0M2041.0 1527.0h0M2045.8 1524.8h0M2039.1 1533.3h0M2043.8 1538.4h0M2041.7 1531.8h0M2043.9 1525.4h0M2043.1 1538.9h0M2036.7 1529.6h0M2033.2 1529.7h0M2035.5 1528.1h0M2036.9 1527.9h0M2037.7 1525.1h0M2044.9 1535.8h0M2037.4 1526.8h0M2038.8 1535.8h0M2038.7 1526.9h0M2049.9 1532.6h0M2044.9 1529.4h0M2030.3 1529.9h0M2037.0 1525.8h0M2038.2 1535.9h0M2040.8 1530.0h0M2044.4 1534.2h0M2031.5 1531.7h0M2042.1 1536.4h0M2045.8 1539.5h0M2039.5 1528.1h0M2049.0 1528.0h0M2032.6 1526.1h0M2044.4 1534.3h0M2041.9 1531.7h0M2041.4 1537.4h0M2032.9 1529.1h0M2034.6 1528.7h0M2033.6 1528.5h0M2043.0 1529.7h0M2052.2 1523.0h0M2048.8 1527.6h0M2039.7 1527.0h0M2042.7 1524.4h0M2040.9 1536.4h0M2037.3 1532.4h0M2045.9 1531.2h0M2040.9 1526.7h0M2039.6 1528.0h0M2043.1 1535.0h0M2031.6 1535.3h0M2046.3 1529.7h0M2046.4 1534.3h0" stroke="#2d3fa0" stroke-width="2.0" stroke-linecap="round" fill="none"/>
<path d="M2018.1 1542.9h0M2022.0 1536.6h0M2024.8 1540.9h0M2026.3 1542.9h0M2022.1 1541.2h0M2026.8 1541.1h0M2019.4 1538.3h0M2022.2 1544.2h0M2026.0 1537.6h0M2015.4 1539.7h0M2019.5 1538.0h0M2017.8 1542.9h0M2022.1 1539.0h0M2019.1 1540.3h0M2028.2 1538.8h0M2029.3 1537.2h0M2016.3 1535.0h0M2017.7 1539.7h0M2017.2 1537.2h0M2020.2 1535.3h0M2031.3 1538.7h0M2024.6 1539.0h0M2025.7 1534.9h0M2025.8 1540.2h0M2027.3 1542.7h0M2026.1 1542.6h0M2026.2 1534.6h0M2022.0 1533.7h0M2018.9 1540.2h0M2027.2 1536.7h0M2021.8 1537.7h0M2016.6 1536.2h0M2023.0 1542.0h0M2016.0 1541.5h0M2022.2 1541.8h0M2025.5 1541.6h0M2018.7 1534.0h0M2019.2 1536.7h0M2020.3 1537.9h0M2019.9 1538.7h0M2026.3 1534.7h0M2023.4 1543.3h0M2021.4 1542.4h0M2017.6 1534.6h0M2017.3 1537.6h0M2023.1 1541.3h0M2027.0 1542.5h0M2017.9 1538.9h0M2028.3 1546.4h0M2027.3 1542.7h0M2025.4 1543.6h0M2024.8 1543.5h0M2029.1 1538.6h0M2021.8 1537.2h0M2022.3 1536.8h0M2030.9 1538.3h0M2029.2 1540.6h0M2024.4 1533.8h0M2017.6 1534.3h0M2025.2 1539.5h0M2021.0 1532.9h0M2028.2 1541.7h0M2019.7 1539.2h0M2024.3 1533.7h0M2018.3 1538.9h0M2020.6 1542.1h0M2023.8 1537.0h0M2024.8 1535.8h0M2024.5 1538.2h0M2019.2 1541.3h0" stroke="#2d3fa0" stroke-width="2.0" stroke-linecap="round" fill="none"/>
<path d="M2106.6 1530.4h0M2100.2 1535.4h0M2103.8 1536.0h0M2101.5 1536.0h0M2097.7 1526.6h0M2094.8 1529.1h0M2091.9 1528.2h0M2099.5 1534.8h0M2095.2 1532.7h0M2102.9 1529.6h0M2099.8 1532.8h0M2106.8 1536.2h0M2097.4 1531.6h0M2104.0 1530.8h0M2098.3 1530.9h0M2098.9 1531.8h0M2097.8 1529.4h0M2108.9 1532.8h0M2102.1 1529.5h0M2093.7 1531.3h0M2099.7 1527.5h0M2103.7 1534.4h0M2105.4 1533.3h0M2092.3 1530.8h0M2101.8 1532.0h0M2101.0 1528.8h0M2096.0 1530.0h0M2110.2 1535.2h0M2103.9 1533.4h0M2092.9 1529.2h0M2105.7 1536.1h0M2105.8 1535.8h0M2098.8 1533.4h0M2098.8 1533.7h0M2106.9 1536.4h0M2105.3 1532.7h0M2098.0 1531.4h0M2093.6 1527.8h0M2091.5 1529.1h0M2101.5 1535.9h0M2104.3 1527.9h0M2095.4 1527.6h0M2101.6 1534.0h0M2100.0 1531.2h0M2108.6 1533.5h0M2093.8 1530.6h0M2091.8 1529.4h0M2103.7 1528.6h0M2102.5 1534.8h0M2102.8 1536.4h0M2105.6 1529.0h0M2104.5 1532.8h0M2100.4 1529.1h0M2104.4 1535.5h0M2103.4 1529.0h0M2105.5 1532.8h0M2102.8 1532.5h0M2099.1 1528.1h0M2106.9 1530.6h0M2092.9 1532.3h0M2105.4 1536.1h0M2096.0 1533.3h0M2101.8 1528.6h0M2109.5 1535.4h0M2102.0 1529.7h0M2105.7 1535.0h0M2096.5 1530.8h0M2097.2 1531.3h0M2098.8 1532.6h0M2102.8 1531.9h0" stroke="#3fb85a" stroke-width="2.0" stroke-linecap="round" fill="none"/>
<path d="M1992.7 1543.6h0M1993.3 1542.6h0M1999.2 1542.8h0M1996.6 1540.8h0M1999.1 1541.6h0M1995.0 1548.8h0M1990.4 1537.1h0M1996.7 1546.7h0M1988.2 1543.3h0M1992.6 1538.6h0M1991.6 1542.6h0M1994.4 1545.2h0M1993.8 1542.8h0M2000.7 1541.6h0M1987.8 1544.1h0M1989.5 1545.4h0M1992.6 1539.1h0M1990.9 1546.8h0M1986.4 1543.3h0M1998.8 1545.6h0M1997.9 1537.1h0M1998.1 1542.2h0M1999.9 1547.1h0M1993.8 1544.5h0M1995.8 1545.3h0M1994.5 1541.8h0M1988.6 1541.8h0M1997.2 1537.0h0M1994.2 1543.5h0M2001.6 1543.5h0M1994.7 1536.7h0M1993.2 1539.5h0M1992.6 1540.7h0M1988.8 1543.5h0M1997.6 1539.0h0M1998.2 1538.9h0M1991.2 1543.3h0M1996.3 1542.1h0M1993.0 1542.9h0M1992.8 1545.0h0M1987.3 1539.6h0M1989.9 1546.1h0M1992.0 1543.7h0M1986.7 1540.0h0M1999.4 1537.7h0M1986.7 1542.5h0M1992.2 1544.1h0M1993.8 1545.5h0M1992.2 1538.0h0M1989.9 1540.4h0M1999.1 1546.4h0M1993.4 1544.5h0M2002.3 1543.6h0M1999.9 1534.8h0M1993.5 1545.4h0M1998.7 1543.2h0M1989.0 1544.0h0M1996.9 1543.9h0M1993.4 1547.1h0M2001.8 1538.7h0M1998.9 1544.7h0M1991.1 1541.5h0M1999.7 1544.1h0M1990.5 1545.4h0M1993.6 1538.9h0M1995.5 1539.6h0M1988.0 1536.4h0M1990.1 1547.8h0M1992.7 1543.7h0M1987.5 1539.4h0" stroke="#8a4bb5" stroke-width="2.0" stroke-linecap="round" fill="none"/>
<path d="M2066.7 1540.0h0M2056.4 1545.7h0M2070.1 1542.3h0M2062.2 1542.2h0M2063.5 1543.2h0M2060.9 1542.2h0M2060.7 1540.7h0M2067.5 1543.6h0M2065.4 1538.4h0M2059.9 1540.8h0M2058.1 1546.5h0M2059.5 1538.6h0M2054.0 1543.0h0M2053.1 1542.0h0M2056.7 1545.5h0M2055.9 1542.2h0M2062.8 1543.5h0M2058.8 1545.2h0M2068.6 1543.5h0M2062.3 1544.1h0M2059.5 1537.2h0M2055.9 1546.6h0M2055.7 1538.4h0M2064.0 1537.7h0M2059.1 1545.3h0M2067.1 1539.2h0M2068.7 1539.9h0M2064.7 1537.9h0M2064.1 1539.3h0M2056.6 1541.6h0M2056.5 1542.7h0M2065.2 1543.9h0M2062.7 1537.0h0M2061.9 1539.1h0M2064.3 1539.8h0M2058.8 1541.6h0M2062.8 1536.8h0M2061.6 1541.1h0M2055.7 1538.5h0M2051.7 1540.9h0M2065.0 1544.7h0M2062.2 1544.8h0M2057.5 1546.4h0M2061.2 1538.7h0M2063.7 1540.7h0M2068.9 1540.9h0M2067.2 1544.5h0M2058.7 1539.3h0M2063.5 1541.2h0M2054.1 1543.6h0M2056.8 1540.4h0M2052.5 1544.7h0M2056.7 1541.7h0M2070.9 1541.1h0M2054.1 1541.4h0M2059.8 1538.2h0M2054.8 1543.7h0M2063.3 1543.5h0M2064.0 1545.5h0M2060.2 1541.0h0M2051.6 1544.1h0M2052.3 1540.5h0M2065.9 1542.3h0M2060.5 1540.8h0M2064.8 1539.8h0M2066.6 1537.3h0M2056.8 1538.4h0M2064.6 1544.8h0M2061.8 1538.2h0M2071.4 1539.1h0" stroke="#8fc43a" stroke-width="2.0" stroke-linecap="round" fill="none"/>
<path d="M2069.1 1546.5h0M2074.0 1546.7h0M2078.7 1548.8h0M2070.4 1546.7h0M2079.6 1545.8h0M2074.4 1549.3h0M2081.1 1546.1h0M2077.9 1544.3h0M2076.8 1546.5h0M2079.9 1543.9h0M2077.4 1543.4h0M2072.4 1550.5h0M2075.7 1546.7h0M2079.2 1547.9h0M2081.7 1545.0h0M2076.0 1542.3h0M2077.3 1542.9h0M2075.8 1551.5h0M2083.0 1550.1h0M2078.1 1545.3h0M2075.8 1550.3h0M2077.9 1550.3h0M2077.9 1548.5h0M2076.5 1546.9h0M2077.1 1546.5h0M2073.6 1545.7h0M2080.4 1549.5h0M2075.2 1544.5h0M2073.7 1544.8h0M2076.1 1546.0h0M2080.4 1546.3h0M2072.8 1551.2h0M2080.2 1548.9h0M2073.6 1545.8h0M2072.0 1546.0h0M2083.2 1548.0h0M2075.9 1551.7h0M2078.1 1541.4h0M2080.9 1546.2h0M2080.2 1542.3h0M2075.2 1546.7h0M2080.8 1548.8h0M2078.0 1549.3h0M2080.4 1546.9h0M2074.9 1542.3h0M2078.4 1545.0h0M2073.8 1542.2h0M2073.4 1550.3h0M2079.9 1545.1h0M2082.6 1548.9h0M2080.0 1546.1h0M2078.0 1546.6h0M2070.5 1539.8h0M2079.2 1543.0h0M2079.3 1549.6h0M2078.3 1551.7h0M2079.0 1550.3h0M2083.1 1544.6h0M2080.3 1547.8h0M2076.2 1545.5h0M2071.8 1543.9h0M2080.4 1543.3h0M2069.1 1545.1h0M2078.2 1550.9h0M2069.6 1548.2h0M2075.2 1541.9h0M2076.7 1550.8h0M2074.7 1546.1h0M2076.3 1551.5h0M2072.0 1549.5h0" stroke="#2e9ad0" stroke-width="2.0" stroke-linecap="round" fill="none"/>
<path d="M1962.3 1550.0h0M1975.6 1547.1h0M1974.0 1551.3h0M1961.6 1548.1h0M1969.2 1548.5h0M1966.7 1550.6h0M1957.9 1550.9h0M1970.2 1548.8h0M1959.9 1549.4h0M1964.3 1550.1h0M1967.1 1548.8h0M1974.7 1548.4h0M1966.2 1550.8h0M1961.5 1548.5h0M1970.8 1552.0h0M1970.2 1549.5h0M1967.5 1550.1h0M1961.8 1553.5h0M1962.4 1550.3h0M1969.8 1553.5h0M1968.1 1548.7h0M1962.1 1547.9h0M1957.7 1552.8h0M1969.5 1548.8h0M1965.4 1548.4h0M1966.5 1548.5h0M1962.1 1546.7h0M1965.9 1553.9h0M1964.2 1551.6h0M1972.7 1549.3h0M1968.5 1551.6h0M1968.3 1551.3h0M1960.3 1552.4h0M1975.2 1547.2h0M1972.0 1546.1h0M1963.5 1553.2h0M1970.5 1548.1h0M1967.5 1551.9h0M1963.1 1549.6h0M1969.2 1548.1h0M1969.6 1546.7h0M1972.3 1552.5h0M1963.5 1548.1h0M1964.4 1551.2h0M1966.7 1545.6h0M1960.9 1547.1h0M1970.9 1548.7h0M1966.2 1546.6h0M1967.4 1550.1h0M1970.8 1547.4h0M1958.2 1552.7h0M1961.7 1553.0h0M1969.7 1548.7h0M1963.6 1549.9h0M1969.8 1552.6h0M1973.0 1551.5h0M1972.5 1546.5h0M1972.9 1552.4h0M1966.0 1549.5h0M1960.3 1550.4h0M1966.1 1550.1h0M1965.3 1550.9h0M1962.1 1547.2h0M1972.7 1550.9h0M1956.9 1551.9h0M1965.6 1549.8h0M1968.2 1551.0h0M1974.6 1551.0h0M1959.7 1551.2h0M1971.8 1546.0h0" stroke="#3fc0a0" stroke-width="2.0" stroke-linecap="round" fill="none"/>
<path d="M2009.0 1547.7h0M2008.7 1546.7h0M2002.8 1547.2h0M2019.2 1544.7h0M1998.2 1545.8h0M2009.3 1550.2h0M2014.0 1550.6h0M2009.5 1549.4h0M1998.8 1549.7h0M2011.1 1544.4h0M2007.3 1553.6h0M2009.8 1553.4h0M2010.3 1544.4h0M2009.1 1548.1h0M2015.3 1543.4h0M2003.2 1547.6h0M2008.0 1550.4h0M2012.1 1548.3h0M2005.0 1552.8h0M2014.6 1553.9h0M2010.5 1550.3h0M2000.3 1547.3h0M2009.7 1555.4h0M2005.9 1548.1h0M2008.5 1546.2h0M2008.7 1547.0h0M2009.3 1552.7h0M2011.7 1541.2h0M2004.9 1546.9h0M2013.7 1546.1h0M2003.8 1540.6h0M2001.5 1544.2h0M2013.5 1550.3h0M2005.4 1539.9h0M1998.6 1551.3h0M2002.3 1549.6h0M2015.8 1551.6h0M2000.8 1548.6h0M2002.4 1543.1h0M2008.2 1542.6h0M2011.2 1547.1h0M2014.2 1554.4h0" stroke="#45c0b8" stroke-width="2.0" stroke-linecap="round" fill="none"/>
<path d="M2031.7 1551.3h0M2031.9 1556.4h0M2034.7 1559.9h0M2036.5 1549.6h0M2034.6 1560.4h0M2022.6 1554.2h0M2030.0 1559.9h0M2035.9 1550.5h0M2031.3 1552.8h0M2025.9 1553.9h0M2029.6 1555.0h0M2037.0 1555.8h0M2026.3 1556.8h0M2027.7 1552.1h0M2031.1 1553.5h0M2029.4 1547.5h0M2036.8 1557.3h0M2024.8 1549.8h0M2022.9 1557.7h0M2036.5 1558.2h0M2025.2 1552.9h0M2026.4 1552.1h0M2032.8 1549.1h0M2036.0 1557.5h0M2032.5 1558.2h0M2030.5 1556.2h0M2024.1 1557.7h0M2035.6 1549.6h0M2021.0 1554.2h0M2029.3 1548.8h0M2029.2 1553.7h0M2025.7 1556.5h0M2036.9 1550.0h0M2026.6 1554.3h0M2022.1 1548.8h0M2017.8 1554.5h0M2027.3 1552.2h0M2028.0 1561.0h0M2022.6 1555.7h0M2037.4 1555.4h0M2038.8 1556.2h0M2027.7 1553.2h0M2032.5 1561.3h0M2036.1 1552.2h0M2035.9 1553.3h0M2039.7 1553.4h0M2035.7 1550.3h0M2031.0 1555.9h0M2037.9 1557.7h0M2033.2 1554.6h0M2032.8 1555.6h0M2035.6 1559.0h0M2025.5 1555.2h0M2024.9 1549.7h0M2029.5 1555.1h0M2030.9 1552.8h0M2030.1 1558.8h0M2035.7 1556.8h0M2028.8 1548.8h0M2030.7 1551.9h0M2030.5 1552.2h0M2033.4 1553.6h0M2035.8 1553.5h0M2032.5 1555.4h0M2028.0 1552.7h0M2037.7 1557.4h0M2038.4 1556.7h0M2033.9 1558.9h0M2025.3 1554.1h0M2030.2 1559.1h0" stroke="#5fc050" stroke-width="2.0" stroke-linecap="round" fill="none"/>
<path d="M1936.5 1563.9h0M1931.7 1561.7h0M1937.6 1560.1h0M1935.5 1560.8h0M1932.1 1563.5h0M1935.4 1561.8h0M1940.1 1560.5h0M1929.5 1560.4h0M1936.1 1556.5h0M1934.7 1558.5h0M1931.6 1558.5h0M1933.7 1562.7h0M1936.4 1563.7h0M1933.7 1560.8h0M1935.7 1559.1h0M1936.6 1561.5h0M1931.0 1562.1h0M1938.1 1563.9h0M1939.4 1559.6h0M1936.7 1565.7h0M1934.5 1562.7h0M1938.5 1558.3h0M1937.0 1560.1h0M1932.5 1565.6h0M1940.2 1557.1h0M1937.1 1564.8h0M1932.2 1559.5h0M1940.2 1563.5h0M1929.9 1558.7h0M1932.6 1564.8h0M1936.1 1560.4h0M1931.3 1565.0h0M1934.3 1562.4h0M1935.1 1561.2h0M1938.8 1558.7h0M1940.8 1557.0h0M1935.4 1558.8h0M1931.9 1564.9h0M1936.4 1559.2h0M1939.3 1560.7h0M1927.4 1563.7h0M1938.0 1555.8h0M1931.8 1564.4h0M1936.3 1555.9h0M1935.5 1556.3h0M1940.7 1558.1h0M1935.1 1559.6h0M1936.9 1560.1h0M1935.0 1559.2h0M1934.8 1558.7h0M1933.0 1557.0h0M1937.7 1558.6h0M1942.1 1559.7h0M1935.6 1564.4h0M1934.6 1559.7h0M1937.2 1561.6h0M1929.1 1559.5h0M1939.2 1558.4h0M1933.5 1563.2h0M1936.8 1556.9h0M1929.0 1560.9h0M1936.8 1560.3h0M1936.9 1560.7h0M1936.8 1560.7h0M1937.4 1555.5h0M1939.2 1559.0h0M1940.7 1562.6h0M1934.6 1557.1h0M1932.5 1561.5h0M1940.0 1560.9h0" stroke="#2d3fa0" stroke-width="2.0" stroke-linecap="round" fill="none"/>
<path d="M1998.4 1561.6h0M1997.3 1558.2h0M1996.8 1554.2h0M2007.8 1561.6h0M2002.9 1553.1h0M1997.8 1563.1h0M1997.4 1552.3h0M2004.5 1551.7h0M2006.0 1555.8h0M2010.7 1557.1h0M1999.7 1553.0h0M2002.4 1556.3h0M2005.5 1551.9h0M2001.5 1562.6h0M2007.4 1554.3h0M2001.1 1552.1h0M1997.8 1561.6h0M2005.9 1559.6h0M2000.3 1557.6h0M2000.4 1556.7h0M2002.9 1557.0h0M1994.2 1558.8h0M1996.8 1553.8h0M2002.1 1552.4h0M1999.1 1558.6h0M2006.2 1562.3h0M1997.0 1553.8h0M1996.4 1554.1h0M2004.6 1560.5h0M1999.9 1562.7h0M2005.0 1564.0h0M2007.2 1555.6h0M2013.9 1561.7h0M2008.6 1560.0h0M2007.2 1558.6h0M2005.2 1560.9h0M1994.2 1557.5h0M2003.1 1549.2h0M2009.2 1561.2h0M1995.5 1560.8h0M1994.8 1558.5h0M2006.3 1559.0h0M1998.8 1555.3h0M1994.4 1556.7h0M1997.2 1554.3h0M1999.4 1554.0h0M2000.5 1561.3h0M2010.0 1556.6h0M2002.3 1558.4h0M2003.8 1556.4h0M2010.5 1557.4h0M2005.0 1563.5h0M2008.4 1557.9h0M2011.4 1557.6h0M1997.3 1558.6h0M1998.9 1560.4h0M2003.8 1555.0h0M2011.0 1559.5h0M1999.2 1555.0h0M1999.7 1557.7h0M1997.8 1560.7h0M1995.4 1561.6h0M2002.0 1559.0h0M1999.2 1558.0h0M2011.5 1558.2h0M1999.2 1563.9h0M1998.3 1557.6h0M2006.4 1552.7h0M2005.1 1555.9h0M2003.9 1557.6h0" stroke="#c43fb0" stroke-width="2.0" stroke-linecap="round" fill="none"/>
<path d="M2067.0 1555.4h0M2077.8 1560.6h0M2071.2 1559.2h0M2065.7 1560.9h0M2068.7 1556.4h0M2071.2 1560.0h0M2069.0 1555.5h0M2075.8 1556.0h0M2063.3 1559.3h0M2072.5 1563.5h0M2064.5 1559.9h0M2066.7 1557.9h0M2076.9 1559.7h0M2073.3 1555.1h0M2069.0 1562.9h0M2070.0 1565.6h0M2061.8 1553.3h0M2062.0 1558.0h0M2077.8 1560.6h0M2071.5 1559.2h0M2063.3 1556.9h0M2076.1 1560.6h0M2071.3 1561.4h0M2064.3 1556.5h0M2072.6 1564.9h0M2067.4 1558.6h0M2068.3 1559.1h0M2068.2 1557.6h0M2069.0 1560.3h0M2072.9 1561.7h0M2073.6 1557.6h0M2073.6 1554.4h0M2067.5 1554.3h0M2077.1 1561.2h0M2069.0 1559.3h0M2075.7 1560.0h0M2075.9 1563.0h0M2073.8 1563.2h0M2070.6 1562.1h0M2072.7 1561.2h0M2066.6 1555.6h0M2070.3 1560.2h0M2068.7 1559.1h0M2071.5 1557.8h0M2072.4 1563.0h0M2075.1 1558.9h0M2069.2 1557.0h0M2065.8 1560.5h0M2074.2 1565.0h0M2074.3 1565.0h0M2070.2 1555.9h0M2069.0 1560.1h0M2069.7 1565.6h0M2068.4 1565.2h0M2065.3 1555.9h0M2071.5 1565.3h0M2070.3 1554.7h0M2076.7 1559.2h0M2069.0 1562.7h0M2076.6 1559.7h0M2067.9 1565.7h0M2066.8 1563.5h0M2067.0 1554.4h0M2072.2 1558.0h0M2067.1 1556.6h0M2069.4 1558.7h0M2074.3 1562.2h0M2067.2 1560.9h0M2074.5 1557.8h0M2069.9 1560.3h0" stroke="#d0902a" stroke-width="2.0" stroke-linecap="round" fill="none"/>
<path d="M2093.2 1559.3h0M2100.1 1563.6h0M2094.6 1565.2h0M2097.8 1557.9h0M2092.3 1559.2h0M2095.6 1561.2h0M2094.3 1565.5h0M2094.6 1562.5h0M2094.2 1560.5h0M2096.7 1559.3h0M2091.5 1562.9h0M2099.1 1559.6h0M2100.8 1562.3h0M2097.6 1565.6h0M2096.4 1565.0h0M2096.1 1560.9h0M2098.9 1556.8h0M2103.5 1564.2h0M2092.6 1564.6h0M2099.2 1561.2h0M2100.3 1559.1h0M2098.1 1561.7h0M2097.8 1557.6h0M2094.2 1559.5h0M2095.0 1564.8h0M2099.6 1557.2h0M2099.6 1563.8h0M2092.8 1563.1h0M2095.2 1563.5h0M2103.9 1561.4h0M2098.1 1565.8h0M2098.1 1565.4h0M2094.1 1559.9h0M2097.7 1564.3h0M2094.8 1563.1h0M2101.6 1561.6h0M2099.8 1560.8h0M2098.1 1561.9h0M2093.9 1559.1h0M2092.9 1561.1h0M2095.7 1557.9h0M2101.9 1564.8h0M2096.6 1557.8h0M2097.1 1558.9h0M2095.9 1559.0h0M2096.1 1564.0h0M2100.5 1561.6h0M2102.2 1564.1h0M2094.5 1562.2h0M2096.1 1561.0h0M2100.8 1564.4h0M2095.2 1563.1h0M2098.5 1565.2h0M2095.4 1564.0h0M2092.2 1561.9h0M2098.5 1565.1h0M2093.1 1562.8h0M2097.5 1563.9h0M2096.8 1564.0h0M2095.6 1560.1h0M2094.7 1559.0h0M2102.8 1562.8h0M2093.2 1560.2h0M2095.9 1563.3h0M2097.9 1558.3h0M2095.4 1568.7h0M2095.0 1560.8h0M2102.8 1561.0h0M2099.9 1566.6h0M2098.5 1561.4h0" stroke="#e05a2a" stroke-width="2.0" stroke-linecap="round" fill="none"/>
<path d="M1978.8 1568.1h0M1977.6 1573.6h0M1984.1 1572.3h0M1980.8 1566.4h0M1981.8 1571.7h0M1978.7 1573.6h0M1977.8 1569.1h0M1987.3 1565.9h0M1983.3 1568.8h0M1979.6 1573.6h0M1976.5 1573.1h0M1972.0 1572.8h0M1979.6 1566.0h0M1980.9 1566.9h0M1974.2 1566.3h0M1976.5 1564.3h0M1986.2 1568.0h0M1976.2 1572.4h0M1979.8 1571.7h0M1980.3 1570.3h0M1987.0 1566.4h0M1973.4 1570.9h0M1984.4 1565.1h0M1981.7 1567.1h0M1976.0 1566.9h0M1987.3 1572.4h0M1979.1 1568.5h0M1987.7 1571.2h0M1984.2 1569.1h0M1979.7 1574.0h0M1979.4 1567.1h0M1978.8 1570.9h0M1975.0 1568.9h0M1986.3 1571.4h0M1981.1 1573.2h0M1983.3 1568.1h0M1977.6 1571.9h0M1978.2 1572.5h0M1987.9 1570.2h0M1975.9 1572.1h0M1986.9 1571.4h0M1981.1 1571.5h0M1976.6 1566.0h0M1975.5 1571.7h0M1980.1 1567.3h0M1976.6 1570.6h0M1985.8 1569.8h0M1987.1 1570.9h0M1993.3 1565.4h0M1984.0 1572.6h0M1981.8 1571.9h0M1985.6 1568.0h0M1988.3 1567.8h0M1987.2 1567.4h0M1982.1 1569.2h0M1985.1 1569.9h0M1979.2 1567.7h0M1974.9 1571.9h0M1991.3 1565.5h0M1972.8 1568.5h0M1982.0 1570.1h0M1976.3 1572.9h0M1974.2 1572.3h0M1974.5 1569.6h0M1980.3 1573.4h0M1982.1 1570.0h0M1989.2 1566.8h0M1979.2 1569.5h0M1990.0 1570.0h0M1979.2 1572.3h0" stroke="#b5d035" stroke-width="2.0" stroke-linecap="round" fill="none"/>
<path d="M2023.5 1569.7h0M2017.0 1567.3h0M2024.5 1565.2h0M2027.5 1571.3h0M2030.5 1571.5h0M2025.5 1566.4h0M2031.4 1563.7h0M2017.1 1568.1h0M2039.0 1568.9h0M2032.3 1566.7h0M2033.6 1558.2h0M2030.0 1567.4h0M2024.3 1566.2h0M2018.6 1565.2h0M2028.8 1560.4h0M2024.1 1559.8h0M2025.4 1569.5h0M2034.4 1560.6h0M2028.3 1566.3h0M2022.4 1567.2h0M2035.1 1569.6h0M2032.1 1573.0h0M2020.0 1566.6h0M2019.5 1561.3h0M2032.3 1558.7h0M2030.1 1564.9h0M2018.2 1563.8h0M2020.3 1561.0h0" stroke="#7a3fa8" stroke-width="2.0" stroke-linecap="round" fill="none"/>
<path d="M2053.3 1573.6h0M2048.6 1569.4h0M2053.3 1569.2h0M2047.9 1573.7h0M2055.0 1572.2h0M2047.7 1570.8h0M2049.8 1577.0h0M2051.6 1567.9h0M2055.4 1572.6h0M2049.9 1573.2h0M2046.8 1571.1h0M2047.3 1573.1h0M2042.7 1572.9h0M2048.0 1570.0h0M2051.4 1568.3h0M2049.4 1568.8h0M2052.9 1576.2h0M2056.3 1574.0h0M2043.4 1569.4h0M2049.6 1572.2h0M2049.5 1567.5h0M2048.5 1573.4h0M2057.6 1572.3h0M2056.1 1573.5h0M2047.6 1577.2h0M2043.7 1576.8h0M2052.9 1577.4h0M2042.0 1573.5h0M2049.6 1573.7h0M2047.6 1577.1h0M2046.0 1572.1h0M2051.2 1569.3h0M2048.3 1572.6h0M2047.4 1575.4h0M2056.2 1574.2h0M2051.3 1569.2h0M2044.9 1575.2h0M2047.8 1576.5h0M2057.3 1574.9h0M2049.7 1572.4h0M2055.0 1577.0h0M2059.7 1573.6h0M2050.6 1571.3h0M2051.8 1573.3h0M2044.3 1569.6h0M2042.6 1570.7h0M2053.5 1568.9h0M2044.3 1572.6h0M2050.8 1570.9h0M2051.3 1570.6h0M2052.0 1567.0h0M2054.9 1573.9h0M2046.0 1569.1h0M2053.1 1574.8h0M2055.0 1572.5h0M2046.2 1569.0h0M2052.1 1574.4h0M2046.0 1574.1h0M2050.8 1573.4h0M2050.8 1573.2h0M2045.4 1575.4h0M2049.6 1567.0h0M2045.2 1573.8h0M2042.5 1570.8h0M2050.5 1574.0h0M2055.9 1572.8h0M2052.7 1572.4h0M2042.8 1569.4h0M2045.0 1577.8h0M2051.3 1570.1h0" stroke="#d22f5d" stroke-width="2.0" stroke-linecap="round" fill="none"/>
<path d="M2012.3 1569.8h0M2012.2 1575.1h0M2019.3 1580.0h0M2015.0 1574.7h0M2008.9 1571.9h0M2016.7 1578.2h0M2018.9 1575.4h0M2015.6 1574.2h0M2011.1 1573.3h0M2008.6 1578.3h0M2007.6 1580.0h0M2012.4 1580.0h0M2013.9 1577.8h0M2007.2 1572.9h0M2006.1 1575.9h0M2010.9 1580.7h0M2020.3 1578.7h0M2017.8 1571.7h0M2013.2 1579.2h0M2016.5 1576.6h0M2014.5 1574.9h0M2014.0 1581.3h0M2012.0 1580.2h0M2008.2 1573.8h0M2007.6 1574.4h0M2019.0 1571.5h0M2007.8 1572.1h0M2011.2 1578.4h0M2014.6 1571.5h0M2014.4 1572.6h0M2014.2 1572.0h0M2019.8 1576.3h0M2012.9 1574.4h0M2009.1 1572.1h0M2016.1 1577.4h0M2020.6 1577.3h0M2009.4 1572.4h0M2016.2 1578.3h0M2007.6 1576.1h0M2015.1 1576.0h0M2016.6 1581.4h0M2016.5 1579.7h0M2013.8 1580.3h0M2019.2 1578.2h0M2016.5 1575.3h0M2012.1 1581.1h0M2014.8 1573.6h0M2008.2 1574.8h0M2014.5 1571.9h0M2021.9 1575.7h0M2013.7 1570.7h0M2013.7 1571.5h0M2012.6 1575.2h0M2019.8 1579.1h0M2012.3 1580.9h0M2015.5 1579.5h0M2016.2 1575.6h0M2017.0 1580.6h0M2016.5 1572.4h0M2015.8 1572.9h0M2011.0 1574.8h0M2009.4 1576.2h0M2018.7 1577.0h0M2011.0 1580.3h0M2013.9 1577.1h0M2010.9 1572.1h0M2015.9 1577.1h0M2009.1 1578.9h0M2013.7 1577.0h0M2013.2 1579.5h0" stroke="#e03f9a" stroke-width="2.0" stroke-linecap="round" fill="none"/>
<path d="M2068.3 1581.7h0M2078.5 1580.0h0M2074.1 1580.4h0M2068.7 1581.7h0M2070.1 1577.1h0M2079.0 1581.6h0M2075.6 1576.3h0M2076.6 1575.7h0M2080.9 1579.4h0M2074.1 1580.9h0M2077.1 1582.3h0M2071.7 1578.7h0M2081.0 1579.9h0M2073.7 1579.1h0M2069.5 1579.0h0M2074.0 1584.5h0M2071.2 1582.4h0M2071.7 1576.0h0M2071.9 1578.3h0M2068.0 1582.3h0M2071.7 1583.9h0M2076.1 1579.2h0M2074.9 1583.7h0M2070.2 1576.2h0M2076.2 1584.2h0M2071.3 1575.7h0M2075.6 1573.3h0M2070.7 1578.3h0M2073.9 1580.9h0M2080.1 1575.1h0M2071.5 1578.6h0M2076.0 1577.3h0M2078.6 1580.4h0M2075.2 1576.6h0M2076.2 1580.6h0M2075.5 1581.0h0M2070.2 1579.0h0M2073.4 1579.8h0M2074.2 1579.5h0M2080.4 1577.4h0M2073.2 1582.1h0M2079.5 1581.3h0M2080.0 1581.0h0M2072.0 1577.7h0M2077.4 1580.5h0M2075.9 1578.5h0M2077.0 1580.1h0M2077.2 1583.9h0M2075.3 1576.2h0M2079.9 1577.8h0M2074.9 1579.9h0M2068.9 1579.5h0M2070.1 1580.8h0M2075.5 1576.8h0M2077.1 1584.1h0M2075.6 1575.2h0M2077.2 1577.7h0M2070.6 1581.2h0M2071.0 1573.4h0M2076.5 1581.4h0M2074.3 1580.2h0M2075.8 1583.2h0M2074.8 1579.7h0M2070.7 1583.2h0M2076.9 1579.1h0M2078.9 1577.5h0M2068.5 1581.6h0M2077.1 1575.9h0M2078.1 1583.6h0M2073.0 1578.0h0" stroke="#6a3fb5" stroke-width="2.0" stroke-linecap="round" fill="none"/>
<path d="M2039.9 1586.4h0M2043.0 1582.8h0M2041.4 1582.6h0M2046.0 1586.3h0M2038.2 1581.2h0M2040.3 1579.3h0M2044.6 1589.5h0M2034.5 1588.1h0M2036.7 1586.9h0M2046.0 1583.5h0M2041.5 1589.5h0M2043.3 1582.3h0M2039.4 1584.2h0M2033.9 1587.6h0M2043.9 1587.6h0M2040.4 1590.7h0M2039.6 1580.9h0M2044.6 1582.8h0M2037.0 1581.2h0M2038.4 1587.8h0M2037.4 1583.4h0M2039.3 1582.3h0M2042.6 1582.0h0M2045.3 1585.5h0M2044.0 1586.7h0M2034.8 1585.6h0M2039.2 1582.8h0M2034.8 1585.4h0M2049.0 1580.3h0M2038.9 1581.2h0M2040.6 1588.3h0M2034.1 1587.8h0M2039.1 1585.2h0M2040.2 1588.0h0M2039.2 1587.7h0M2034.6 1585.7h0M2035.8 1585.4h0M2037.9 1582.5h0M2042.6 1580.2h0M2041.3 1589.0h0M2033.8 1586.4h0M2047.7 1585.0h0M2035.3 1588.3h0M2036.6 1581.5h0M2041.5 1583.6h0M2032.0 1582.1h0M2038.9 1582.9h0M2033.9 1584.9h0M2040.8 1582.2h0M2038.7 1586.4h0M2045.8 1583.3h0M2044.9 1587.7h0M2042.9 1587.2h0M2034.6 1581.3h0M2042.5 1588.2h0M2043.9 1584.9h0M2043.3 1581.0h0M2032.9 1585.7h0M2038.5 1584.6h0M2036.6 1587.7h0M2044.3 1583.7h0M2042.6 1580.3h0M2043.3 1581.0h0M2034.9 1585.1h0M2038.2 1582.0h0M2041.9 1583.5h0M2042.2 1587.5h0M2047.5 1585.9h0M2043.4 1581.8h0M2043.8 1583.7h0" stroke="#35b8d0" stroke-width="2.0" stroke-linecap="round" fill="none"/>
<path d="M1959.0 1584.0h0M1959.6 1586.4h0M1953.5 1588.9h0M1957.6 1585.4h0M1967.7 1587.9h0M1959.7 1585.8h0M1957.9 1583.7h0M1952.1 1584.5h0M1957.7 1588.3h0M1961.6 1586.9h0M1950.6 1584.2h0M1964.1 1587.6h0M1962.4 1590.9h0M1958.7 1591.2h0M1953.7 1589.6h0M1959.9 1591.2h0M1953.6 1588.8h0M1960.6 1583.7h0M1957.9 1585.4h0M1961.9 1588.2h0M1961.6 1585.2h0M1963.0 1590.6h0M1958.5 1587.2h0M1960.1 1588.1h0M1962.8 1585.0h0M1953.0 1584.8h0M1957.9 1585.1h0M1954.4 1583.4h0M1950.3 1587.0h0M1964.6 1590.1h0M1953.5 1589.8h0M1958.1 1590.3h0M1961.0 1587.5h0M1958.2 1587.2h0M1954.8 1583.7h0M1963.7 1591.4h0M1956.7 1589.2h0M1964.5 1586.0h0M1966.6 1590.3h0M1958.0 1585.1h0M1947.1 1585.1h0M1950.3 1585.1h0M1961.1 1584.7h0M1965.6 1584.8h0M1945.4 1583.5h0M1961.9 1586.4h0M1951.6 1587.1h0M1961.2 1591.2h0M1950.7 1586.9h0M1964.0 1586.5h0M1965.7 1589.6h0M1965.3 1588.9h0M1963.1 1586.6h0M1966.0 1586.4h0M1956.2 1587.6h0M1955.4 1582.6h0M1954.7 1586.1h0M1959.1 1587.8h0M1952.9 1583.1h0M1968.5 1589.6h0M1963.5 1588.1h0M1952.0 1587.8h0M1948.9 1585.7h0M1966.7 1587.2h0M1961.5 1586.0h0M1963.6 1586.4h0M1954.5 1582.4h0M1966.9 1587.4h0M1956.0 1585.1h0M1959.7 1591.3h0" stroke="#e0802a" stroke-width="2.0" stroke-linecap="round" fill="none"/>
<path d="M1993.5 1597.4h0M1991.7 1591.5h0M1996.2 1597.7h0M1995.0 1592.9h0M1990.3 1596.3h0M1999.9 1595.7h0M1995.0 1596.3h0M1996.2 1598.1h0M1998.2 1591.4h0M1990.1 1591.6h0M1994.2 1599.0h0M1998.8 1595.8h0M1995.3 1594.9h0M1996.6 1600.6h0M1988.0 1597.0h0M1994.1 1593.8h0M1990.6 1592.9h0M1989.2 1597.0h0M2001.8 1592.7h0M1987.9 1596.8h0M1998.1 1600.1h0M1996.5 1597.1h0M1994.9 1596.4h0M2001.4 1593.4h0M1996.3 1595.7h0M1991.9 1598.9h0M1994.3 1593.0h0M1988.6 1599.0h0M1996.6 1595.9h0M1995.0 1600.4h0M1997.6 1597.7h0M1997.5 1595.0h0M1993.6 1597.6h0M1995.6 1595.7h0M1993.6 1597.1h0M1994.7 1596.3h0M1995.7 1594.2h0M1988.9 1593.7h0M1995.2 1591.5h0M1996.0 1595.1h0M2000.8 1594.2h0M2000.6 1595.2h0M1991.2 1595.1h0M1999.2 1597.9h0M1993.3 1594.7h0M1997.2 1592.4h0M1996.2 1596.3h0M1992.8 1600.8h0M2002.9 1590.9h0M1990.3 1596.6h0M1995.8 1595.7h0M1991.1 1597.2h0M1993.7 1597.8h0M2002.0 1597.6h0M1993.7 1592.7h0M1995.4 1597.6h0M1994.1 1596.1h0M1989.2 1597.0h0M1996.5 1594.1h0M2002.1 1595.2h0M1994.2 1593.9h0M1991.4 1595.3h0M1997.1 1595.6h0M2002.8 1591.3h0M1994.7 1590.7h0M2000.1 1599.5h0M1997.3 1598.6h0M1985.0 1597.7h0M2000.2 1593.7h0M1996.0 1597.3h0" stroke="#d62728" stroke-width="2.0" stroke-linecap="round" fill="none"/>
<path d="M2024.4 1610.8h0M2025.5 1606.8h0M2029.1 1606.1h0M2025.3 1605.3h0M2018.6 1611.9h0M2025.5 1604.8h0M2025.7 1610.0h0M2023.9 1606.2h0M2014.9 1611.9h0M2022.0 1608.2h0M2014.5 1607.8h0M2018.6 1606.7h0M2030.6 1605.4h0M2021.0 1612.5h0M2023.2 1607.7h0M2025.1 1605.1h0M2021.7 1609.3h0M2025.9 1604.4h0M2026.6 1607.4h0M2026.9 1605.4h0M2023.0 1606.4h0M2021.2 1604.6h0M2014.6 1605.9h0M2016.2 1608.6h0M2015.9 1609.8h0M2030.9 1605.3h0M2017.1 1610.0h0M2026.2 1610.0h0M2024.6 1606.4h0M2028.8 1604.8h0M2021.4 1610.9h0M2013.5 1611.0h0M2020.4 1606.5h0M2024.6 1607.8h0M2024.0 1609.9h0M2017.8 1610.7h0M2026.0 1611.4h0M2027.2 1606.6h0M2022.5 1606.9h0M2019.3 1608.7h0M2022.7 1605.5h0M2027.1 1604.0h0M2020.4 1604.3h0M2022.8 1607.6h0M2027.2 1606.8h0M2026.3 1604.0h0M2023.4 1606.0h0M2018.6 1612.3h0M2026.6 1608.7h0M2028.4 1610.2h0M2016.7 1605.3h0M2017.3 1610.8h0M2030.4 1607.0h0M2015.8 1607.8h0M2022.8 1604.3h0M2023.1 1603.8h0M2016.8 1608.7h0M2019.9 1609.0h0M2022.5 1607.6h0M2012.0 1610.5h0M2015.7 1609.2h0M2017.4 1607.0h0M2031.4 1609.9h0M2019.9 1605.5h0M2012.1 1609.8h0M2026.6 1608.1h0M2023.7 1607.6h0M2026.9 1608.4h0M2015.8 1606.5h0M2018.9 1605.2h0" stroke="#a04bb5" stroke-width="2.0" stroke-linecap="round" fill="none"/>
<path d="M2058.7 1554.2h0M2054.0 1565.5h0M2051.6 1563.3h0M2050.0 1556.2h0M2054.8 1558.4h0M2064.8 1553.4h0M2059.6 1560.4h0M2054.8 1555.3h0M2053.3 1562.5h0M2057.0 1564.2h0M2053.8 1555.3h0M2042.9 1565.9h0M2057.5 1558.5h0M2040.9 1567.2h0M2049.5 1559.1h0M2049.1 1565.4h0M2047.7 1564.4h0M2046.5 1570.5h0M2053.6 1561.2h0M2051.9 1566.9h0M2058.8 1563.6h0" stroke="#e0502a" stroke-width="2.0" stroke-linecap="round" fill="none"/>
<path d="M1997.4 1543.6h0M1995.2 1544.7h0M2010.7 1538.4h0M2011.3 1528.2h0M1998.9 1545.7h0M2005.2 1541.0h0M1992.6 1543.4h0M2012.9 1544.2h0M1988.1 1533.1h0M1993.6 1533.7h0M1994.7 1540.1h0M1992.7 1541.2h0M1999.3 1525.4h0M2008.7 1524.4h0M1997.2 1525.8h0M2009.7 1539.6h0M2006.2 1543.4h0M2007.3 1540.8h0M1989.8 1536.3h0M1998.4 1542.4h0M1995.0 1536.0h0" stroke="#8a4bb5" stroke-width="2.0" stroke-linecap="round" fill="none"/>
<path d="M2026.3 1541.0h0M2024.0 1540.2h0M2026.5 1549.4h0M2034.2 1543.0h0M2031.8 1549.8h0M2043.9 1535.2h0M2037.6 1548.1h0M2036.2 1545.0h0M2024.6 1549.8h0M2047.2 1540.5h0M2028.0 1544.1h0M2036.5 1543.4h0M2037.6 1553.7h0M2042.6 1541.3h0M2039.3 1550.8h0M2028.1 1531.4h0M2046.4 1550.6h0M2035.9 1545.1h0M2039.9 1541.9h0M2035.3 1542.0h0M2034.3 1544.5h0" stroke="#45c0b8" stroke-width="2.0" stroke-linecap="round" fill="none"/>
<path d="M1924.5 1619v1.6" stroke="#222" stroke-width="0.4"/><text class="sans" x="1924.5" y="1625.8" font-size="5.8" text-anchor="middle">−60</text>
<path d="M1955.8 1619v1.6" stroke="#222" stroke-width="0.4"/><text class="sans" x="1955.8" y="1625.8" font-size="5.8" text-anchor="middle">−40</text>
<path d="M1987.0 1619v1.6" stroke="#222" stroke-width="0.4"/><text class="sans" x="1987.0" y="1625.8" font-size="5.8" text-anchor="middle">−20</text>
<path d="M2018.3 1619v1.6" stroke="#222" stroke-width="0.4"/><text class="sans" x="2018.3" y="1625.8" font-size="5.8" text-anchor="middle">0</text>
<path d="M2049.6 1619v1.6" stroke="#222" stroke-width="0.4"/><text class="sans" x="2049.6" y="1625.8" font-size="5.8" text-anchor="middle">20</text>
<path d="M2080.8 1619v1.6" stroke="#222" stroke-width="0.4"/><text class="sans" x="2080.8" y="1625.8" font-size="5.8" text-anchor="middle">40</text>
<path d="M2112.1 1619v1.6" stroke="#222" stroke-width="0.4"/><text class="sans" x="2112.1" y="1625.8" font-size="5.8" text-anchor="middle">60</text>
<path d="M1920.9 1606.0h-1.6" stroke="#222" stroke-width="0.4"/><text class="sans" x="1918.3" y="1608.1" font-size="5.8" text-anchor="end">−60</text>
<path d="M1920.9 1585.9h-1.6" stroke="#222" stroke-width="0.4"/><text class="sans" x="1918.3" y="1588.0" font-size="5.8" text-anchor="end">−40</text>
<path d="M1920.9 1565.8h-1.6" stroke="#222" stroke-width="0.4"/><text class="sans" x="1918.3" y="1567.9" font-size="5.8" text-anchor="end">−20</text>
<path d="M1920.9 1545.7h-1.6" stroke="#222" stroke-width="0.4"/><text class="sans" x="1918.3" y="1547.8" font-size="5.8" text-anchor="end">0</text>
<path d="M1920.9 1525.6h-1.6" stroke="#222" stroke-width="0.4"/><text class="sans" x="1918.3" y="1527.7" font-size="5.8" text-anchor="end">20</text>
<path d="M1920.9 1505.5h-1.6" stroke="#222" stroke-width="0.4"/><text class="sans" x="1918.3" y="1507.6" font-size="5.8" text-anchor="end">40</text>
<path d="M1920.9 1485.4h-1.6" stroke="#222" stroke-width="0.4"/><text class="sans" x="1918.3" y="1487.5" font-size="5.8" text-anchor="end">60</text>
<rect x="2189.3" y="1471.6" width="197.7" height="147.4" fill="#fff" stroke="#222" stroke-width="0.8"/>
<path d="M2270.4 1486.6h0M2276.1 1485.3h0M2277.5 1484.5h0M2274.7 1484.8h0M2274.0 1480.5h0M2278.1 1488.5h0M2266.2 1485.2h0M2276.6 1480.9h0M2279.5 1488.0h0M2274.9 1480.6h0M2275.4 1488.8h0M2277.1 1482.6h0M2277.0 1484.6h0M2274.8 1485.6h0M2277.9 1484.3h0M2281.0 1489.8h0M2275.9 1486.0h0M2275.0 1485.4h0M2266.2 1485.7h0M2269.6 1489.5h0M2272.8 1484.2h0" stroke="#e0702a" stroke-width="2.0" stroke-linecap="round" fill="none"/>
<path d="M2321.0 1493.8h0M2317.5 1492.4h0M2328.8 1495.2h0M2317.9 1488.9h0M2318.6 1493.1h0M2317.0 1490.2h0M2323.4 1495.7h0M2314.9 1491.4h0M2329.1 1495.0h0M2321.4 1491.7h0M2320.3 1496.7h0M2325.1 1496.6h0M2319.8 1493.3h0M2322.2 1491.3h0M2318.9 1497.6h0M2319.8 1498.5h0M2313.2 1495.7h0M2318.3 1492.1h0M2319.3 1494.4h0M2323.0 1498.5h0M2319.1 1493.5h0M2320.4 1496.5h0M2324.4 1494.0h0M2317.2 1492.8h0M2312.9 1491.2h0M2312.3 1493.6h0M2312.7 1495.5h0M2318.5 1489.5h0M2316.4 1493.2h0M2316.5 1492.9h0M2326.0 1497.0h0M2322.7 1494.4h0M2314.9 1491.9h0M2310.6 1492.7h0M2320.5 1493.7h0M2324.8 1492.5h0M2311.3 1491.2h0M2316.1 1490.5h0M2319.0 1489.7h0M2318.3 1490.7h0M2318.7 1493.0h0M2313.1 1495.8h0M2323.5 1490.9h0M2320.5 1493.5h0M2314.5 1490.4h0M2322.4 1495.0h0M2320.1 1494.6h0M2310.5 1493.0h0M2320.7 1491.5h0" stroke="#d4a62a" stroke-width="2.0" stroke-linecap="round" fill="none"/>
<path d="M2298.9 1503.9h0M2298.9 1503.1h0M2294.4 1505.9h0M2291.0 1503.5h0M2292.6 1505.6h0M2295.2 1504.0h0M2285.4 1506.7h0M2288.3 1504.2h0M2287.7 1505.5h0M2291.5 1504.9h0M2291.1 1504.4h0M2294.0 1502.0h0M2294.4 1505.2h0M2292.6 1500.7h0M2296.9 1501.6h0M2297.6 1501.9h0M2289.6 1507.0h0M2286.4 1506.0h0M2288.4 1506.6h0M2284.9 1507.0h0M2288.1 1506.2h0M2289.7 1506.6h0M2293.9 1507.9h0M2295.2 1506.9h0M2285.1 1507.2h0M2295.5 1501.9h0M2284.6 1505.4h0M2285.6 1505.2h0M2288.0 1509.1h0M2296.6 1506.2h0M2288.4 1505.3h0M2291.7 1504.7h0M2291.9 1505.8h0M2297.1 1503.9h0M2294.6 1502.6h0M2288.8 1503.3h0M2289.1 1507.6h0M2284.5 1503.6h0M2300.4 1503.8h0M2283.2 1507.0h0M2296.3 1502.2h0M2294.3 1506.6h0M2291.6 1507.2h0M2287.7 1508.3h0M2291.5 1504.8h0M2291.3 1501.7h0M2293.1 1506.0h0M2293.2 1503.7h0M2288.4 1503.2h0M2298.8 1503.7h0M2289.3 1505.4h0M2286.8 1507.5h0M2296.3 1503.5h0M2292.5 1504.6h0M2295.8 1501.9h0M2293.4 1507.4h0M2284.3 1505.4h0M2291.5 1505.7h0M2287.9 1504.9h0M2290.5 1506.4h0M2295.5 1504.9h0M2279.7 1508.9h0M2292.1 1506.1h0M2293.3 1507.9h0M2283.8 1504.5h0M2292.9 1504.1h0M2295.2 1503.8h0M2287.9 1505.8h0M2289.3 1504.6h0M2287.2 1505.5h0" stroke="#3fb85a" stroke-width="2.0" stroke-linecap="round" fill="none"/>
<path d="M2264.1 1511.2h0M2260.0 1513.4h0M2257.5 1517.0h0M2263.5 1512.8h0M2258.7 1514.5h0M2255.7 1508.6h0M2257.6 1510.4h0M2259.0 1512.3h0M2260.0 1513.6h0M2262.4 1508.8h0M2254.9 1511.0h0M2258.2 1508.3h0M2263.8 1513.9h0M2261.6 1510.1h0M2262.3 1510.8h0M2260.3 1512.1h0M2258.1 1515.6h0M2260.9 1509.0h0M2264.3 1515.5h0M2258.6 1510.6h0M2258.5 1512.8h0M2254.5 1515.4h0M2256.4 1508.7h0M2259.2 1512.7h0M2255.0 1515.8h0M2265.6 1511.1h0M2263.8 1513.2h0M2262.9 1515.1h0M2257.0 1510.6h0M2261.8 1512.1h0M2254.8 1511.8h0M2259.5 1507.5h0M2254.9 1513.2h0M2259.7 1508.4h0M2257.4 1508.3h0M2255.6 1510.3h0M2262.7 1514.1h0M2259.4 1511.4h0M2256.0 1510.6h0M2256.6 1509.1h0M2265.7 1510.4h0M2258.5 1516.7h0M2264.6 1511.6h0M2259.8 1512.7h0M2255.9 1512.3h0M2260.0 1509.6h0M2262.9 1517.0h0M2258.0 1515.6h0M2257.3 1516.3h0M2262.3 1511.9h0M2255.4 1509.5h0M2256.4 1514.2h0M2258.8 1512.7h0M2262.5 1508.1h0M2264.4 1514.7h0M2258.7 1515.8h0M2264.6 1514.0h0M2264.7 1515.1h0M2260.0 1507.7h0M2257.9 1514.0h0M2264.8 1511.8h0M2256.1 1511.8h0M2259.3 1514.7h0M2259.5 1517.9h0M2259.9 1513.0h0M2262.4 1515.1h0M2260.9 1509.7h0M2260.4 1511.1h0M2260.8 1509.8h0M2260.8 1513.1h0" stroke="#c4c92e" stroke-width="2.0" stroke-linecap="round" fill="none"/>
<path d="M2312.8 1518.0h0M2310.5 1519.0h0M2314.2 1515.7h0M2316.7 1518.2h0M2315.9 1519.1h0M2317.9 1518.9h0M2320.0 1514.7h0M2321.4 1519.6h0M2315.0 1513.2h0M2312.5 1517.8h0M2314.9 1516.1h0M2315.9 1520.3h0M2311.7 1515.7h0M2321.5 1517.4h0M2316.0 1513.8h0M2318.8 1516.6h0M2315.8 1517.8h0M2316.4 1517.5h0M2320.1 1517.5h0M2315.9 1516.5h0M2318.1 1521.8h0M2312.5 1516.5h0M2317.6 1522.3h0M2319.0 1519.1h0M2317.2 1515.7h0M2315.6 1520.2h0M2313.4 1516.7h0M2316.6 1518.0h0M2319.3 1513.7h0M2321.5 1515.2h0M2318.1 1520.8h0M2315.2 1514.7h0M2316.7 1518.9h0M2314.5 1514.0h0M2315.6 1514.1h0M2318.2 1522.5h0M2313.8 1517.8h0M2312.4 1518.0h0M2313.7 1520.9h0M2319.8 1521.0h0M2315.8 1522.2h0M2315.5 1520.5h0M2318.5 1517.0h0M2318.1 1514.3h0M2317.1 1518.6h0M2321.0 1518.7h0M2321.6 1519.5h0M2313.2 1518.9h0M2313.4 1513.5h0M2315.4 1512.7h0M2318.7 1518.1h0M2315.4 1522.5h0M2316.7 1519.3h0M2313.0 1519.2h0M2311.4 1517.0h0M2314.1 1517.7h0M2316.1 1514.2h0M2311.2 1515.9h0M2321.0 1516.0h0M2316.6 1517.3h0M2318.6 1519.4h0M2312.5 1520.0h0M2311.2 1517.8h0M2319.4 1516.6h0M2321.7 1517.1h0M2318.3 1519.0h0M2314.7 1520.5h0M2312.9 1519.7h0M2312.4 1515.4h0M2321.0 1519.0h0" stroke="#5fb83a" stroke-width="2.0" stroke-linecap="round" fill="none"/>
<path d="M2346.8 1520.5h0M2343.8 1517.3h0M2345.5 1516.5h0M2354.9 1516.2h0M2350.9 1520.0h0M2353.0 1515.2h0M2348.5 1515.7h0M2342.1 1522.2h0M2349.5 1519.3h0M2349.5 1515.1h0M2349.2 1521.2h0M2348.5 1518.9h0M2342.7 1515.6h0M2350.6 1519.8h0M2347.4 1519.1h0M2342.1 1520.3h0M2349.5 1518.1h0M2348.7 1521.9h0M2345.4 1516.7h0M2353.9 1519.5h0M2346.7 1518.4h0M2350.0 1519.3h0M2351.0 1518.6h0M2354.3 1519.6h0M2342.5 1517.4h0M2338.6 1518.6h0M2351.7 1519.3h0M2348.4 1518.6h0M2344.2 1519.1h0M2348.1 1519.7h0M2350.4 1517.1h0M2348.8 1522.6h0M2354.5 1518.8h0M2348.5 1517.8h0M2348.3 1517.6h0M2346.0 1518.1h0M2349.3 1518.3h0M2348.0 1518.9h0M2352.2 1517.8h0M2355.4 1516.9h0M2355.7 1520.7h0M2346.6 1520.4h0M2343.8 1518.0h0M2342.3 1519.3h0M2347.1 1516.4h0M2350.3 1518.6h0M2348.7 1516.4h0M2348.7 1520.7h0M2348.0 1515.4h0M2355.5 1519.2h0M2346.0 1522.2h0M2354.9 1517.6h0M2346.0 1516.0h0M2341.2 1517.5h0M2340.2 1520.4h0M2349.0 1516.0h0M2348.9 1516.2h0M2350.7 1522.0h0M2347.1 1519.6h0M2344.2 1516.7h0M2353.4 1516.2h0M2350.7 1520.4h0M2356.7 1518.4h0M2352.9 1521.7h0M2342.4 1518.0h0M2354.9 1519.5h0M2349.0 1518.0h0M2347.4 1519.3h0M2351.9 1515.0h0M2350.3 1517.1h0" stroke="#3cc0a0" stroke-width="2.0" stroke-linecap="round" fill="none"/>
<path d="M2225.3 1522.1h0M2226.5 1522.2h0M2223.2 1523.8h0M2228.6 1519.5h0M2226.5 1519.8h0M2219.3 1522.2h0M2221.3 1526.6h0M2221.1 1521.2h0M2223.8 1520.1h0M2219.6 1524.9h0M2230.3 1519.7h0M2229.5 1523.1h0M2223.4 1524.7h0M2228.3 1524.1h0M2219.8 1524.2h0M2225.2 1517.8h0M2222.6 1522.8h0M2229.2 1518.4h0M2229.5 1521.5h0M2230.0 1521.8h0M2227.9 1519.2h0M2221.1 1524.5h0M2220.7 1519.0h0M2222.3 1517.7h0M2228.2 1518.9h0M2229.0 1523.1h0M2226.5 1525.6h0M2229.4 1520.6h0M2224.5 1522.1h0M2228.5 1525.0h0M2221.5 1519.7h0M2225.9 1527.4h0M2222.9 1519.1h0M2222.7 1517.7h0M2225.9 1519.6h0M2229.3 1522.5h0M2224.6 1525.6h0M2226.0 1525.3h0M2220.6 1520.7h0M2221.2 1518.2h0M2226.8 1518.6h0M2222.0 1521.4h0M2228.2 1524.0h0M2227.3 1524.7h0M2220.9 1519.0h0M2224.4 1522.0h0M2220.9 1524.3h0M2228.2 1520.0h0M2227.6 1517.9h0M2222.7 1518.8h0M2222.0 1521.0h0M2227.3 1520.5h0M2226.2 1523.0h0M2224.1 1525.4h0M2225.9 1521.8h0M2225.3 1524.9h0M2219.0 1524.2h0M2224.4 1521.9h0M2224.3 1525.8h0M2225.8 1522.4h0M2225.7 1526.6h0M2230.2 1519.3h0M2225.4 1526.1h0M2220.2 1521.1h0M2228.5 1522.0h0M2229.5 1519.6h0M2218.9 1526.4h0M2227.4 1517.7h0M2228.3 1524.8h0M2228.0 1520.2h0" stroke="#a04bb5" stroke-width="2.0" stroke-linecap="round" fill="none"/>
<path d="M2289.4 1524.6h0M2292.6 1525.2h0M2287.9 1525.3h0M2287.2 1526.9h0M2286.1 1524.5h0M2291.0 1523.0h0M2288.8 1527.2h0M2294.9 1525.7h0M2292.0 1520.9h0M2288.5 1522.4h0M2292.6 1524.6h0M2292.9 1518.7h0M2290.1 1521.0h0M2288.4 1524.3h0M2295.4 1523.2h0M2291.1 1518.8h0M2297.3 1523.3h0M2287.0 1524.7h0M2294.5 1523.9h0M2293.2 1519.1h0M2291.4 1524.0h0M2290.3 1523.2h0M2288.9 1526.1h0M2291.5 1527.5h0M2288.2 1524.5h0M2296.8 1522.2h0M2296.9 1525.6h0M2290.5 1520.7h0M2286.9 1522.6h0M2288.8 1521.6h0M2295.3 1524.8h0M2293.3 1526.4h0M2287.5 1523.6h0M2292.3 1528.9h0M2290.8 1518.9h0M2288.4 1526.1h0M2294.5 1523.7h0M2292.8 1519.3h0M2295.8 1525.1h0M2294.7 1520.9h0M2292.8 1519.8h0M2297.0 1524.4h0M2287.7 1523.0h0M2294.9 1528.2h0M2295.4 1517.5h0M2286.6 1522.4h0M2295.4 1528.2h0M2295.1 1523.8h0M2290.7 1523.5h0M2291.6 1523.7h0M2290.8 1524.9h0M2288.6 1523.6h0M2295.4 1526.4h0M2291.8 1519.0h0M2290.1 1525.5h0M2290.2 1520.1h0M2290.3 1516.8h0M2288.1 1520.6h0M2291.4 1526.8h0M2292.7 1527.7h0M2289.2 1527.4h0M2291.4 1521.9h0M2292.3 1523.8h0M2290.5 1525.3h0M2290.8 1526.2h0M2289.4 1517.0h0M2293.3 1520.7h0M2295.6 1522.2h0M2292.2 1522.9h0M2290.3 1527.3h0" stroke="#3fb878" stroke-width="2.0" stroke-linecap="round" fill="none"/>
<path d="M2268.1 1529.7h0M2267.4 1528.3h0M2265.0 1530.2h0M2270.6 1532.9h0M2273.4 1528.7h0M2269.5 1537.9h0M2273.9 1528.5h0M2271.0 1534.9h0M2266.3 1531.4h0M2267.8 1528.2h0M2270.0 1525.5h0M2268.5 1528.2h0M2272.8 1532.8h0M2266.0 1533.2h0M2265.5 1526.3h0M2263.0 1531.0h0M2274.1 1529.0h0M2267.1 1527.8h0M2266.3 1534.1h0M2269.8 1533.8h0M2268.1 1532.4h0M2263.6 1531.8h0M2268.8 1526.7h0M2266.2 1531.7h0M2270.9 1524.0h0M2263.8 1530.1h0M2271.4 1532.4h0M2262.1 1531.1h0M2265.4 1531.1h0M2271.1 1525.8h0M2268.3 1526.3h0M2265.2 1533.4h0M2266.4 1531.6h0M2267.0 1533.9h0M2271.5 1534.9h0M2268.7 1527.0h0M2264.3 1528.1h0M2274.7 1530.8h0M2271.0 1528.6h0M2272.2 1526.4h0M2266.4 1531.6h0M2270.4 1532.7h0M2264.5 1527.8h0M2268.3 1532.6h0M2270.7 1533.1h0M2267.5 1526.1h0M2270.6 1532.7h0M2273.6 1527.7h0M2265.9 1533.8h0M2265.6 1534.7h0M2269.0 1534.8h0M2267.5 1531.4h0M2269.5 1535.4h0M2266.3 1527.1h0M2272.0 1532.1h0M2266.9 1525.6h0M2267.4 1525.3h0M2270.5 1530.8h0M2264.1 1528.8h0M2272.1 1533.2h0M2264.9 1531.2h0M2269.6 1526.9h0M2265.3 1534.5h0M2267.4 1527.1h0M2264.0 1531.7h0M2272.8 1530.7h0M2269.8 1530.9h0M2275.7 1531.8h0M2270.8 1533.3h0M2267.9 1527.4h0" stroke="#e03f9a" stroke-width="2.0" stroke-linecap="round" fill="none"/>
<path d="M2325.9 1534.8h0M2326.1 1535.4h0M2321.9 1535.2h0M2328.3 1532.0h0M2331.4 1536.2h0M2332.0 1535.2h0M2323.8 1533.2h0M2321.4 1537.7h0M2327.3 1535.0h0M2327.3 1533.6h0M2325.8 1534.5h0M2329.0 1535.2h0M2323.2 1535.2h0M2328.1 1535.2h0M2325.5 1536.5h0M2329.2 1533.4h0M2327.2 1535.2h0M2331.3 1532.8h0M2324.8 1539.1h0M2328.0 1535.8h0M2321.6 1533.7h0M2325.4 1538.0h0M2324.0 1535.6h0M2326.5 1537.9h0M2325.5 1535.5h0M2331.4 1533.3h0M2327.8 1534.1h0M2324.8 1537.2h0M2330.6 1533.7h0M2324.6 1538.9h0M2321.7 1536.7h0M2323.1 1533.6h0M2329.6 1537.8h0M2329.2 1536.2h0M2330.4 1532.8h0M2325.5 1537.7h0M2326.5 1537.5h0M2326.0 1534.6h0M2326.3 1533.3h0M2322.4 1532.2h0M2326.7 1533.1h0M2326.1 1532.8h0M2324.0 1538.5h0M2327.1 1537.3h0M2330.4 1535.6h0M2327.4 1535.8h0M2325.2 1531.1h0M2331.4 1534.4h0M2325.9 1535.9h0M2323.8 1532.8h0M2331.1 1533.1h0M2327.9 1535.6h0M2326.5 1540.1h0M2330.1 1535.4h0M2325.0 1537.6h0M2327.4 1535.4h0M2323.4 1537.2h0M2321.6 1535.8h0M2326.5 1540.1h0M2326.0 1536.6h0M2326.8 1536.7h0M2329.1 1533.2h0M2330.4 1531.9h0M2323.4 1532.6h0M2323.7 1532.1h0M2328.0 1531.2h0M2329.3 1534.2h0M2326.8 1534.5h0M2324.4 1532.4h0M2325.0 1532.7h0" stroke="#2d3fa0" stroke-width="2.0" stroke-linecap="round" fill="none"/>
<path d="M2368.6 1536.4h0M2370.3 1539.1h0M2362.0 1538.0h0M2369.4 1536.2h0M2363.2 1541.9h0M2365.4 1536.0h0M2360.0 1539.3h0M2361.1 1542.7h0M2362.7 1540.0h0M2365.6 1542.5h0M2365.7 1547.7h0M2371.2 1539.6h0M2365.6 1540.3h0M2363.6 1539.9h0M2365.0 1541.9h0M2365.3 1538.5h0M2361.6 1537.9h0M2368.2 1545.0h0M2368.3 1544.0h0M2361.4 1539.5h0M2362.6 1538.6h0M2366.5 1541.3h0M2372.3 1544.0h0M2362.5 1537.9h0M2363.8 1537.4h0M2364.4 1539.3h0M2369.8 1536.9h0M2369.5 1538.6h0M2364.5 1535.4h0M2360.6 1542.4h0M2364.9 1542.6h0M2367.5 1540.6h0M2361.6 1541.1h0M2368.5 1540.9h0M2368.2 1541.2h0M2370.0 1539.7h0M2365.3 1545.0h0M2367.8 1539.6h0M2370.7 1538.9h0M2360.2 1542.0h0M2368.4 1544.4h0M2366.7 1538.1h0M2367.7 1539.8h0M2366.6 1541.8h0M2365.1 1542.1h0M2369.8 1543.0h0M2370.4 1541.4h0M2360.6 1536.5h0M2363.4 1541.3h0M2364.4 1537.3h0M2371.2 1540.9h0M2366.7 1539.7h0M2361.8 1538.1h0M2362.3 1541.4h0M2364.8 1538.3h0M2364.6 1539.3h0M2364.3 1539.6h0M2364.0 1539.8h0M2367.0 1538.1h0M2365.2 1541.2h0M2362.8 1542.2h0M2369.1 1538.3h0M2367.2 1537.7h0M2367.8 1541.4h0M2364.6 1539.6h0M2360.6 1538.3h0M2369.2 1537.4h0M2362.5 1541.5h0M2367.4 1542.2h0M2364.4 1540.3h0" stroke="#a5d035" stroke-width="2.0" stroke-linecap="round" fill="none"/>
<path d="M2236.4 1545.8h0M2240.0 1537.1h0M2240.0 1539.3h0M2235.1 1543.9h0M2240.3 1541.5h0M2239.8 1542.4h0M2235.3 1545.7h0M2236.4 1539.5h0M2234.6 1540.7h0M2231.5 1542.7h0M2235.3 1536.0h0M2236.4 1541.6h0M2239.9 1537.3h0M2241.1 1541.6h0M2238.2 1544.7h0M2238.9 1538.1h0M2240.3 1537.9h0M2235.8 1541.0h0M2237.3 1538.3h0M2236.9 1537.2h0M2233.6 1545.3h0M2233.3 1541.0h0M2236.1 1541.5h0M2242.4 1540.0h0M2235.0 1536.9h0M2242.3 1538.1h0M2234.2 1540.3h0M2239.2 1541.0h0M2238.4 1537.5h0M2238.4 1537.7h0M2235.3 1540.2h0M2239.6 1539.8h0M2238.2 1544.3h0M2238.2 1543.6h0M2236.0 1539.3h0M2234.9 1538.5h0M2240.1 1540.0h0M2242.4 1539.9h0M2233.1 1545.5h0M2235.8 1544.7h0M2232.6 1537.6h0M2236.2 1535.8h0M2237.2 1537.2h0M2231.8 1541.9h0M2239.8 1541.7h0M2238.5 1542.2h0M2231.9 1538.8h0M2234.7 1537.6h0M2238.2 1544.5h0M2237.5 1540.7h0M2237.0 1537.7h0M2237.9 1543.0h0M2238.2 1542.2h0M2236.5 1540.0h0M2231.6 1537.9h0M2232.2 1541.3h0M2237.1 1541.9h0M2237.2 1546.4h0M2232.3 1540.2h0M2237.9 1543.2h0M2237.0 1538.3h0M2241.7 1542.5h0M2236.2 1539.2h0M2231.9 1542.2h0M2234.6 1537.8h0M2233.7 1545.7h0M2237.5 1536.7h0M2239.3 1542.2h0M2238.2 1540.8h0M2238.4 1540.9h0" stroke="#d22f4d" stroke-width="2.0" stroke-linecap="round" fill="none"/>
<path d="M2286.9 1540.8h0M2287.0 1541.0h0M2289.6 1540.1h0M2293.8 1539.6h0M2287.4 1544.6h0M2292.6 1542.4h0M2292.0 1539.0h0M2286.7 1540.6h0M2284.7 1542.3h0M2288.3 1544.2h0M2291.0 1536.8h0M2281.9 1537.3h0M2285.7 1546.6h0M2288.3 1542.3h0M2287.5 1543.5h0M2285.0 1538.3h0M2287.7 1540.7h0M2281.8 1544.1h0M2284.2 1540.2h0M2294.2 1537.3h0M2290.8 1540.6h0M2282.7 1543.2h0M2289.4 1545.5h0M2287.2 1544.4h0M2288.9 1540.8h0M2288.7 1541.1h0M2285.7 1540.4h0M2282.6 1541.6h0M2288.1 1541.5h0M2286.0 1544.2h0M2288.8 1539.2h0M2288.7 1538.3h0M2287.9 1541.6h0M2293.5 1542.1h0M2291.6 1544.4h0M2292.0 1538.3h0M2288.9 1545.5h0M2284.1 1543.8h0M2288.3 1541.4h0M2284.4 1539.0h0M2290.2 1545.4h0M2283.8 1541.6h0M2288.5 1537.0h0M2282.9 1540.3h0M2286.6 1541.3h0M2284.1 1545.7h0M2285.9 1538.6h0M2289.4 1542.7h0M2287.7 1542.3h0M2284.0 1544.5h0M2288.9 1541.9h0M2290.8 1544.5h0M2287.6 1543.4h0M2292.5 1545.9h0M2290.3 1538.5h0M2289.0 1540.5h0M2288.9 1542.2h0M2294.6 1541.1h0M2286.2 1545.8h0M2291.9 1537.7h0M2291.4 1542.4h0M2289.2 1538.5h0M2288.6 1541.8h0M2288.5 1541.9h0M2286.7 1536.9h0M2289.9 1540.7h0M2293.8 1539.8h0M2284.9 1541.6h0M2289.6 1544.1h0M2289.4 1542.3h0" stroke="#6a4bb5" stroke-width="2.0" stroke-linecap="round" fill="none"/>
<path d="M2308.3 1547.5h0M2309.8 1545.6h0M2314.0 1545.8h0M2313.4 1544.9h0M2314.0 1546.6h0M2314.6 1545.6h0M2309.8 1544.9h0M2308.6 1542.7h0M2306.8 1547.3h0M2311.7 1544.9h0M2310.1 1545.6h0M2308.1 1550.2h0M2305.4 1547.2h0M2309.8 1545.7h0M2311.9 1544.5h0M2311.0 1550.5h0M2311.9 1544.1h0M2311.0 1550.0h0M2308.0 1547.2h0M2305.3 1545.8h0M2310.5 1548.9h0M2311.8 1546.3h0M2304.7 1545.3h0M2308.3 1547.9h0M2312.1 1549.2h0M2309.0 1548.3h0M2310.7 1542.5h0M2311.5 1548.5h0M2315.3 1544.4h0M2310.1 1546.4h0M2308.6 1545.8h0M2308.7 1545.3h0M2306.3 1543.7h0M2313.8 1543.2h0M2308.6 1544.9h0M2308.1 1542.0h0M2309.1 1547.3h0M2308.0 1542.5h0M2309.4 1541.4h0M2311.8 1548.0h0M2310.6 1540.3h0M2307.6 1543.4h0M2311.0 1544.0h0M2310.4 1549.6h0M2309.1 1549.9h0M2311.9 1545.6h0M2309.9 1550.4h0M2308.5 1547.3h0M2313.8 1547.9h0M2310.6 1549.3h0M2308.3 1542.4h0M2303.1 1543.3h0M2310.6 1545.0h0M2314.4 1547.6h0M2305.9 1548.7h0M2308.3 1547.3h0M2313.7 1548.7h0M2315.5 1546.3h0M2310.8 1548.9h0M2309.1 1544.5h0M2308.9 1547.2h0M2310.4 1550.5h0M2310.0 1548.1h0M2313.8 1543.4h0M2310.4 1540.6h0M2309.3 1545.6h0M2308.9 1540.8h0M2310.9 1546.4h0M2311.9 1545.9h0M2312.9 1542.7h0" stroke="#c43fb0" stroke-width="2.0" stroke-linecap="round" fill="none"/>
<path d="M2204.6 1546.3h0M2199.7 1545.1h0M2200.3 1551.0h0M2205.0 1546.9h0M2207.8 1548.2h0M2203.0 1545.8h0M2201.9 1546.0h0M2206.5 1550.3h0M2204.3 1549.7h0M2203.9 1545.1h0M2200.8 1548.5h0M2206.0 1546.3h0M2200.0 1547.5h0M2203.7 1544.8h0M2206.1 1550.7h0M2199.6 1549.9h0M2202.7 1551.8h0M2205.2 1546.8h0M2207.2 1543.6h0M2205.9 1546.6h0M2201.2 1551.8h0M2201.9 1543.8h0M2205.4 1550.4h0M2204.8 1550.7h0M2199.0 1547.7h0M2201.8 1545.6h0M2206.4 1547.9h0M2206.0 1546.9h0M2204.6 1549.4h0M2205.7 1545.1h0M2200.6 1544.2h0M2201.6 1544.6h0M2204.2 1542.6h0M2209.6 1549.0h0M2204.8 1546.6h0M2201.8 1543.3h0M2208.5 1550.8h0M2203.4 1543.6h0M2199.0 1545.9h0M2203.6 1551.8h0M2209.5 1546.6h0M2206.0 1552.1h0M2206.9 1548.5h0M2206.2 1550.5h0M2203.0 1551.3h0M2205.1 1546.8h0M2200.6 1543.5h0M2204.3 1544.2h0M2206.8 1549.2h0M2207.1 1545.2h0M2205.5 1542.4h0M2207.7 1541.6h0M2206.5 1544.0h0M2209.5 1552.1h0M2211.0 1546.4h0M2203.5 1542.6h0M2201.6 1547.3h0M2205.4 1546.5h0M2208.9 1546.7h0M2202.7 1544.0h0M2205.4 1552.6h0M2209.8 1549.8h0M2205.3 1548.4h0M2203.2 1545.7h0M2203.2 1545.7h0M2199.6 1551.1h0M2202.2 1552.4h0M2203.7 1548.1h0M2203.2 1549.4h0M2206.0 1550.0h0" stroke="#4fc03a" stroke-width="2.0" stroke-linecap="round" fill="none"/>
<path d="M2270.8 1545.5h0M2263.6 1553.5h0M2273.0 1549.8h0M2267.1 1554.5h0M2269.4 1546.0h0M2268.5 1549.8h0M2271.0 1551.0h0M2268.4 1551.2h0M2268.8 1549.1h0M2270.0 1555.0h0M2268.4 1550.3h0M2272.7 1551.9h0M2270.6 1552.8h0M2265.6 1549.7h0M2270.7 1553.2h0M2265.9 1553.4h0M2270.5 1547.0h0M2275.1 1548.4h0M2262.6 1550.5h0M2265.6 1545.0h0M2264.3 1552.1h0M2264.1 1552.3h0M2267.8 1547.7h0M2267.3 1547.3h0M2270.2 1548.8h0M2263.6 1553.5h0M2262.8 1551.5h0M2266.9 1552.0h0M2268.4 1555.0h0M2266.2 1551.2h0M2265.6 1545.3h0M2263.9 1552.9h0M2269.2 1546.7h0M2265.2 1548.8h0M2265.9 1549.9h0M2267.6 1545.8h0M2267.1 1554.9h0M2271.1 1551.8h0M2266.5 1550.3h0M2268.7 1548.6h0M2266.4 1554.3h0M2270.9 1554.6h0M2270.6 1548.8h0M2272.7 1549.6h0M2271.3 1550.1h0M2263.1 1548.9h0M2263.6 1552.6h0M2263.0 1548.0h0M2272.1 1550.7h0M2267.4 1548.2h0M2272.1 1547.0h0M2272.7 1552.0h0M2264.7 1554.4h0M2266.1 1546.6h0M2271.9 1553.8h0M2271.5 1550.7h0M2268.6 1545.9h0M2262.9 1550.0h0M2268.6 1553.9h0M2263.3 1553.5h0M2267.0 1552.2h0M2268.1 1553.9h0M2267.6 1550.2h0M2265.5 1550.6h0M2267.8 1550.9h0M2266.4 1547.8h0M2262.4 1552.3h0M2269.9 1549.3h0M2268.3 1552.3h0M2264.1 1549.1h0" stroke="#2e7fd0" stroke-width="2.0" stroke-linecap="round" fill="none"/>
<path d="M2345.0 1551.4h0M2344.0 1551.4h0M2341.2 1551.9h0M2345.0 1550.5h0M2338.7 1550.8h0M2342.8 1548.5h0M2344.2 1551.3h0M2338.4 1550.4h0M2341.1 1550.1h0M2341.7 1546.8h0M2340.2 1548.0h0M2343.3 1552.7h0M2345.0 1551.9h0M2343.9 1549.9h0M2345.0 1551.9h0M2338.7 1548.2h0M2339.0 1548.1h0M2341.1 1550.9h0M2342.1 1547.0h0M2342.4 1546.8h0M2343.2 1551.3h0M2342.1 1549.4h0M2339.6 1553.2h0M2344.3 1549.0h0M2343.6 1549.3h0M2336.7 1549.7h0M2338.2 1551.5h0M2338.7 1549.5h0M2342.4 1550.3h0M2341.8 1549.9h0M2344.6 1550.8h0M2345.8 1551.0h0M2340.0 1546.4h0M2345.1 1549.6h0M2339.6 1546.2h0M2339.8 1550.8h0M2341.8 1545.8h0M2340.3 1549.1h0M2341.6 1548.6h0M2339.6 1549.5h0M2344.5 1546.8h0M2342.5 1548.9h0M2343.9 1548.2h0M2338.3 1551.5h0M2339.8 1549.3h0M2340.1 1545.9h0M2343.9 1546.9h0M2338.2 1549.3h0M2340.7 1552.8h0M2339.1 1552.5h0M2341.6 1547.6h0M2339.0 1546.0h0M2343.5 1546.6h0M2342.2 1553.3h0M2341.1 1545.7h0M2340.4 1545.1h0M2346.0 1548.4h0M2342.6 1553.8h0M2345.2 1549.7h0M2341.3 1549.2h0M2345.8 1549.4h0M2338.7 1552.8h0M2344.7 1548.3h0M2336.9 1550.3h0M2341.7 1549.8h0M2343.7 1547.2h0M2343.5 1551.3h0M2345.6 1548.6h0M2338.9 1549.3h0M2344.6 1550.2h0" stroke="#2d3fa8" stroke-width="2.0" stroke-linecap="round" fill="none"/>
<path d="M2289.8 1559.4h0M2287.7 1554.3h0M2294.3 1553.7h0M2287.5 1560.5h0M2288.8 1559.9h0M2289.2 1561.5h0M2289.6 1557.8h0M2287.3 1556.2h0M2291.8 1554.3h0M2291.3 1555.4h0M2297.2 1556.9h0M2293.1 1561.1h0M2289.8 1557.0h0M2293.8 1559.8h0M2294.1 1554.1h0M2295.7 1555.1h0M2296.7 1559.2h0M2291.0 1560.7h0M2288.1 1557.2h0M2296.8 1557.9h0M2292.5 1556.7h0M2291.4 1558.2h0M2293.1 1558.5h0M2292.7 1558.4h0M2297.2 1559.2h0M2295.1 1557.5h0M2283.9 1560.4h0M2293.1 1553.4h0M2293.4 1558.0h0M2287.5 1557.6h0M2293.8 1553.2h0M2294.4 1560.7h0M2292.9 1556.5h0M2294.7 1558.3h0M2291.0 1558.6h0M2296.9 1556.1h0M2294.9 1559.4h0M2294.8 1558.6h0M2287.9 1555.9h0M2291.7 1559.2h0M2293.6 1555.1h0M2297.1 1555.3h0M2287.6 1561.6h0M2293.2 1563.3h0M2290.2 1553.4h0M2297.1 1556.6h0M2291.8 1563.4h0M2292.9 1558.6h0M2289.6 1559.1h0M2289.5 1558.3h0M2291.1 1559.9h0M2288.9 1557.0h0M2289.5 1555.1h0M2294.8 1562.2h0M2287.0 1560.9h0M2291.3 1561.2h0M2293.1 1559.9h0M2287.9 1556.3h0M2293.5 1558.9h0M2291.2 1559.5h0M2292.3 1560.5h0M2289.8 1558.3h0M2286.2 1556.4h0M2292.2 1559.6h0M2289.7 1554.7h0M2294.6 1558.2h0M2287.1 1560.8h0M2297.6 1559.0h0M2290.1 1561.1h0M2291.9 1558.6h0" stroke="#45c8c0" stroke-width="2.0" stroke-linecap="round" fill="none"/>
<path d="M2251.0 1558.7h0M2247.5 1557.6h0M2246.4 1560.9h0M2250.8 1555.3h0M2248.1 1555.5h0M2247.2 1556.1h0M2253.6 1557.3h0M2250.0 1559.3h0M2247.7 1556.1h0M2247.1 1561.2h0M2246.5 1554.0h0M2244.0 1560.6h0M2247.3 1561.0h0M2247.2 1557.7h0M2243.2 1557.5h0M2251.5 1560.7h0M2245.5 1561.3h0M2246.0 1556.4h0M2252.0 1553.6h0M2248.9 1557.0h0M2247.1 1555.5h0M2252.1 1557.1h0M2252.2 1556.9h0M2244.6 1560.2h0M2251.4 1554.3h0M2245.5 1554.2h0M2253.0 1560.8h0M2245.6 1556.8h0M2247.4 1558.1h0M2252.0 1559.7h0M2245.3 1556.2h0M2246.2 1556.4h0M2246.9 1554.5h0M2248.4 1557.2h0M2248.8 1553.0h0M2251.2 1557.7h0M2250.6 1561.7h0M2254.2 1558.4h0M2248.6 1556.4h0M2246.9 1561.3h0M2243.5 1558.2h0M2247.5 1554.5h0M2253.5 1558.6h0M2249.6 1560.7h0M2248.9 1561.1h0M2249.2 1556.5h0M2250.4 1558.7h0M2250.7 1557.1h0M2246.5 1556.2h0M2244.0 1556.0h0M2252.7 1555.7h0M2250.4 1555.9h0M2247.3 1554.2h0M2251.3 1560.2h0M2248.6 1556.5h0M2243.8 1553.6h0M2250.3 1560.3h0M2249.3 1555.5h0M2248.2 1558.5h0M2246.5 1555.9h0M2250.6 1559.4h0M2250.1 1557.6h0M2255.2 1557.2h0M2249.3 1557.6h0M2251.6 1558.1h0M2246.3 1561.4h0M2251.0 1562.1h0M2249.5 1562.7h0M2247.2 1560.6h0M2245.0 1555.5h0" stroke="#7a4bb5" stroke-width="2.0" stroke-linecap="round" fill="none"/>
<path d="M2319.9 1562.0h0M2316.1 1558.5h0M2316.5 1561.6h0M2312.1 1559.3h0M2317.6 1561.7h0M2318.9 1559.5h0M2320.0 1560.8h0M2313.5 1557.5h0M2313.3 1564.7h0M2322.2 1558.2h0M2320.7 1561.0h0M2319.2 1559.7h0M2323.4 1561.6h0M2316.0 1556.5h0M2314.5 1560.7h0M2314.9 1560.7h0M2321.9 1567.5h0M2317.3 1561.8h0M2316.2 1563.8h0M2315.7 1563.9h0M2312.9 1561.8h0M2315.5 1565.2h0M2315.4 1560.6h0M2314.5 1564.9h0M2321.7 1560.2h0M2320.1 1562.0h0M2314.5 1563.0h0M2317.2 1561.5h0M2321.6 1563.9h0M2316.6 1561.6h0M2318.4 1563.0h0M2320.6 1561.0h0M2316.9 1564.2h0M2312.1 1564.1h0M2316.9 1564.4h0M2315.0 1560.9h0M2317.2 1558.6h0M2316.5 1560.0h0M2313.1 1559.8h0M2313.0 1564.5h0M2315.3 1561.5h0M2316.7 1566.3h0M2322.0 1564.7h0M2322.0 1560.1h0M2317.3 1563.2h0M2313.3 1562.6h0M2321.6 1558.7h0M2320.9 1565.0h0M2313.6 1561.8h0M2315.5 1556.8h0M2312.7 1557.9h0M2318.7 1564.9h0M2320.3 1563.1h0M2311.9 1559.2h0M2316.2 1563.0h0M2318.6 1559.9h0M2316.9 1560.2h0M2317.9 1562.2h0M2312.2 1561.0h0M2318.5 1562.5h0M2321.3 1560.5h0M2321.9 1564.5h0M2317.9 1557.2h0M2312.7 1562.7h0M2317.2 1562.6h0M2317.2 1564.9h0M2321.3 1560.2h0M2320.2 1558.9h0M2317.6 1564.3h0M2316.5 1562.0h0" stroke="#3fa860" stroke-width="2.0" stroke-linecap="round" fill="none"/>
<path d="M2368.9 1564.8h0M2370.1 1561.0h0M2376.5 1563.0h0M2372.4 1559.9h0M2371.0 1564.7h0M2369.8 1564.1h0M2373.6 1558.8h0M2373.6 1562.6h0M2370.8 1559.7h0M2368.8 1563.9h0M2372.1 1560.2h0M2374.2 1561.0h0M2369.8 1561.5h0M2370.5 1562.6h0M2369.8 1562.5h0M2369.3 1564.5h0M2374.3 1564.2h0M2377.2 1559.8h0M2373.1 1562.2h0M2372.0 1563.2h0M2373.6 1557.9h0M2369.6 1558.3h0M2376.8 1562.0h0M2369.9 1562.7h0M2375.4 1558.6h0M2368.0 1562.6h0M2372.8 1562.2h0M2371.8 1561.3h0M2370.9 1559.0h0M2371.9 1565.1h0M2368.4 1565.0h0M2374.5 1560.9h0M2371.6 1565.4h0M2374.6 1564.2h0M2373.1 1557.8h0M2375.0 1566.9h0M2373.0 1559.7h0M2369.6 1562.3h0M2368.1 1565.2h0M2376.9 1561.3h0M2373.7 1558.2h0M2370.5 1565.0h0M2369.9 1564.9h0M2376.5 1559.3h0M2372.8 1564.3h0M2370.5 1561.9h0M2371.2 1560.4h0M2371.5 1559.5h0M2377.6 1561.9h0M2377.4 1566.4h0M2377.9 1563.6h0M2368.5 1563.0h0M2372.5 1564.4h0M2374.5 1561.3h0M2367.1 1563.4h0M2372.7 1557.7h0M2366.9 1562.5h0M2374.0 1565.6h0M2367.1 1565.0h0M2375.4 1564.1h0M2368.3 1560.1h0M2374.6 1562.4h0M2370.9 1557.9h0M2370.5 1566.6h0M2368.9 1562.7h0M2377.8 1560.1h0M2370.4 1563.2h0M2376.1 1560.0h0M2372.9 1562.4h0M2370.0 1559.8h0" stroke="#d62728" stroke-width="2.0" stroke-linecap="round" fill="none"/>
<path d="M2231.4 1568.8h0M2227.5 1569.3h0M2225.2 1567.4h0M2226.3 1573.3h0M2222.6 1564.1h0M2221.7 1569.8h0M2226.5 1572.1h0M2223.8 1570.3h0M2221.9 1567.8h0M2223.5 1565.3h0M2226.7 1567.9h0M2223.0 1573.3h0M2227.0 1572.6h0M2227.3 1573.7h0M2225.7 1564.3h0M2229.4 1567.3h0M2229.4 1570.0h0M2221.1 1571.1h0M2226.3 1572.5h0M2230.5 1569.2h0M2222.6 1571.9h0M2228.8 1570.9h0M2227.3 1571.3h0M2227.9 1564.0h0M2223.6 1568.9h0M2221.2 1567.2h0M2220.6 1571.3h0M2221.2 1565.9h0M2228.0 1570.2h0M2226.8 1568.5h0M2223.2 1564.9h0M2228.7 1568.1h0M2228.1 1569.2h0M2220.9 1570.5h0M2230.6 1570.7h0M2224.7 1568.8h0M2226.8 1569.9h0M2223.1 1568.5h0M2227.6 1570.6h0M2218.0 1567.3h0M2229.6 1565.8h0M2223.8 1569.4h0M2230.1 1568.9h0M2231.3 1569.0h0M2219.3 1569.9h0M2227.1 1571.3h0M2227.1 1570.5h0M2229.2 1566.1h0M2223.3 1566.1h0M2226.1 1571.6h0M2224.6 1563.7h0M2229.0 1567.0h0M2227.2 1572.1h0M2220.7 1570.4h0M2224.4 1566.9h0M2219.6 1571.4h0M2230.5 1569.4h0M2224.1 1573.3h0M2225.3 1568.9h0M2224.4 1566.9h0M2224.2 1564.5h0M2223.7 1570.8h0M2225.4 1568.3h0M2222.9 1574.1h0M2221.7 1572.7h0M2227.7 1571.3h0M2229.7 1571.2h0M2218.1 1573.5h0M2222.0 1565.2h0M2223.0 1569.7h0" stroke="#3fb85a" stroke-width="2.0" stroke-linecap="round" fill="none"/>
<path d="M2272.3 1570.8h0M2274.4 1570.6h0M2276.4 1574.6h0M2273.7 1569.2h0M2278.1 1568.4h0M2272.8 1569.4h0M2273.8 1569.9h0M2275.4 1570.6h0M2268.9 1568.4h0M2271.2 1571.2h0M2267.4 1567.9h0M2272.1 1569.0h0M2273.2 1571.9h0M2273.4 1571.7h0M2273.6 1574.7h0M2269.7 1573.7h0M2274.6 1569.6h0M2272.5 1567.5h0M2274.4 1568.4h0M2274.7 1570.5h0M2271.6 1572.9h0M2272.0 1567.4h0M2267.3 1568.8h0M2277.3 1573.6h0M2277.8 1568.9h0M2272.1 1565.6h0M2270.6 1565.8h0M2266.7 1570.8h0M2274.3 1571.5h0M2277.6 1567.6h0M2271.5 1569.7h0M2270.8 1568.7h0M2272.4 1567.5h0M2275.1 1570.6h0M2277.8 1572.1h0M2274.2 1574.5h0M2272.5 1570.5h0M2275.4 1566.2h0M2273.8 1574.0h0M2278.3 1571.2h0M2270.1 1567.5h0M2268.3 1568.7h0M2268.3 1571.8h0M2270.1 1573.7h0M2271.2 1570.6h0M2278.0 1571.5h0M2274.1 1571.3h0M2274.1 1567.6h0M2273.4 1574.9h0M2275.8 1574.0h0M2270.6 1571.2h0M2276.7 1570.5h0M2268.1 1570.9h0M2269.5 1567.4h0M2269.3 1571.0h0M2277.2 1571.5h0M2276.9 1570.6h0M2274.3 1569.4h0M2272.4 1567.5h0M2269.5 1571.7h0M2268.0 1569.3h0M2271.5 1573.6h0M2276.6 1573.5h0M2266.9 1571.0h0M2274.2 1572.1h0M2267.2 1569.8h0M2268.6 1566.6h0M2276.4 1571.2h0M2269.3 1570.2h0M2269.3 1566.4h0" stroke="#e0802a" stroke-width="2.0" stroke-linecap="round" fill="none"/>
<path d="M2337.2 1571.2h0M2335.1 1571.9h0M2336.9 1565.5h0M2338.3 1571.6h0M2334.7 1569.2h0M2341.6 1568.2h0M2343.4 1566.2h0M2333.7 1571.5h0M2334.2 1561.8h0M2333.2 1565.4h0M2335.8 1569.9h0M2342.8 1568.0h0M2340.2 1572.6h0M2335.0 1565.1h0M2338.7 1564.3h0M2341.5 1566.3h0M2338.5 1565.7h0M2336.4 1573.2h0M2337.7 1568.2h0M2343.4 1566.9h0M2332.0 1569.2h0M2341.1 1565.1h0M2339.6 1569.3h0M2337.3 1569.5h0M2342.9 1567.6h0M2336.6 1570.0h0M2337.5 1573.8h0M2338.4 1565.7h0M2333.8 1565.5h0M2334.4 1568.7h0M2336.3 1568.2h0M2338.7 1570.4h0M2340.2 1566.3h0M2333.0 1567.7h0M2343.1 1568.2h0M2337.1 1563.8h0M2340.2 1565.2h0M2329.0 1569.2h0M2340.3 1566.5h0M2336.6 1573.9h0M2334.7 1572.7h0M2338.3 1569.8h0M2340.1 1571.1h0M2341.1 1571.0h0M2343.5 1572.2h0M2337.8 1565.9h0M2338.1 1568.1h0M2342.6 1566.4h0M2336.7 1568.7h0M2341.6 1568.4h0M2332.6 1566.5h0M2334.9 1571.5h0M2342.9 1564.2h0M2332.0 1567.7h0M2335.9 1567.2h0M2342.5 1567.8h0M2338.4 1569.4h0M2332.8 1567.1h0M2341.5 1565.9h0M2339.4 1564.9h0M2338.7 1564.2h0M2330.4 1564.7h0M2337.1 1574.1h0M2342.6 1568.5h0M2338.9 1572.3h0M2338.6 1567.0h0M2337.8 1570.0h0M2340.6 1567.2h0M2338.1 1573.9h0M2342.3 1566.4h0" stroke="#2d3fa0" stroke-width="2.0" stroke-linecap="round" fill="none"/>
<path d="M2299.1 1567.7h0M2309.0 1567.9h0M2306.6 1571.1h0M2301.0 1570.5h0M2304.6 1570.5h0M2307.5 1568.5h0M2299.5 1567.7h0M2305.2 1566.5h0M2306.9 1567.2h0M2303.6 1566.8h0M2302.5 1565.2h0M2302.6 1569.9h0M2304.4 1567.0h0M2305.4 1568.5h0M2303.5 1565.5h0M2301.6 1569.3h0M2306.7 1569.9h0M2301.4 1567.9h0M2304.9 1565.7h0M2303.2 1567.6h0M2306.5 1566.8h0" stroke="#7a4bb5" stroke-width="2.0" stroke-linecap="round" fill="none"/>
<path d="M2249.3 1585.6h0M2250.3 1586.7h0M2259.5 1586.6h0M2256.6 1582.1h0M2249.0 1583.7h0M2251.9 1580.4h0M2249.5 1579.4h0M2248.3 1581.5h0M2251.7 1585.3h0M2253.3 1582.1h0M2253.2 1583.6h0M2249.0 1585.7h0M2246.5 1586.4h0M2250.5 1584.9h0M2250.6 1583.2h0M2250.5 1581.9h0M2256.8 1580.9h0M2254.1 1582.0h0M2248.5 1580.7h0M2254.3 1583.6h0M2256.1 1584.0h0M2246.3 1581.0h0M2252.2 1584.2h0M2253.3 1580.1h0M2256.3 1586.4h0M2253.1 1584.1h0M2257.6 1583.2h0M2250.7 1583.1h0M2251.6 1583.4h0M2245.9 1583.5h0M2253.8 1579.8h0M2253.3 1580.1h0M2255.1 1585.4h0M2252.1 1585.8h0M2249.8 1583.8h0M2247.2 1586.9h0M2256.4 1581.6h0M2250.8 1585.2h0M2250.9 1582.4h0M2251.3 1586.9h0M2248.9 1580.4h0M2254.5 1582.0h0M2251.3 1582.5h0M2250.6 1580.8h0M2244.5 1584.4h0M2254.4 1584.3h0M2248.2 1579.8h0M2249.8 1588.5h0M2251.9 1584.5h0M2253.3 1579.7h0M2250.0 1585.9h0M2250.2 1587.1h0M2247.9 1579.4h0M2249.4 1583.5h0M2252.0 1585.6h0M2250.3 1587.9h0M2250.8 1587.7h0M2250.8 1588.8h0M2251.9 1583.4h0M2254.4 1585.8h0M2251.5 1587.8h0M2249.0 1587.5h0M2250.8 1580.2h0M2247.6 1580.1h0M2254.4 1582.8h0M2247.2 1583.5h0M2253.6 1585.0h0M2254.6 1585.4h0M2249.6 1581.8h0M2250.7 1579.0h0" stroke="#35b8d0" stroke-width="2.0" stroke-linecap="round" fill="none"/>
<path d="M2291.4 1581.0h0M2294.6 1575.8h0M2294.2 1577.1h0M2290.0 1580.8h0M2291.4 1578.3h0M2287.8 1578.8h0M2290.9 1580.0h0M2290.2 1577.9h0M2297.6 1581.2h0M2288.9 1580.5h0M2287.2 1580.7h0M2294.4 1574.9h0M2292.0 1578.8h0M2290.1 1576.3h0M2291.5 1584.5h0M2290.0 1577.7h0M2287.0 1582.6h0M2289.6 1576.6h0M2296.4 1580.0h0M2291.8 1583.9h0M2286.1 1580.6h0M2292.3 1582.2h0M2291.8 1574.6h0M2286.2 1580.6h0M2292.1 1576.2h0M2288.7 1582.0h0M2291.1 1575.7h0M2290.4 1579.9h0M2288.2 1581.1h0M2292.8 1580.2h0M2288.8 1583.4h0M2294.2 1577.9h0M2289.1 1581.5h0M2290.7 1583.5h0M2294.4 1578.4h0M2297.0 1581.5h0M2291.9 1581.6h0M2291.0 1580.1h0M2291.1 1581.6h0M2298.5 1577.5h0M2296.6 1582.2h0M2287.0 1581.5h0M2287.3 1578.5h0M2292.0 1578.6h0M2287.4 1582.4h0M2291.2 1576.8h0M2289.3 1579.8h0M2288.7 1581.3h0M2294.0 1581.2h0M2292.2 1577.4h0M2293.4 1580.4h0M2289.0 1580.7h0M2292.8 1581.3h0M2294.0 1580.6h0M2291.7 1578.1h0M2290.4 1581.6h0M2283.9 1577.9h0M2289.5 1581.1h0M2290.5 1583.5h0M2292.2 1579.6h0M2287.2 1578.7h0M2294.3 1576.8h0M2293.4 1576.3h0M2295.6 1579.5h0M2290.8 1582.9h0M2296.6 1581.6h0M2291.1 1579.3h0M2292.3 1578.0h0M2293.2 1577.7h0M2288.1 1583.5h0" stroke="#2e9ad0" stroke-width="2.0" stroke-linecap="round" fill="none"/>
<path d="M2314.0 1590.8h0M2308.2 1587.6h0M2307.5 1587.0h0M2313.6 1588.4h0M2310.2 1590.1h0M2307.7 1585.9h0M2307.2 1585.7h0M2311.9 1589.3h0M2302.5 1583.3h0M2305.0 1583.9h0M2301.8 1584.3h0M2309.1 1588.7h0M2310.7 1584.3h0M2313.4 1586.6h0M2309.1 1582.7h0M2301.3 1586.1h0M2301.9 1585.6h0M2304.3 1586.0h0M2311.7 1585.4h0M2305.2 1582.7h0M2312.5 1587.9h0M2312.2 1589.2h0M2310.0 1584.7h0M2303.1 1584.9h0M2306.3 1589.5h0M2307.1 1582.9h0M2314.9 1586.1h0M2314.0 1588.4h0M2307.6 1587.0h0M2314.7 1587.2h0M2304.6 1583.4h0M2312.9 1587.4h0M2306.8 1585.8h0M2308.9 1583.1h0M2312.9 1583.5h0M2314.1 1587.0h0M2315.9 1589.8h0M2307.6 1586.4h0M2307.3 1587.0h0M2304.9 1584.9h0M2310.3 1590.7h0M2306.9 1584.2h0M2300.9 1586.3h0M2308.8 1589.8h0M2307.9 1583.2h0M2316.9 1587.5h0M2304.2 1585.1h0M2314.3 1587.9h0M2305.9 1588.9h0M2307.3 1584.4h0M2314.8 1589.0h0M2305.1 1588.3h0M2308.8 1586.2h0M2314.8 1586.2h0M2304.4 1584.5h0M2310.3 1590.9h0M2301.5 1585.3h0M2308.1 1584.4h0M2309.0 1583.4h0M2309.7 1585.5h0M2308.4 1586.2h0M2300.9 1585.3h0M2311.3 1587.3h0M2304.4 1587.6h0M2309.7 1583.4h0M2304.1 1587.3h0M2308.0 1585.7h0M2314.7 1589.2h0M2308.1 1585.1h0M2312.0 1589.0h0" stroke="#8fc43a" stroke-width="2.0" stroke-linecap="round" fill="none"/>
<path d="M2335.2 1585.4h0M2336.1 1588.0h0M2337.8 1582.6h0M2337.3 1587.2h0M2332.8 1587.5h0M2333.9 1585.6h0M2330.1 1587.0h0M2335.5 1583.5h0M2338.1 1585.7h0M2332.9 1587.4h0M2331.7 1583.7h0M2334.4 1582.8h0M2333.3 1585.3h0M2338.5 1582.8h0M2338.3 1584.3h0M2330.4 1586.5h0M2332.3 1582.8h0M2334.3 1586.2h0M2338.1 1587.8h0M2329.3 1581.3h0M2332.3 1588.3h0M2334.4 1586.8h0M2332.7 1584.9h0M2337.0 1588.7h0M2331.1 1585.4h0M2335.5 1588.4h0M2336.2 1584.1h0M2334.2 1584.0h0M2334.9 1587.0h0M2333.5 1584.3h0M2335.6 1587.8h0M2333.7 1581.3h0M2331.8 1587.5h0M2335.5 1585.7h0M2332.0 1588.8h0M2339.1 1585.2h0M2338.5 1583.1h0M2337.4 1586.4h0M2337.3 1588.6h0M2339.1 1583.8h0M2335.0 1585.3h0M2331.8 1586.3h0M2333.5 1584.9h0M2335.3 1581.5h0M2338.1 1584.2h0M2333.9 1585.9h0M2335.9 1583.9h0M2333.8 1581.9h0M2335.5 1586.4h0M2332.7 1586.6h0M2329.8 1584.5h0M2332.0 1588.0h0M2331.1 1585.3h0M2335.7 1583.4h0M2338.0 1583.0h0M2336.7 1588.3h0M2333.8 1586.0h0M2336.3 1583.3h0M2331.6 1586.6h0M2335.9 1588.3h0M2337.0 1585.3h0M2334.0 1588.4h0M2330.7 1584.5h0M2333.9 1584.6h0M2333.8 1584.9h0M2337.0 1582.9h0M2336.7 1584.9h0M2338.3 1583.5h0M2333.6 1581.5h0M2335.6 1587.3h0" stroke="#2d3fa8" stroke-width="2.0" stroke-linecap="round" fill="none"/>
<path d="M2278.5 1593.3h0M2275.7 1590.7h0M2276.4 1594.5h0M2269.5 1594.1h0M2272.3 1592.6h0M2274.0 1593.1h0M2273.4 1593.9h0M2271.8 1592.9h0M2279.5 1594.4h0M2277.4 1592.2h0M2269.9 1595.5h0M2274.9 1595.0h0M2278.4 1593.7h0M2271.8 1597.2h0M2274.2 1597.8h0M2272.4 1590.6h0M2271.4 1591.5h0M2277.3 1596.5h0M2273.4 1594.4h0M2272.9 1594.1h0M2272.1 1595.6h0M2274.1 1591.4h0M2271.2 1591.0h0M2275.0 1589.7h0M2272.0 1593.9h0M2274.8 1589.8h0M2276.9 1588.6h0M2273.0 1593.3h0M2276.3 1597.9h0M2276.0 1596.3h0M2272.8 1588.8h0M2274.9 1595.5h0M2271.6 1594.5h0M2276.4 1593.7h0M2271.5 1593.8h0M2278.5 1595.4h0M2270.1 1591.5h0M2275.9 1595.1h0M2269.8 1594.1h0M2278.8 1594.1h0M2271.7 1598.1h0M2270.9 1592.5h0M2270.5 1590.9h0M2275.4 1594.3h0M2279.0 1593.2h0M2271.2 1593.7h0M2274.9 1590.1h0M2278.0 1595.6h0M2275.7 1592.1h0M2277.1 1589.3h0M2276.6 1594.0h0M2276.7 1595.2h0M2273.6 1596.6h0M2279.2 1595.7h0M2275.3 1595.4h0M2277.2 1596.9h0M2275.3 1595.4h0M2272.4 1594.8h0M2275.1 1591.5h0M2277.4 1595.9h0M2275.7 1591.5h0M2270.7 1594.0h0M2275.4 1592.9h0M2275.6 1596.1h0M2274.7 1588.9h0M2278.8 1594.5h0M2269.6 1594.4h0M2272.1 1593.4h0M2279.4 1592.6h0M2272.5 1590.8h0" stroke="#d03f8a" stroke-width="2.0" stroke-linecap="round" fill="none"/>
<path d="M2291.3 1606.5h0M2297.5 1605.5h0M2292.0 1611.5h0M2297.5 1607.9h0M2291.4 1611.7h0M2296.9 1612.9h0M2295.4 1612.8h0M2293.5 1606.5h0M2295.8 1608.0h0M2294.6 1604.5h0M2297.9 1610.6h0M2294.2 1604.9h0M2295.9 1609.0h0M2289.1 1609.9h0M2293.5 1605.1h0M2292.9 1609.7h0M2292.6 1608.6h0M2297.5 1612.4h0M2298.8 1606.0h0M2295.5 1606.3h0M2290.9 1608.1h0M2296.8 1606.9h0M2293.6 1609.3h0M2298.5 1611.5h0M2291.3 1604.7h0M2297.3 1609.9h0M2292.1 1607.8h0M2291.3 1610.3h0M2291.5 1609.2h0M2294.2 1610.5h0M2297.8 1607.0h0M2291.7 1613.0h0M2295.8 1610.9h0M2294.5 1613.3h0M2295.2 1606.5h0M2294.5 1607.8h0M2291.5 1610.5h0M2292.5 1604.5h0M2297.0 1608.0h0M2294.9 1610.0h0M2294.6 1608.3h0M2298.9 1604.4h0M2289.9 1611.4h0M2296.3 1610.2h0M2291.2 1604.8h0M2296.8 1611.9h0M2299.0 1606.9h0M2291.3 1605.3h0M2294.4 1606.8h0M2290.3 1609.4h0M2294.8 1610.9h0M2296.2 1609.2h0M2296.3 1607.5h0M2297.2 1612.3h0M2297.0 1609.2h0M2299.0 1607.9h0M2291.2 1607.4h0M2292.9 1605.5h0M2298.9 1606.1h0M2291.8 1605.5h0M2294.8 1611.4h0M2300.5 1612.1h0M2295.5 1613.0h0M2294.0 1609.1h0M2292.9 1609.9h0M2297.8 1608.8h0M2294.0 1611.1h0M2292.5 1611.5h0M2295.3 1611.9h0M2296.1 1607.1h0" stroke="#e0502a" stroke-width="2.0" stroke-linecap="round" fill="none"/>
<path d="M2267.7 1531.9h0M2265.3 1531.2h0M2265.3 1530.2h0M2271.5 1530.5h0M2271.8 1530.6h0M2270.2 1527.5h0M2268.3 1528.4h0M2271.7 1530.8h0M2268.3 1532.4h0M2270.7 1532.9h0M2264.2 1530.7h0M2269.5 1532.8h0M2271.5 1529.5h0M2269.3 1528.2h0" stroke="#3fb85a" stroke-width="2.0" stroke-linecap="round" fill="none"/>
<path d="M2319.7 1564.8h0M2314.6 1564.3h0M2317.4 1561.1h0M2317.7 1557.3h0M2315.9 1558.4h0M2317.4 1559.2h0M2320.7 1564.5h0M2316.4 1559.2h0M2316.0 1558.3h0M2318.8 1558.1h0M2318.4 1558.6h0M2317.8 1558.6h0M2317.3 1560.4h0M2318.4 1560.2h0" stroke="#2e7fd0" stroke-width="2.0" stroke-linecap="round" fill="none"/>
<path d="M2199.7 1619v1.6" stroke="#222" stroke-width="0.4"/><text class="sans" x="2199.7" y="1625.8" font-size="5.8" text-anchor="middle">−80</text>
<path d="M2222.8 1619v1.6" stroke="#222" stroke-width="0.4"/><text class="sans" x="2222.8" y="1625.8" font-size="5.8" text-anchor="middle">−60</text>
<path d="M2245.8 1619v1.6" stroke="#222" stroke-width="0.4"/><text class="sans" x="2245.8" y="1625.8" font-size="5.8" text-anchor="middle">−40</text>
<path d="M2268.9 1619v1.6" stroke="#222" stroke-width="0.4"/><text class="sans" x="2268.9" y="1625.8" font-size="5.8" text-anchor="middle">−20</text>
<path d="M2291.9 1619v1.6" stroke="#222" stroke-width="0.4"/><text class="sans" x="2291.9" y="1625.8" font-size="5.8" text-anchor="middle">0</text>
<path d="M2314.9 1619v1.6" stroke="#222" stroke-width="0.4"/><text class="sans" x="2314.9" y="1625.8" font-size="5.8" text-anchor="middle">20</text>
<path d="M2338.0 1619v1.6" stroke="#222" stroke-width="0.4"/><text class="sans" x="2338.0" y="1625.8" font-size="5.8" text-anchor="middle">40</text>
<path d="M2361.0 1619v1.6" stroke="#222" stroke-width="0.4"/><text class="sans" x="2361.0" y="1625.8" font-size="5.8" text-anchor="middle">60</text>
<path d="M2384.1 1619v1.6" stroke="#222" stroke-width="0.4"/><text class="sans" x="2384.1" y="1625.8" font-size="5.8" text-anchor="middle">80</text>
<path d="M2189.3 1609.6h-1.6" stroke="#222" stroke-width="0.4"/><text class="sans" x="2186.7" y="1611.7" font-size="5.8" text-anchor="end">−75</text>
<path d="M2189.3 1589.2h-1.6" stroke="#222" stroke-width="0.4"/><text class="sans" x="2186.7" y="1591.3" font-size="5.8" text-anchor="end">−50</text>
<path d="M2189.3 1568.8h-1.6" stroke="#222" stroke-width="0.4"/><text class="sans" x="2186.7" y="1570.9" font-size="5.8" text-anchor="end">−25</text>
<path d="M2189.3 1548.4h-1.6" stroke="#222" stroke-width="0.4"/><text class="sans" x="2186.7" y="1550.5" font-size="5.8" text-anchor="end">0</text>
<path d="M2189.3 1528.0h-1.6" stroke="#222" stroke-width="0.4"/><text class="sans" x="2186.7" y="1530.1" font-size="5.8" text-anchor="end">25</text>
<path d="M2189.3 1507.6h-1.6" stroke="#222" stroke-width="0.4"/><text class="sans" x="2186.7" y="1509.7" font-size="5.8" text-anchor="end">50</text>
<path d="M2189.3 1487.2h-1.6" stroke="#222" stroke-width="0.4"/><text class="sans" x="2186.7" y="1489.3" font-size="5.8" text-anchor="end">75</text>
<rect x="2071" y="1473.8" width="45" height="18.5" rx="1.5" fill="#fff" stroke="#ccc" stroke-width="0.5"/>
<path transform="translate(2079 1478.9) scale(0.42)" d="M0 -5 L1.2 -1.6 L4.8 -1.6 L1.9 0.6 L2.9 4 L0 2 L-2.9 4 L-1.9 0.6 L-4.8 -1.6 L-1.2 -1.6Z" fill="#111"/><circle cx="2079" cy="1487.3" r="1.3" fill="none" stroke="#222" stroke-width="0.6"/>
<text class="sans" x="2089" y="1481" font-size="5.6">Query</text><text class="sans" x="2089" y="1489.3" font-size="5.6">Retrieval</text>
<rect x="2339.5" y="1473.8" width="45" height="18.5" rx="1.5" fill="#fff" stroke="#ccc" stroke-width="0.5"/>
<path transform="translate(2347.5 1478.9) scale(0.42)" d="M0 -5 L1.2 -1.6 L4.8 -1.6 L1.9 0.6 L2.9 4 L0 2 L-2.9 4 L-1.9 0.6 L-4.8 -1.6 L-1.2 -1.6Z" fill="#111"/><circle cx="2347.5" cy="1487.3" r="1.3" fill="none" stroke="#222" stroke-width="0.6"/>
<text class="sans" x="2357.5" y="1481" font-size="5.6">Query</text><text class="sans" x="2357.5" y="1489.3" font-size="5.6">Retrieval</text>
</g></svg>
<div class="abs" style="left:1919px;width:200px;top:1637px;text-align:center;font-size:23.9px;line-height:32px;white-space:nowrap">Feature space</div>
<div class="abs" style="left:2187.8px;width:200px;top:1637px;text-align:center;font-size:23.9px;line-height:32px;white-space:nowrap">Hamming space</div>
<svg x="0" y="0" width="90" height="80" viewBox="0 0 1735 1542" style="left:1755px;top:320px;"><path d="M1100 225 H280 C210 225 210 445 280 445 H1100Z" fill="#fae3c6"/><path d="M1135 225 H280 C208 230 208 440 280 445 H1135" fill="none" stroke="#3a0e0b" stroke-width="40" stroke-linecap="round"/><path d="M1210 490 H410 C340 490 340 712 410 712 H1210Z" fill="#fae3c6"/><path d="M1270 490 H410 C338 495 338 707 410 712 H1270" fill="none" stroke="#3a0e0b" stroke-width="40" stroke-linecap="round"/><path d="M1050 762 H255 C185 762 185 978 255 978 H1050Z" fill="#fae3c6"/><path d="M1110 762 H255 C183 767 183 973 255 978 H1110" fill="none" stroke="#3a0e0b" stroke-width="40" stroke-linecap="round"/><path d="M355 290H670 M545 345H870 M365 392H565 M490 655H1075" stroke="#e8962a" stroke-width="26"/><g transform="translate(275,1095) rotate(-45.4)"><path d="M0 0 L210 -100 L210 100Z" fill="#fae3c6" stroke="#3a0e0b" stroke-width="30" stroke-linejoin="round"/><path d="M0 0 L90 -43 L90 43Z" fill="#3a0e0b"/><rect x="210" y="-100" width="640" height="100" fill="#f0a12c"/><rect x="210" y="0" width="640" height="100" fill="#b5302a"/><path d="M210 0H850" stroke="#3a0e0b" stroke-width="26"/><rect x="210" y="-100" width="640" height="200" fill="none" stroke="#3a0e0b" stroke-width="34"/><rect x="850" y="-112" width="115" height="224" fill="#3a0e0b"/><path d="M965 -100 H1050 C1135 -100 1135 100 1050 100 H965Z" fill="#2a98aa" stroke="#3a0e0b" stroke-width="30"/><path d="M1075 -10 C1090 10 1085 40 1065 55" stroke="#3a0e0b" stroke-width="20" fill="none" stroke-linecap="round"/></g></svg>
<svg x="0" y="0" width="90" height="80" viewBox="0 0 1735 1542" style="left:1755px;top:747px;"><path d="M1100 225 H280 C210 225 210 445 280 445 H1100Z" fill="#fae3c6"/><path d="M1135 225 H280 C208 230 208 440 280 445 H1135" fill="none" stroke="#3a0e0b" stroke-width="40" stroke-linecap="round"/><path d="M1210 490 H410 C340 490 340 712 410 712 H1210Z" fill="#fae3c6"/><path d="M1270 490 H410 C338 495 338 707 410 712 H1270" fill="none" stroke="#3a0e0b" stroke-width="40" stroke-linecap="round"/><path d="M1050 762 H255 C185 762 185 978 255 978 H1050Z" fill="#fae3c6"/><path d="M1110 762 H255 C183 767 183 973 255 978 H1110" fill="none" stroke="#3a0e0b" stroke-width="40" stroke-linecap="round"/><path d="M355 290H670 M545 345H870 M365 392H565 M490 655H1075" stroke="#e8962a" stroke-width="26"/><g transform="translate(275,1095) rotate(-45.4)"><path d="M0 0 L210 -100 L210 100Z" fill="#fae3c6" stroke="#3a0e0b" stroke-width="30" stroke-linejoin="round"/><path d="M0 0 L90 -43 L90 43Z" fill="#3a0e0b"/><rect x="210" y="-100" width="640" height="100" fill="#f0a12c"/><rect x="210" y="0" width="640" height="100" fill="#b5302a"/><path d="M210 0H850" stroke="#3a0e0b" stroke-width="26"/><rect x="210" y="-100" width="640" height="200" fill="none" stroke="#3a0e0b" stroke-width="34"/><rect x="850" y="-112" width="115" height="224" fill="#3a0e0b"/><path d="M965 -100 H1050 C1135 -100 1135 100 1050 100 H965Z" fill="#2a98aa" stroke="#3a0e0b" stroke-width="30"/><path d="M1075 -10 C1090 10 1085 40 1065 55" stroke="#3a0e0b" stroke-width="20" fill="none" stroke-linecap="round"/></g></svg>
<svg x="0" y="0" width="90" height="80" viewBox="0 0 1735 1542" style="left:1755px;top:1150px;"><path d="M1100 225 H280 C210 225 210 445 280 445 H1100Z" fill="#fae3c6"/><path d="M1135 225 H280 C208 230 208 440 280 445 H1135" fill="none" stroke="#3a0e0b" stroke-width="40" stroke-linecap="round"/><path d="M1210 490 H410 C340 490 340 712 410 712 H1210Z" fill="#fae3c6"/><path d="M1270 490 H410 C338 495 338 707 410 712 H1270" fill="none" stroke="#3a0e0b" stroke-width="40" stroke-linecap="round"/><path d="M1050 762 H255 C185 762 185 978 255 978 H1050Z" fill="#fae3c6"/><path d="M1110 762 H255 C183 767 183 973 255 978 H1110" fill="none" stroke="#3a0e0b" stroke-width="40" stroke-linecap="round"/><path d="M355 290H670 M545 345H870 M365 392H565 M490 655H1075" stroke="#e8962a" stroke-width="26"/><g transform="translate(275,1095) rotate(-45.4)"><path d="M0 0 L210 -100 L210 100Z" fill="#fae3c6" stroke="#3a0e0b" stroke-width="30" stroke-linejoin="round"/><path d="M0 0 L90 -43 L90 43Z" fill="#3a0e0b"/><rect x="210" y="-100" width="640" height="100" fill="#f0a12c"/><rect x="210" y="0" width="640" height="100" fill="#b5302a"/><path d="M210 0H850" stroke="#3a0e0b" stroke-width="26"/><rect x="210" y="-100" width="640" height="200" fill="none" stroke="#3a0e0b" stroke-width="34"/><rect x="850" y="-112" width="115" height="224" fill="#3a0e0b"/><path d="M965 -100 H1050 C1135 -100 1135 100 1050 100 H965Z" fill="#2a98aa" stroke="#3a0e0b" stroke-width="30"/><path d="M1075 -10 C1090 10 1085 40 1065 55" stroke="#3a0e0b" stroke-width="20" fill="none" stroke-linecap="round"/></g></svg>
<svg x="0" y="0" width="90" height="80" viewBox="0 0 1735 1542" style="left:1755px;top:1392.5px;"><path d="M1100 225 H280 C210 225 210 445 280 445 H1100Z" fill="#fae3c6"/><path d="M1135 225 H280 C208 230 208 440 280 445 H1135" fill="none" stroke="#3a0e0b" stroke-width="40" stroke-linecap="round"/><path d="M1210 490 H410 C340 490 340 712 410 712 H1210Z" fill="#fae3c6"/><path d="M1270 490 H410 C338 495 338 707 410 712 H1270" fill="none" stroke="#3a0e0b" stroke-width="40" stroke-linecap="round"/><path d="M1050 762 H255 C185 762 185 978 255 978 H1050Z" fill="#fae3c6"/><path d="M1110 762 H255 C183 767 183 973 255 978 H1110" fill="none" stroke="#3a0e0b" stroke-width="40" stroke-linecap="round"/><path d="M355 290H670 M545 345H870 M365 392H565 M490 655H1075" stroke="#e8962a" stroke-width="26"/><g transform="translate(275,1095) rotate(-45.4)"><path d="M0 0 L210 -100 L210 100Z" fill="#fae3c6" stroke="#3a0e0b" stroke-width="30" stroke-linejoin="round"/><path d="M0 0 L90 -43 L90 43Z" fill="#3a0e0b"/><rect x="210" y="-100" width="640" height="100" fill="#f0a12c"/><rect x="210" y="0" width="640" height="100" fill="#b5302a"/><path d="M210 0H850" stroke="#3a0e0b" stroke-width="26"/><rect x="210" y="-100" width="640" height="200" fill="none" stroke="#3a0e0b" stroke-width="34"/><rect x="850" y="-112" width="115" height="224" fill="#3a0e0b"/><path d="M965 -100 H1050 C1135 -100 1135 100 1050 100 H965Z" fill="#2a98aa" stroke="#3a0e0b" stroke-width="30"/><path d="M1075 -10 C1090 10 1085 40 1065 55" stroke="#3a0e0b" stroke-width="20" fill="none" stroke-linecap="round"/></g></svg>
</body></html>
